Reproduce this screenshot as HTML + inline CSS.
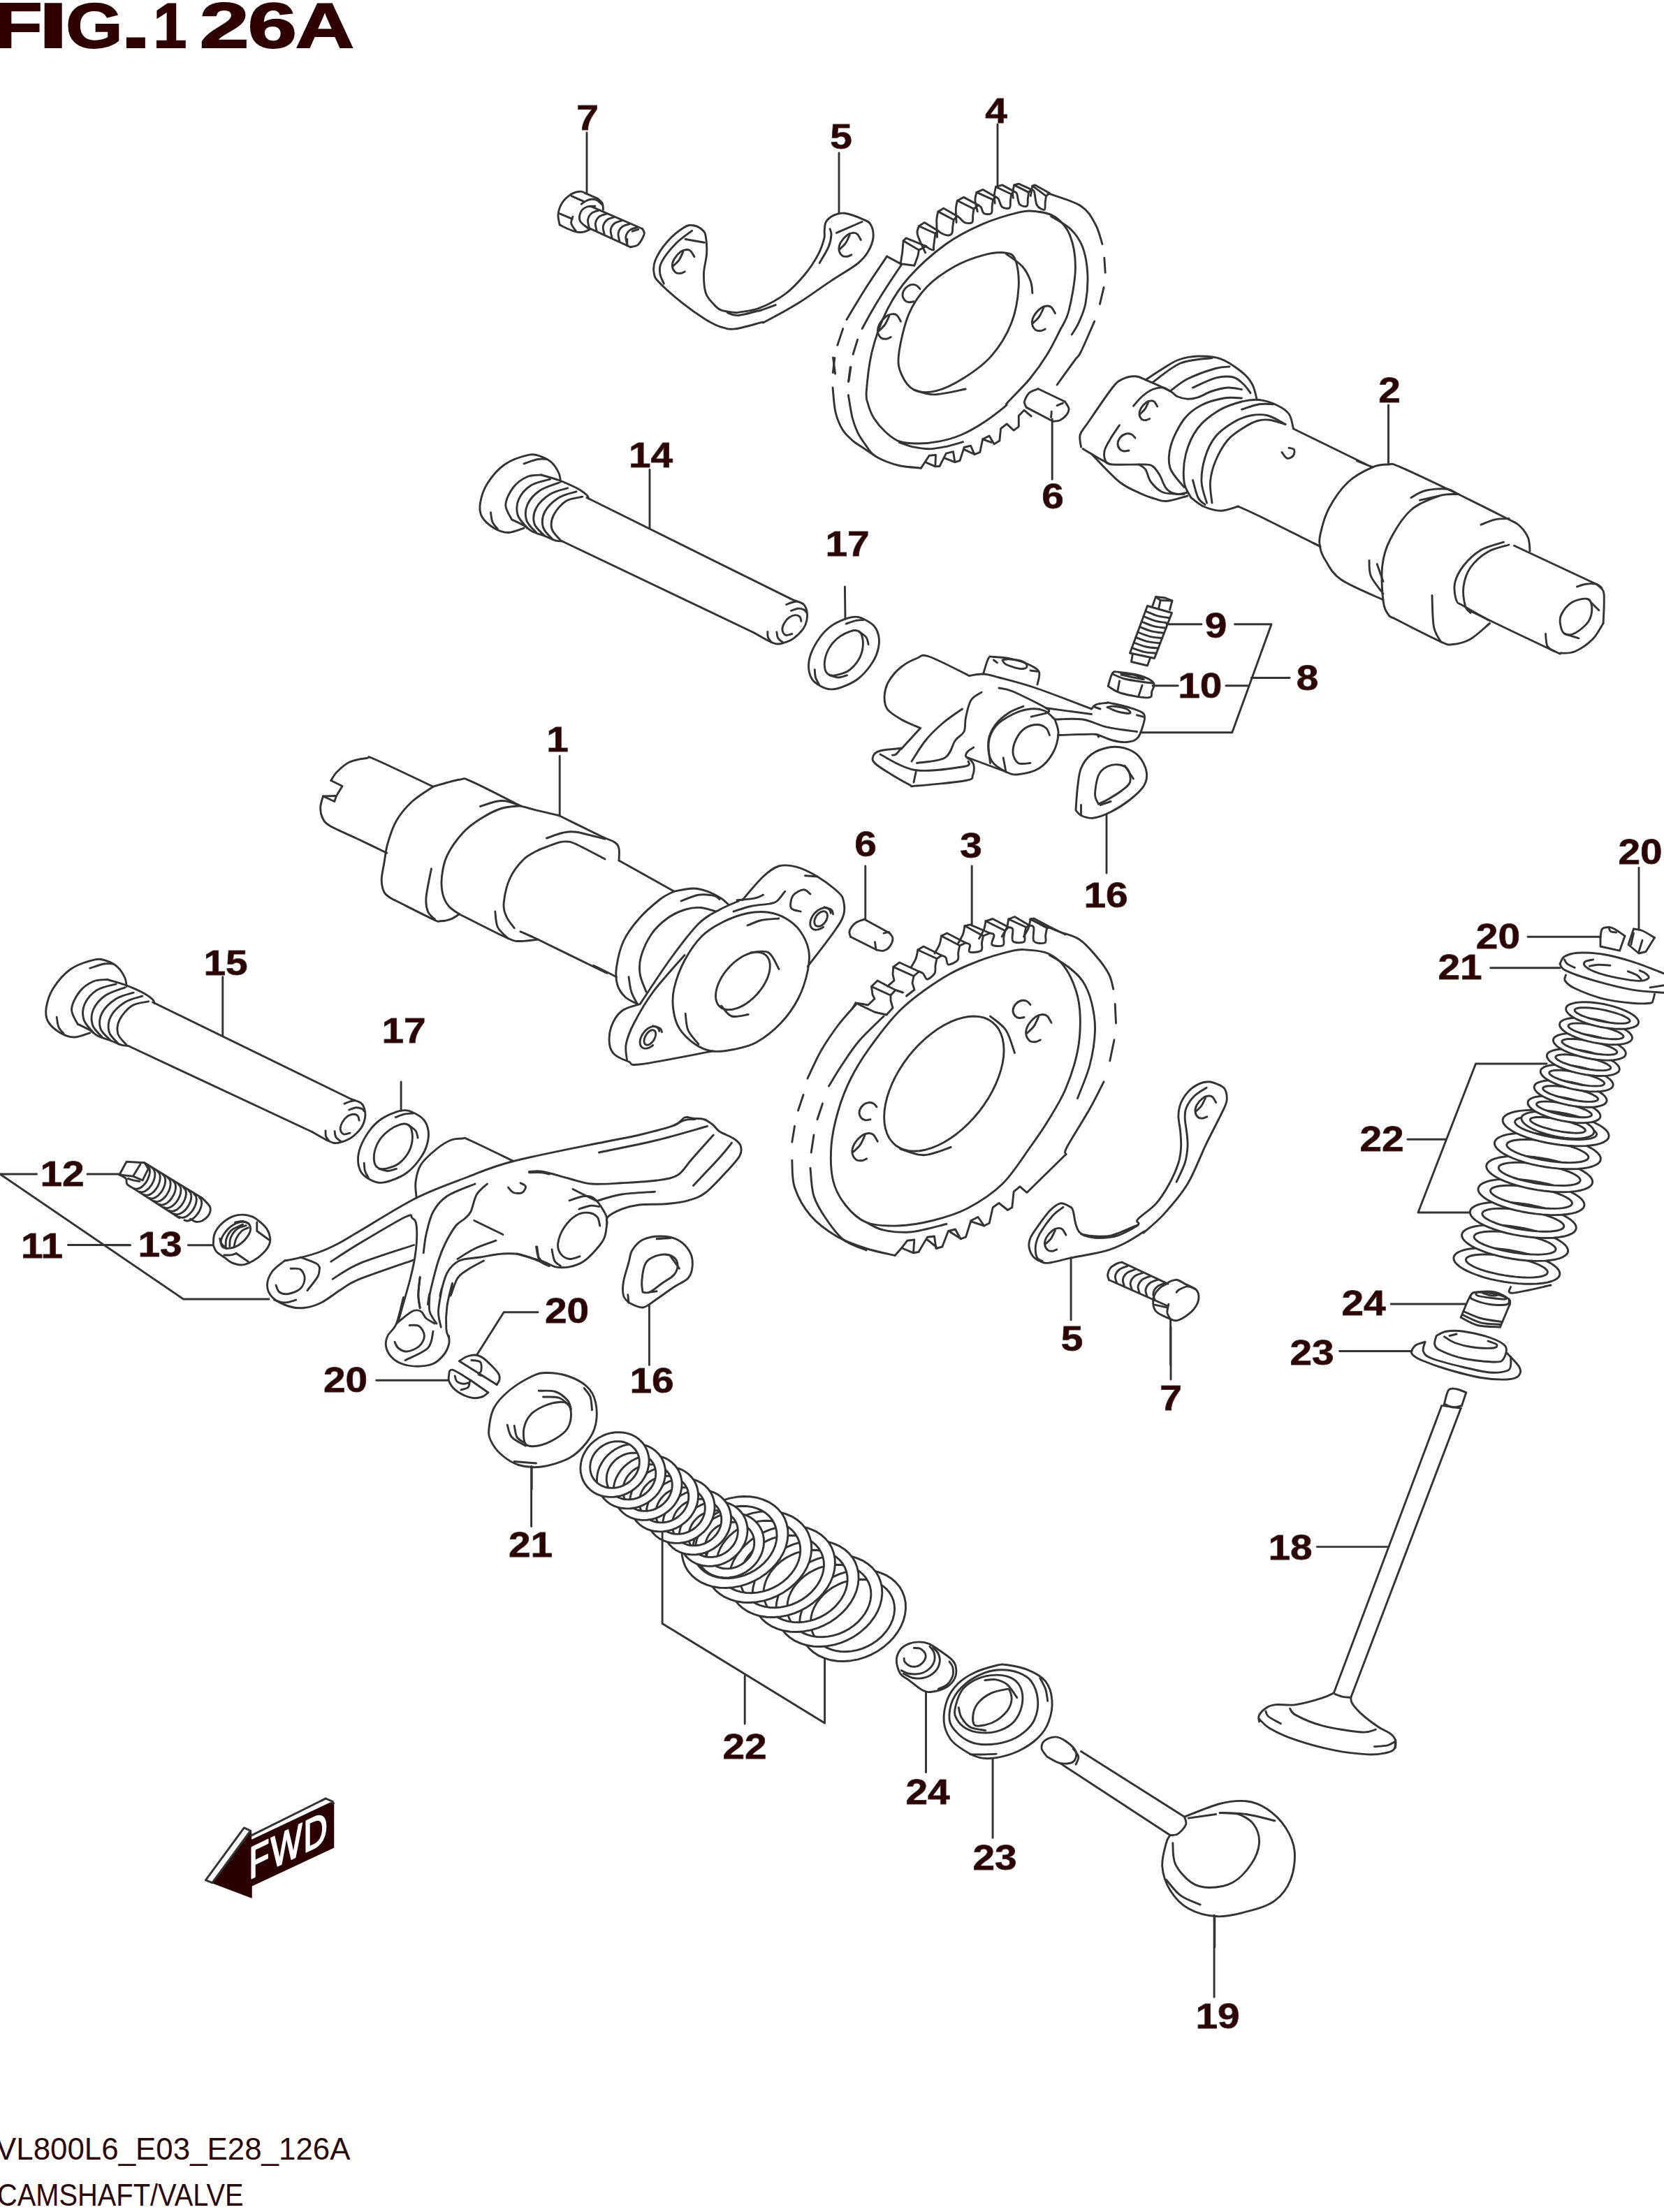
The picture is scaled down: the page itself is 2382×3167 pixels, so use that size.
<!DOCTYPE html>
<html><head><meta charset="utf-8"><style>
html,body{margin:0;padding:0;background:#fff;}
body{width:2382px;height:3167px;overflow:hidden;position:relative;}
.t{position:absolute;font-family:"Liberation Sans",sans-serif;color:#2a0808;white-space:nowrap;}
svg{position:absolute;left:0;top:0;}
</style></head><body>
<div class="t" id="f1" style="left:-6px;top:3051px;font-size:45px;transform-origin:0 0;transform:scaleX(0.975);">VL800L6_E03_E28_126A</div>
<div class="t" id="f2" style="left:-4px;top:3118px;font-size:44px;transform-origin:0 0;transform:scaleX(0.905);">CAMSHAFT/VALVE</div>
<svg width="2382" height="3167" viewBox="0 0 2382 3167">
<g fill="none" stroke="#333" stroke-width="2.9" stroke-linecap="round" stroke-linejoin="round">
<!-- a01_bolt7.py -->
<path d="M801.2 321.9 C800.9 319.4 798.4 312.2 799 306.9 C799.6 301.6 801.8 294.8 805 290 C808.2 285.2 813.8 280.5 818.1 277.8 C822.5 275.2 827.8 274.2 831.2 274.1 C834.8 274 837.8 276.7 839.1 277.2"/>
<path d="M839.1 277.2 L855.6 284.4"/>
<path d="M855.6 284.4 C856.7 285.5 860.9 288.3 862.2 290.9 C863.5 293.6 863.3 298.8 863.5 300.3"/>
<path d="M801.2 321.9 C803.1 322.8 808.4 325.8 812.5 327.5 C816.6 329.2 821.9 331.4 825.6 332.2 C829.4 333 831.9 332.8 835 332.2 C838.1 331.6 842.8 329.1 844.4 328.4"/>
<path d="M832.2 292.2 C833.3 291.5 836.4 288.9 838.8 287.8 C841.1 286.6 843.6 285.5 846.2 285.3 C848.9 285.1 852 285.3 854.7 286.6 C857.3 288 860.9 292.2 862.2 293.4"/>
<path d="M820 310.2 C819.6 311.9 817 316.5 817.8 320 C818.5 323.5 823.5 329.4 824.7 331.2"/>
<path d="M818.1 280.6 L835 288.1"/>
<path d="M801.2 305.9 L819.1 313.4"/>
<path d="M846.2 295.6 L919.4 327.5"/>
<path d="M844.4 327.1 L902.5 353.8"/>
<path d="M902.5 353.8 C904.4 353.1 910.5 353.1 913.8 350 C917 346.9 921.2 338.8 922.2 335 C923.1 331.2 919.8 328.8 919.4 327.5"/>
<path d="M841.6 326.6 C839.7 324.8 832 320.2 830.3 316.2 C828.7 312.3 829.9 306.5 831.6 303.1 C833.3 299.8 837.2 297.3 840.6 296 C844 294.7 850 295.4 851.9 295.2"/>
<path d="M843.4 326 C843.1 324.1 840.9 317.9 841.6 314.4 C842.2 310.9 844.5 307.2 847.2 305 C849.8 302.8 855.8 301.9 857.5 301.2"/>
<path d="M854.3 330.9 C854 329 851.8 322.8 852.4 319.3 C853.1 315.8 855.4 312.1 858.1 309.9 C860.7 307.7 866.7 306.8 868.4 306.1"/>
<path d="M865.2 335.8 C864.9 333.9 862.7 327.7 863.3 324.2 C863.9 320.7 866.3 317 868.9 314.8 C871.6 312.6 877.5 311.7 879.2 311"/>
<path d="M876.1 340.7 C875.8 338.7 873.6 332.6 874.2 329.1 C874.8 325.6 877.2 321.9 879.8 319.7 C882.5 317.5 888.4 316.6 890.1 315.9"/>
<path d="M886.9 345.6 C886.6 343.6 884.4 337.4 885.1 333.9 C885.7 330.4 888 326.8 890.7 324.6 C893.3 322.4 899.3 321.4 901 320.8"/>
<path d="M897.8 350.5 C897.5 348.5 895.3 342.3 895.9 338.8 C896.6 335.3 898.9 331.7 901.6 329.5 C904.2 327.3 910.2 326.3 911.9 325.7"/>
<path d="M905.3 331.2 L913.8 328.4"/>
<path d="M897.8 342.5 L897.8 351.9"/>
<!-- a02_bracket5.py -->
<path d="M1010.3 338.8 C1009.3 333.1 1008.6 332 1005.6 329.4 C1002.7 326.7 996.9 323.4 992.5 322.8 C988.1 322.2 985.6 321.7 979.4 325.6 C973.1 329.5 961.9 338.4 955 346.2 C948.1 354.1 941.2 365 938.1 372.5 C935 380 935.3 385.9 936.2 391.2 C937.2 396.6 936.9 397.2 943.8 404.4 C950.6 411.6 966.6 425.6 977.5 434.4 C988.4 443.1 1000.3 451.2 1009.4 456.9 C1018.4 462.5 1024.7 465.8 1031.9 468.1 C1039.1 470.5 1042.8 472 1052.5 470.9 C1062.2 469.8 1082.7 463.4 1090 461.6 C1097.3 459.7 1087.4 464.6 1096.2 460 C1105.1 455.4 1127.5 443.4 1143.1 433.8 C1158.8 424.1 1175.9 411.2 1190 401.9 C1204.1 392.5 1218.8 384.4 1227.5 377.5 C1236.2 370.6 1238.8 366.9 1242.5 360.6 C1246.2 354.4 1249.4 346.6 1250 340 C1250.6 333.4 1248.8 325.6 1246.2 321.2 C1243.8 316.9 1241.2 316.4 1235 313.8 C1228.8 311.1 1215.6 306.2 1208.8 305.3 C1201.9 304.4 1198.1 306.1 1193.8 308.1 C1189.4 310.2 1184.8 313.8 1182.5 317.5 C1180.2 321.2 1180.7 326.6 1180.2 330.6 C1179.8 334.7 1181.2 336.2 1179.7 341.9 C1178.2 347.5 1175.8 355.9 1171.2 364.4 C1166.7 372.8 1160.3 383.1 1152.5 392.5 C1144.7 401.9 1135.3 412.5 1124.4 420.6 C1113.4 428.8 1097.8 436.9 1086.9 441.2 C1075.9 445.6 1064.5 445.8 1058.8 446.9 C1053 447.9 1057 448 1052.5 447.5 C1048 447 1037.2 445.9 1031.9 443.8 C1026.6 441.6 1024.2 438.4 1020.6 434.4 C1017 430.3 1012.5 426.6 1010.3 419.4 C1008.1 412.2 1007.3 400.6 1007.5 391.2 C1007.7 381.9 1011.2 371.9 1011.6 363.1 C1012.1 354.4 1011.3 344.4 1010.3 338.8 Z"/>
<path d="M990.6 330.3 C986.9 333.3 975.3 340.8 968.1 348.1 C960.9 355.5 951.4 367.2 947.5 374.4 C943.6 381.6 944.2 385.9 944.7 391.2 C945.2 396.6 949.4 403.8 950.3 406.2"/>
<path d="M1041.2 447.5 C1043.8 448.2 1048.1 452.2 1056.2 451.6 C1064.4 451 1084.9 444.9 1090 443.8 C1095.1 442.6 1083.5 446.2 1086.9 445 C1090.3 443.8 1106.4 438 1110.3 436.6"/>
<path d="M981.2 342.5 L1008.4 347.2"/>
<path d="M993.9 367.6 C993 366.2 990.5 361 988.6 359.3 C986.8 357.6 985.1 357.3 982.7 357.5 C980.3 357.7 977.3 358.2 974.4 360.4 C971.4 362.7 966.9 367.6 964.9 371.2 C962.9 374.7 962.1 378.7 962.5 381.8 C962.9 385 965.3 388.6 967.2 390.2 C969.2 391.8 972.2 391.5 974.4 391.3 C976.6 391.1 979.3 389.3 980.3 388.9"/>
<path d="M977.9 360.4 C976.9 362.4 974.4 368.9 972 372.3 C969.6 375.7 965.1 379.3 963.7 380.7"/>
<path d="M1173.1 376.6 C1175.3 372.7 1183.4 359.8 1186.2 353.1 C1189.1 346.4 1189.7 340.5 1190 336.2 C1190.3 332 1188.4 329.2 1188.1 327.8"/>
<path d="M1197.5 333.4 L1234.1 317.5"/>
<path d="M1232.3 343.5 C1231.5 342.1 1229 336.9 1227.1 335.2 C1225.3 333.5 1223.6 333.2 1221.2 333.4 C1218.8 333.6 1215.8 334.1 1212.9 336.3 C1209.9 338.6 1205.4 343.5 1203.4 347.1 C1201.4 350.6 1200.6 354.6 1201 357.7 C1201.4 360.9 1203.8 364.5 1205.8 366.1 C1207.7 367.7 1210.7 367.4 1212.9 367.2 C1215.1 367 1217.8 365.2 1218.8 364.8"/>
<path d="M1216.4 336.3 C1215.4 338.3 1212.9 344.8 1210.5 348.2 C1208.1 351.6 1203.6 355.2 1202.2 356.6"/>
<path d="M1201 219 L1201 306"/>
<!-- a04_gear4.py -->
<path d="M1301 397.2 C1315 381.5 1335.9 362.7 1353.4 350 C1370.9 337.4 1388.3 328.9 1405.8 321.2 C1423.3 313.6 1445.1 307.3 1458.2 304.2 C1471.3 301.1 1475.7 301.8 1484.4 302.9 C1493.2 304 1502.8 305.1 1510.6 310.7 C1518.5 316.4 1526.8 324.7 1531.6 336.9 C1536.4 349.2 1539.7 366.1 1539.4 384.1 C1539.2 402.1 1533.7 430.3 1530 445 C1526.3 459.7 1522.7 462.1 1517.5 472.5 C1512.3 482.9 1506.2 495.8 1499 507.5 C1491.8 519.2 1483.4 531.1 1474 542.5 C1464.6 553.9 1448.4 569.4 1442.5 576 C1436.6 582.6 1444.6 577 1438.8 581.9 C1432.9 586.8 1417.9 598.5 1407.5 605.3 C1397.1 612.1 1386.7 618.1 1376.2 622.5 C1365.8 626.9 1355.4 629.8 1345 631.9 C1334.6 634 1323.4 635 1313.8 635 C1304.1 635 1295 634.7 1287.2 631.9 C1279.4 629 1272.9 623.3 1266.9 617.8 C1260.9 612.3 1255.3 605.6 1251.2 599.1 C1247.2 592.6 1244.5 585.3 1242.7 578.8 C1240.8 572.2 1239.3 572.8 1240.3 560 C1241.3 547.2 1243.7 521.3 1248.6 502 C1253.5 482.7 1260.8 461.8 1269.6 444.4 C1278.3 426.9 1287 412.9 1301 397.2 Z"/>
<path d="M1504.6 309.9 C1509.3 312.9 1525.3 320.9 1532.8 328.2 C1540.3 335.5 1545.7 343 1549.7 353.6 C1553.7 364.2 1556.1 378.3 1556.8 391.7 C1557.5 405.1 1556.1 422.2 1554 434 C1551.9 445.7 1547.4 454.6 1544.1 462.2 C1540.8 469.7 1535.9 476.3 1534.2 479.1"/>
<path d="M1500.1 276.7 C1508 279.7 1536 287.6 1547.3 295 C1558.6 302.4 1563 312.1 1568.1 321.2 C1573.2 330.2 1576.3 344.7 1577.9 349.4"/>
<path d="M1580.8 369.1 L1582.2 390.3"/>
<path d="M1580.1 411.4 L1574.4 435.4"/>
<path d="M1566.7 460.1 C1563.4 467.5 1551.6 495.2 1546.9 504.5 C1542.2 513.8 1544.1 508 1538.5 515.8 C1532.8 523.5 1517.3 545.1 1513.1 551"/>
<path d="M1290.5 378.9 C1287 384.1 1276.6 399.4 1269.6 410.3 C1262.6 421.2 1254.5 434.3 1248.6 444.4 C1242.7 454.4 1236.6 466.2 1234.2 470.6"/>
<path d="M1227.6 486.3 L1221.1 507.3"/>
<path d="M1217.2 525.6 L1214.5 546.6"/>
<path d="M1218 525.6 L1215 545.6"/>
<path d="M1214.4 565.6 C1215.3 570.9 1217.8 588.5 1220 597.5 C1222.2 606.5 1224.7 612.9 1227.8 619.4 C1230.9 625.9 1235.1 631.4 1238.8 636.6 C1242.4 641.8 1245 646.7 1249.7 650.6 C1254.4 654.5 1260.4 657.3 1266.9 660 C1273.4 662.7 1280.2 665.3 1288.8 667 C1297.3 668.7 1313.5 669.6 1318.4 670.2"/>
<path d="M1269.6 367.1 C1264.8 374.3 1250.4 395.2 1240.7 410.3 C1231.1 425.4 1216.7 449.6 1211.9 457.5"/>
<path d="M1206.7 470.6 L1198.8 494.2"/>
<path d="M1194.9 512.5 L1192.3 533.5"/>
<path d="M1192.5 512 L1195.6 535"/>
<path d="M1192 555 C1192.7 560.8 1193.7 580 1196 590 C1198.3 600 1202 608.3 1206 615 C1210 621.7 1215.1 625.9 1220 630.3 C1224.9 634.7 1230.7 637.9 1235.6 641.2 C1240.6 644.6 1247.3 649.1 1249.7 650.6"/>
<path d="M1286.6 507.3 C1288.3 492.8 1294.2 465.8 1301 449.6 C1307.8 433.5 1316.3 421.7 1327.2 410.3 C1338.1 399 1353.4 388.9 1366.5 381.5 C1379.6 374.1 1394 369 1405.8 365.8 C1417.6 362.5 1429.4 361 1437.3 361.8 C1445.1 362.7 1449.5 362.9 1453 371 C1456.5 379.1 1459.1 395 1458.2 410.3 C1457.3 425.6 1454.3 446.1 1447.7 462.7 C1441.2 479.3 1430.3 496.8 1418.9 509.9 C1407.6 523 1392.7 533 1379.6 541.3 C1366.5 549.6 1352.1 556.8 1340.3 559.7 C1328.5 562.5 1317.2 562.3 1308.9 558.4 C1300.6 554.4 1294.2 544.6 1290.5 536.1 C1286.8 527.6 1284.9 521.7 1286.6 507.3 Z"/>
<path d="M1439.9 363.1 C1443.8 366.2 1457.6 374.9 1463.5 381.5 C1469.4 388 1472.9 396.1 1475.3 402.5 C1477.7 408.8 1477.4 416.6 1477.9 419.5"/>
<path d="M1308.9 558.4 C1313.7 559.4 1325.5 565.1 1337.7 564.9 C1349.9 564.7 1374.8 558.4 1382.2 557"/>
<path d="M1287.2 633.4 C1290.3 634.5 1298.9 638.1 1305.9 639.7 C1313 641.2 1321.6 642.8 1329.4 642.8 C1337.2 642.8 1344.6 641.4 1352.8 639.7 C1361 638 1374.3 633.8 1378.6 632.7"/>
<path d="M1317 413.7 C1316.2 412.9 1314.2 409.7 1312 408.7 C1309.8 407.7 1306.7 407 1304 407.7 C1301.3 408.4 1298 410.4 1296 412.7 C1294 415 1292.2 418.9 1292 421.7 C1291.8 424.5 1293.5 427.9 1295 429.7 C1296.5 431.5 1298.8 432.4 1301 432.7 C1303.2 433 1306.8 431.9 1308 431.7"/>
<path d="M1289.5 460.2 C1288.6 458.8 1286 453.3 1284 451.5 C1282 449.7 1280.2 449.4 1277.8 449.6 C1275.2 449.8 1272.1 450.3 1269 452.7 C1265.9 455.1 1261.1 460.2 1259 464 C1256.9 467.8 1256.1 471.9 1256.5 475.2 C1256.9 478.5 1259.4 482.3 1261.5 484 C1263.6 485.7 1266.7 485.4 1269 485.2 C1271.3 485 1274.2 483.1 1275.2 482.7"/>
<path d="M1272.8 452.7 C1271.7 454.8 1269 461.7 1266.5 465.2 C1264 468.8 1259.2 472.5 1257.8 474"/>
<path d="M1510.5 448.6 C1509.6 447.2 1507 441.7 1505 439.9 C1503 438.1 1501.2 437.8 1498.8 438 C1496.2 438.2 1493.1 438.7 1490 441.1 C1486.9 443.5 1482.1 448.6 1480 452.4 C1477.9 456.1 1477.1 460.3 1477.5 463.6 C1477.9 466.9 1480.4 470.7 1482.5 472.4 C1484.6 474.1 1487.7 473.8 1490 473.6 C1492.3 473.4 1495.2 471.5 1496.2 471.1"/>
<path d="M1493.8 441.1 C1492.7 443.2 1490 450.1 1487.5 453.6 C1485 457.2 1480.2 460.9 1478.8 462.4"/>
<path d="M1318.4 670.2 L1330.2 652.2 L1339.5 651.4 L1338.8 667.8 L1345 667.5 L1354.4 649.1 L1364.5 646.7 L1366.9 661.6 L1373.9 659.7 L1380.2 640.5 L1389.5 638.1 L1395 650.6 L1402.8 647.5 L1406.7 628.8 L1416.1 624.1 L1423.1 635.8 L1430.9 631.1 L1432.5 613.9 L1441.1 606.9 L1451.2 616.2 L1458.3 610.8 L1458.3 595.2 L1466.1 587.3 L1476.2 595.9"/>
<path d="M1326.2 662.3 L1338.8 667.8"/>
<path d="M1352.8 656.1 L1366.9 661.6"/>
<path d="M1380.2 643.6 L1393.4 649.8"/>
<path d="M1406.7 628.8 L1419.2 633.4"/>
<path d="M1269.6 367.1 L1289.2 377.6 L1308.9 380.2 L1314.1 365.8 L1315.4 357.9"/>
<path d="M1289.2 377.6 L1291.8 360.5 L1293.1 344.8"/>
<path d="M1293.1 344.8 L1297.1 340.9 L1325.9 352.7 L1315.4 357.9 L1293.1 344.8"/>
<path d="M1315.4 323.8 L1323.3 318.6 L1342.9 330.4 L1339 334.3 L1315.4 323.8"/>
<path d="M1342.9 302.9 L1350.8 298.2 L1370.4 309.4 L1365.2 314.7 L1342.9 302.9"/>
<path d="M1370.4 287.2 L1379.6 282.4 L1400.6 293.7 L1394 299 L1370.4 287.2"/>
<path d="M1398 275.4 L1407.1 271.4 L1425.5 281.9 L1421.5 285.9 L1398 275.4"/>
<path d="M1425.5 267.5 L1434.6 264.9 L1451.7 274.1 L1447.7 278 L1425.5 267.5"/>
<path d="M1451.7 264.9 L1458.2 263.1 L1476.6 271.4 L1472.6 275.4 L1451.7 264.9"/>
<path d="M1477.9 266.2 L1481.8 264.9 L1502.8 276.7 L1497.5 280.6 L1477.9 266.2"/>
<path d="M1324.6 361.8 C1322.7 357.5 1314.9 342 1313.3 335.6 C1311.8 329.3 1315.1 325.8 1315.4 323.8"/>
<path d="M1325.9 352.7 C1326.6 353.2 1328.1 354.9 1329.8 355.8 C1331.6 356.7 1335.3 358.2 1336.4 357.9 C1337.5 357.6 1336.2 356.4 1336.4 354 C1336.6 351.6 1337.3 346.8 1337.7 343.5 C1338.1 340.2 1338.8 335.9 1339 334.3"/>
<path d="M1341.6 339.6 C1341.5 335.4 1340.6 320.8 1340.8 314.7 C1341.1 308.6 1342.6 304.8 1342.9 302.9"/>
<path d="M1342.9 330.4 C1343.6 330.9 1344.7 332.4 1346.9 333.5 C1349 334.6 1353.4 336.8 1356 336.9 C1358.7 337.1 1361.3 336.5 1362.6 334.3 C1363.9 332.1 1363.5 327.1 1363.9 323.8 C1364.3 320.6 1365 316.2 1365.2 314.7"/>
<path d="M1369.1 318.6 C1369 315.3 1368.1 304.2 1368.3 299 C1368.6 293.7 1370.1 289.1 1370.4 287.2"/>
<path d="M1370.4 309.4 C1371.1 310 1372.6 311.1 1374.4 312.6 C1376.1 314.1 1378.1 317.6 1380.9 318.6 C1383.8 319.6 1389.4 320.4 1391.4 318.6 C1393.4 316.9 1392.3 311.4 1392.7 308.1 C1393.2 304.8 1393.8 300.5 1394 299"/>
<path d="M1399.3 302.9 C1398.7 300.3 1396.1 291.7 1395.9 287.2 C1395.6 282.6 1397.6 277.3 1398 275.4"/>
<path d="M1400.6 293.7 C1401.2 294.2 1403.2 294.9 1404.5 296.9 C1405.8 298.8 1406 304.1 1408.4 305.5 C1410.8 306.9 1417 307.3 1418.9 305.5 C1420.9 303.8 1419.8 298.3 1420.2 295 C1420.7 291.7 1421.3 287.4 1421.5 285.9"/>
<path d="M1424.2 291.1 C1424 289.1 1423.2 283.2 1423.4 279.3 C1423.6 275.4 1425.1 269.5 1425.5 267.5"/>
<path d="M1425.5 281.9 C1426.1 282.4 1427.9 282.7 1429.4 285.1 C1430.9 287.5 1432 294.2 1434.6 296.3 C1437.3 298.4 1443.2 299.2 1445.1 297.6 C1447.1 296.1 1446 290.4 1446.4 287.2 C1446.9 283.9 1447.5 279.5 1447.7 278"/>
<path d="M1450.4 283.2 C1450.2 282.1 1449.4 279.7 1449.6 276.7 C1449.8 273.6 1451.3 266.9 1451.7 264.9"/>
<path d="M1451.7 274.1 C1452.3 274.6 1454.3 274.1 1455.6 277.2 C1456.9 280.3 1457.1 289.4 1459.5 292.4 C1461.9 295.4 1468 296.3 1470 295 C1472 293.7 1470.9 287.8 1471.3 284.5 C1471.8 281.3 1472.4 276.9 1472.6 275.4"/>
<path d="M1475.3 280.6 C1475.3 280.2 1475.3 280.4 1475.8 278 C1476.2 275.6 1477.5 268.2 1477.9 266.2"/>
<path d="M1476.6 271.4 C1477.2 272 1479.2 270.9 1480.5 274.6 C1481.8 278.3 1482 289.4 1484.4 293.7 C1486.8 298 1492.9 300.9 1494.9 300.3 C1496.9 299.6 1495.8 293.1 1496.2 289.8 C1496.7 286.5 1497.3 282.1 1497.5 280.6"/>
<path d="M1486.3 556.7 C1484.2 557.6 1476.9 559.2 1473.6 562.3 C1470.3 565.3 1467.2 571.5 1466.5 575 C1465.8 578.5 1468.9 582 1469.4 583.4"/>
<path d="M1486.3 556.7 L1524.4 575"/>
<path d="M1524.4 575 C1525.3 576.6 1529.5 581.8 1530 584.9 C1530.5 587.9 1529.3 590.5 1527.2 593.3 C1525.1 596.1 1520.6 600.1 1517.3 601.8 C1514 603.4 1509.1 603 1507.4 603.2"/>
<path d="M1469.4 583.4 L1507.4 603.2"/>
<path d="M1513.1 580.6 L1521.5 577.1"/>
<path d="M1505.3 589.1 L1504.6 597.5"/>
<path d="M1506.2 600 L1506.2 686.2"/>
<path d="M1428 178 L1428 266"/>
<!-- a05_cam2.py -->
<path d="M1547.5 640 C1547.3 637.1 1544.6 628.3 1546.2 622.5 C1547.9 616.7 1549.8 616.2 1557.5 605 C1565.2 593.8 1584.2 565.4 1592.5 555 C1600.8 544.6 1602.1 545.2 1607.5 542.5 C1612.9 539.8 1619.6 538.5 1625 538.8 C1630.4 539 1631.7 540.2 1640 543.8 C1648.3 547.3 1667.5 556 1675 560 C1682.5 564 1680.8 565.6 1685 567.5 C1689.2 569.4 1695 571 1700 571.2 C1705 571.5 1709.2 570.6 1715 568.8 C1720.8 566.9 1727.9 562.3 1735 560 C1742.1 557.7 1750.4 555.4 1757.5 555 C1764.6 554.6 1774.2 557.1 1777.5 557.5"/>
<path d="M1622.5 581.2 C1624.6 579 1630.4 571.5 1635 567.5 C1639.6 563.5 1645 559.6 1650 557.5 C1655 555.4 1660.8 554.6 1665 555 C1669.2 555.4 1673.3 559.2 1675 560"/>
<path d="M1550 642.5 C1555 645.4 1572.9 656.2 1580 660 C1587.1 663.8 1582.9 664.2 1592.5 665 C1602.1 665.8 1627.9 664.6 1637.5 665 C1647.1 665.4 1646.2 665 1650 667.5 C1653.8 670 1656.7 674.6 1660 680 C1663.3 685.4 1665.8 695.4 1670 700 C1674.2 704.6 1680 706.7 1685 707.5 C1690 708.3 1697.5 705.4 1700 705"/>
<path d="M1562.5 650 C1569.2 656.7 1590.4 680.4 1602.5 690 C1614.6 699.6 1626.7 703.5 1635 707.5 C1643.3 711.5 1646.7 712.1 1652.5 713.8 C1658.3 715.4 1662.1 718.1 1670 717.5 C1677.9 716.9 1695 711.2 1700 710"/>
<path d="M1630 665 C1631.7 666.2 1637.1 668.3 1640 672.5 C1642.9 676.7 1643.3 684.6 1647.5 690 C1651.7 695.4 1657.1 702.1 1665 705 C1672.9 707.9 1690 707.1 1695 707.5"/>
<path d="M1602.5 608.8 C1600.4 611.9 1593.5 621.5 1590 627.5 C1586.5 633.5 1582.5 639.6 1581.2 645 C1580 650.4 1581 656.7 1582.5 660 C1584 663.3 1588.8 664.2 1590 665"/>
<path d="M1656.7 582 C1656 580.9 1654 576.6 1652.5 575.2 C1650.9 573.9 1649.5 573.6 1647.6 573.8 C1645.6 573.9 1643.2 574.3 1640.8 576.2 C1638.3 578 1634.6 582.1 1633 585 C1631.3 587.9 1630.7 591.1 1631 593.7 C1631.3 596.3 1633.3 599.3 1634.9 600.6 C1636.5 601.9 1639 601.7 1640.8 601.5 C1642.5 601.3 1644.8 599.9 1645.6 599.6"/>
<path d="M1643.7 576.2 C1642.9 577.8 1640.8 583.1 1638.8 585.9 C1636.8 588.7 1633.1 591.6 1632 592.8"/>
<path d="M1625 627 C1624.2 626.2 1622.2 623 1620 622 C1617.8 621 1614.7 620.3 1612 621 C1609.3 621.7 1606 623.7 1604 626 C1602 628.3 1600.2 632.2 1600 635 C1599.8 637.8 1601.5 641.2 1603 643 C1604.5 644.8 1606.8 645.7 1609 646 C1611.2 646.3 1614.8 645.2 1616 645"/>
<path d="M1640 543.8 C1644.2 541 1657.1 532.3 1665 527.5 C1672.9 522.7 1679.2 517.9 1687.5 515 C1695.8 512.1 1705 510.2 1715 510 C1725 509.8 1737.1 510 1747.5 513.8 C1757.9 517.5 1770 526.5 1777.5 532.5 C1785 538.5 1789 543.8 1792.5 550 C1796 556.2 1797.7 566.7 1798.8 570"/>
<path d="M1650 547.5 C1656.7 542.9 1675.8 525.8 1690 520 C1704.2 514.2 1727.5 513.8 1735 512.5"/>
<path d="M1675 560 C1679.2 557.1 1689.2 547.9 1700 542.5 C1710.8 537.1 1730 530.4 1740 527.5 C1750 524.6 1756.7 525.4 1760 525"/>
<path d="M1707.5 555 C1712.9 552.7 1730.4 543.8 1740 541.2 C1749.6 538.8 1758.3 538.5 1765 540 C1771.7 541.5 1775.8 546.2 1780 550 C1784.2 553.8 1788.3 560.4 1790 562.5"/>
<path d="M1695 697.5 C1691.7 692.9 1678.1 680 1675 670 C1671.9 660 1672.9 649.2 1676.2 637.5 C1679.6 625.8 1687.7 609.6 1695 600 C1702.3 590.4 1710.4 585 1720 580 C1729.6 575 1742.9 571.7 1752.5 570 C1762.1 568.3 1773.3 570 1777.5 570"/>
<path d="M1705 712.5 C1703.3 708.8 1696.2 700.4 1695 690 C1693.8 679.6 1694.2 662.9 1697.5 650 C1700.8 637.1 1707.1 622.9 1715 612.5 C1722.9 602.1 1734.6 593.8 1745 587.5 C1755.4 581.2 1767.9 577.5 1777.5 575 C1787.1 572.5 1794.2 571.7 1802.5 572.5 C1810.8 573.3 1820.4 576.7 1827.5 580 C1834.6 583.3 1841 587.1 1845 592.5 C1849 597.9 1850.2 609.2 1851.2 612.5"/>
<path d="M1727.5 720 C1726.2 715 1720.4 700.8 1720 690 C1719.6 679.2 1721.7 665.8 1725 655 C1728.3 644.2 1733.3 633.3 1740 625 C1746.7 616.7 1756.7 610 1765 605 C1773.3 600 1781.7 596.7 1790 595 C1798.3 593.3 1806.7 592.9 1815 595 C1823.3 597.1 1835.8 605.4 1840 607.5"/>
<path d="M1777.5 586.2 C1781.7 585 1795 580 1802.5 578.8 C1810 577.5 1819.2 578.8 1822.5 578.8"/>
<path d="M1705 712.5 C1707.9 714.6 1715.4 721.9 1722.5 725 C1729.6 728.1 1739.2 731.2 1747.5 731.2 C1755.8 731.2 1768.3 726 1772.5 725"/>
<path d="M1707.5 687.5 C1708.8 691.7 1712.1 706.7 1715 712.5 C1717.9 718.3 1723.3 720.8 1725 722.5"/>
<path d="M1735 720 C1734.6 715 1731.7 700 1732.5 690 C1733.3 680 1735.8 670 1740 660 C1744.2 650 1750.8 637.9 1757.5 630 C1764.2 622.1 1772.9 617.1 1780 612.5 C1787.1 607.9 1793.8 604.4 1800 602.5 C1806.2 600.6 1810.8 600.4 1817.5 601.2 C1824.2 602.1 1836.2 606.5 1840 607.5"/>
<path d="M1835 647.5 C1836.2 649 1839.8 655.4 1842.5 656.2 C1845.2 657.1 1849.6 654.6 1851.2 652.5 C1852.9 650.4 1853.5 645.6 1852.5 643.8 C1851.5 641.9 1846.2 641.7 1845 641.2"/>
<path d="M1851.2 613.8 L1956 665"/>
<path d="M1772.5 725 C1777.9 727.5 1785.4 730.4 1805 740 C1824.6 749.6 1875.8 775.4 1890 782.5"/>
<path d="M2087.5 707.5 C2073.8 701 2021.7 675.8 2005 668.8 C1988.3 661.7 1994.2 665 1987.5 665 C1980.8 665 1974.6 664.6 1965 668.8 C1955.4 672.9 1940.4 680.2 1930 690 C1919.6 699.8 1909.2 715 1902.5 727.5 C1895.8 740 1892.1 755.4 1890 765 C1887.9 774.6 1888.8 778.8 1890 785 C1891.2 791.2 1892.5 795 1897.5 802.5 C1902.5 810 1906.2 820.6 1920 830 C1933.8 839.4 1970 854 1980 858.8"/>
<path d="M1942.5 660 L1965 668.8"/>
<path d="M1880 777.5 L1890 782.5"/>
<path d="M2087.5 707.5 C2099.2 713.3 2142.9 735 2157.5 742.5 C2172.1 750 2170 747.9 2175 752.5 C2180 757.1 2185 764 2187.5 770 C2190 776 2189.6 785.6 2190 788.8"/>
<path d="M2087.5 707.5 C2082.9 707.9 2071.2 706.2 2060 710 C2048.8 713.8 2031.7 719.6 2020 730 C2008.3 740.4 1996.9 759.2 1990 772.5 C1983.1 785.8 1980.4 795.4 1978.8 810 C1977.1 824.6 1978.5 848.3 1980 860 C1981.5 871.7 1984.2 875.4 1987.5 880 C1990.8 884.6 1987.5 881 2000 887.5 C2012.5 894 2049.2 912.9 2062.5 918.8 C2075.8 924.6 2072.9 923.1 2080 922.5 C2087.1 921.9 2096.2 920 2105 915 C2113.8 910 2127.9 896.2 2132.5 892.5"/>
<path d="M2020 712.5 C2023.3 710.8 2031.7 704.6 2040 702.5 C2048.3 700.4 2062.1 699.2 2070 700 C2077.9 700.8 2084.6 706.2 2087.5 707.5"/>
<path d="M2032.5 716.2 L2060 710"/>
<path d="M2120 751.2 C2123.3 750 2133.3 745.2 2140 743.8 C2146.7 742.3 2156.7 742.7 2160 742.5"/>
<path d="M1960 802.5 C1960.4 806.2 1959.2 817.1 1962.5 825 C1965.8 832.9 1977.1 845.8 1980 850"/>
<path d="M1971.2 807.5 L1980 832.5"/>
<path d="M2050 852.5 C2050.4 860 2050.4 886.5 2052.5 897.5 C2054.6 908.5 2060.8 915.2 2062.5 918.8"/>
<path d="M2152.5 776.2 C2147.1 778.1 2129.6 781.9 2120 787.5 C2110.4 793.1 2101.2 802.1 2095 810 C2088.8 817.9 2084.2 826.7 2082.5 835 C2080.8 843.3 2082.9 854.6 2085 860 C2087.1 865.4 2087.1 862.7 2095 867.5 C2102.9 872.3 2126.2 885.2 2132.5 888.8"/>
<path d="M2160 780 C2155 781.7 2139.2 784.6 2130 790 C2120.8 795.4 2110.8 804.2 2105 812.5 C2099.2 820.8 2096.2 830.8 2095 840 C2093.8 849.2 2095.8 861.2 2097.5 867.5 C2099.2 873.8 2103.8 875.8 2105 877.5"/>
<path d="M2167.5 781.2 L2285 836.2"/>
<path d="M2105 875 C2124.2 884.2 2198.3 920 2220 930 C2241.7 940 2229.2 934.6 2235 935 C2240.8 935.4 2247.5 935.8 2255 932.5 C2262.5 929.2 2273.3 921.7 2280 915 C2286.7 908.3 2292.5 896.2 2295 892.5"/>
<path d="M2285 836.2 C2286.2 837.3 2290.7 840.2 2292.5 842.5 C2294.3 844.8 2295.4 845 2296 850 C2296.6 855 2296.2 865.4 2296 872.5 C2295.8 879.6 2295.2 889.2 2295 892.5"/>
<path d="M2235 880 C2237.7 874.6 2243.8 866.2 2250 862.5 C2256.2 858.8 2267.7 856.2 2272.5 857.5 C2277.3 858.8 2278.5 864.6 2278.8 870 C2279 875.4 2277.7 884 2273.8 890 C2269.8 896 2260.6 903.3 2255 906.2 C2249.4 909.2 2243.5 909.4 2240 907.5 C2236.5 905.6 2234.6 899.6 2233.8 895 C2232.9 890.4 2232.3 885.4 2235 880 Z"/>
<path d="M2240 907.5 L2260 913.8"/>
<path d="M2277.5 862.5 L2288.8 873.8"/>
<path d="M2257.5 840 C2259.6 839.4 2265.4 836.9 2270 836.2 C2274.6 835.6 2281.2 835.4 2285 836.2 C2288.8 837.1 2291.2 840.4 2292.5 841.2"/>
<path d="M2212.5 907.5 C2212.9 910.4 2212.9 920.8 2215 925 C2217.1 929.2 2223.3 931.2 2225 932.5"/>
<!-- a06_shaft14.py -->
<path d="M750 756.2 C746.2 757.3 734.6 762.5 727.5 762.5 C720.4 762.5 713.8 760 707.5 756.2 C701.2 752.5 693.3 746 690 740 C686.7 734 686.2 727.9 687.5 720 C688.8 712.1 691.7 701.7 697.5 692.5 C703.3 683.3 712.5 671.9 722.5 665 C732.5 658.1 748.8 653.1 757.5 651.2 C766.2 649.4 769.6 651.9 775 653.8 C780.4 655.6 785.8 658.5 790 662.5 C794.2 666.5 797.9 672.9 800 677.5 C802.1 682.1 802.1 687.9 802.5 690"/>
<path d="M750 663.8 C753.3 662.7 764.6 658.5 770 657.5 C775.4 656.5 780.4 657.5 782.5 657.5"/>
<path d="M702.5 733.8 C702.9 736 703.3 743.5 705 747.5 C706.7 751.5 711.2 755.8 712.5 757.5"/>
<path d="M732.5 743.8 C731 740.2 723.3 730.2 723.8 722.5 C724.2 714.8 729.8 704.2 735 697.5 C740.2 690.8 748.3 685.4 755 682.5 C761.7 679.6 771.7 680.4 775 680"/>
<path d="M755 756.2 C752.7 753.1 743.3 744.4 741.2 737.5 C739.2 730.6 739.4 722.1 742.5 715 C745.6 707.9 752.5 699.8 760 695 C767.5 690.2 782.9 687.7 787.5 686.2"/>
<path d="M767.5 762.5 C765.2 759.6 755.8 751.7 753.8 745 C751.7 738.3 751.9 729.6 755 722.5 C758.1 715.4 765 707.7 772.5 702.5 C780 697.3 795.4 693.1 800 691.2"/>
<path d="M780 767.5 C777.5 764.6 767.1 756.7 765 750 C762.9 743.3 763.8 734.6 767.5 727.5 C771.2 720.4 780 712.3 787.5 707.5 C795 702.7 808.3 700.2 812.5 698.8"/>
<path d="M791.2 772.5 C789 769.6 779.4 761.7 777.5 755 C775.6 748.3 776.2 739.6 780 732.5 C783.8 725.4 792.5 717.3 800 712.5 C807.5 707.7 820.8 705.2 825 703.8"/>
<path d="M802.5 773.8 C800.4 771 791.7 763.5 790 757.5 C788.3 751.5 789.2 744.2 792.5 737.5 C795.8 730.8 803.1 721.9 810 717.5 C816.9 713.1 829.8 712.3 833.8 711.2"/>
<path d="M775 680 C779.2 681.2 793.3 685.2 800 687.5 C806.7 689.8 810 691.5 815 693.8 C820 696 825.8 698.8 830 701.2 C834.2 703.8 837.9 706.7 840 708.8 C842.1 710.8 842.1 712.9 842.5 713.8"/>
<path d="M732.5 743.8 C735.4 745.2 745 749.6 750 752.5 C755 755.4 757.5 758.8 762.5 761.2 C767.5 763.8 774.6 765.4 780 767.5 C785.4 769.6 790.8 772.5 795 773.8 C799.2 775 803.3 774.8 805 775"/>
<path d="M840 712.5 L1136.2 859.4"/>
<path d="M805 775 L1080 906.2"/>
<path d="M1080 906.2 C1083.3 908.1 1094.8 914.9 1100 917.5 C1105.2 920.1 1107.7 921.4 1111.2 921.9 C1114.8 922.4 1117.1 922 1121.2 920.6 C1125.4 919.3 1131.5 917.2 1136.2 913.8 C1141 910.3 1146.9 904.4 1150 900 C1153.1 895.6 1154.2 891.7 1155 887.5 C1155.8 883.3 1155.8 878.8 1155 875 C1154.2 871.2 1152.5 867.4 1150 865 C1147.5 862.6 1142.3 861.6 1140 860.6 C1137.7 859.7 1136.9 859.6 1136.2 859.4"/>
<path d="M1125.6 865.6 C1127 865.1 1131.4 863.2 1133.8 862.5 C1136.1 861.8 1139 861.5 1140 861.2"/>
<path d="M1132.5 874.4 C1134.2 873.9 1139.4 871.5 1142.5 871.2 C1145.6 871 1149.4 872.3 1151.2 873.1 C1153.1 874 1153.3 875.7 1153.8 876.2"/>
<path d="M1133.8 907.5 C1132.3 907.8 1127.3 910.2 1125 909.4 C1122.7 908.5 1120.4 905.3 1120 902.5 C1119.6 899.7 1120.8 895.6 1122.5 892.5 C1124.2 889.4 1127.3 885.7 1130 883.8 C1132.7 881.8 1136.2 880.7 1138.8 880.6 C1141.2 880.5 1143.6 881.7 1145 883.1 C1146.4 884.6 1146.6 888.3 1146.9 889.4"/>
<path d="M1098.8 904.4 C1098.9 905.7 1098.5 910.1 1099.4 912.5 C1100.2 914.9 1103 917.7 1103.8 918.8"/>
<path d="M1111.9 905 C1112.2 906.5 1112.2 911.2 1113.8 913.8 C1115.3 916.2 1120 919 1121.2 920"/>
<path d="M930 672.5 L930 756.2"/>
<path d="M1225 883.1 C1229.4 883.1 1231.9 884.1 1236.2 886.2 C1240.6 888.4 1247.6 891.9 1251.2 896.2 C1254.9 900.6 1257.3 906.5 1258.1 912.5 C1259 918.5 1258.2 925.8 1256.2 932.5 C1254.3 939.2 1251 945.8 1246.2 952.5 C1241.5 959.2 1234.4 967.3 1227.5 972.5 C1220.6 977.7 1211.5 981.4 1205 983.8 C1198.5 986.1 1193.8 987.1 1188.8 986.9 C1183.8 986.7 1179.4 984.9 1175 982.5 C1170.6 980.1 1165.4 977.1 1162.5 972.5 C1159.6 967.9 1157.7 961.2 1157.5 955 C1157.3 948.8 1158.5 942.1 1161.2 935 C1164 927.9 1169 919 1173.8 912.5 C1178.5 906 1184 900.6 1190 896.2 C1196 891.9 1204.2 888.4 1210 886.2 C1215.8 884.1 1220.6 883.1 1225 883.1 Z"/>
<path d="M1227.5 903.1 C1230.2 904.2 1232.5 905.9 1233.8 910 C1235 914.1 1235.8 921.7 1235 927.5 C1234.2 933.3 1232.1 939.6 1228.8 945 C1225.4 950.4 1220 956.5 1215 960 C1210 963.5 1203.3 965.2 1198.8 966.2 C1194.2 967.3 1190.4 967.5 1187.5 966.2 C1184.6 965 1182.3 962.7 1181.2 958.8 C1180.2 954.8 1180 948.1 1181.2 942.5 C1182.5 936.9 1185.2 930.2 1188.8 925 C1192.3 919.8 1197.7 914.8 1202.5 911.2 C1207.3 907.7 1213.3 905.1 1217.5 903.8 C1221.7 902.4 1224.8 902.1 1227.5 903.1 Z"/>
<path d="M1230 904.4 C1231.7 905.7 1237.8 909.5 1240 912.5 C1242.2 915.5 1242.6 920.8 1243.1 922.5"/>
<path d="M1187.5 966.9 C1189.6 967.4 1195.8 970 1200 970 C1204.2 970 1210.4 967.4 1212.5 966.9"/>
<path d="M1211.2 893.1 C1213.3 892.4 1219.6 889.7 1223.8 888.8 C1227.9 887.8 1234.2 887.7 1236.2 887.5"/>
<path d="M1166.2 958.8 C1166.5 960.6 1166.5 966.5 1167.5 970 C1168.5 973.5 1171.7 978.3 1172.5 980"/>
<path d="M1209.4 840 L1210 886.2"/>
<path d="M128.8 1478.8 C125 1479.8 113.3 1485 106.2 1485 C99.2 1485 92.5 1482.5 86.2 1478.8 C80 1475 72.1 1468.5 68.8 1462.5 C65.4 1456.5 65 1450.4 66.2 1442.5 C67.5 1434.6 70.4 1424.2 76.2 1415 C82.1 1405.8 91.2 1394.4 101.2 1387.5 C111.2 1380.6 127.5 1375.6 136.2 1373.8 C145 1371.9 148.3 1374.4 153.8 1376.2 C159.2 1378.1 164.6 1381 168.8 1385 C172.9 1389 176.7 1395.4 178.8 1400 C180.8 1404.6 180.8 1410.4 181.2 1412.5"/>
<path d="M128.8 1386.2 C132.1 1385.2 143.3 1381 148.8 1380 C154.2 1379 159.2 1380 161.2 1380"/>
<path d="M81.2 1456.2 C81.7 1458.5 82.1 1466 83.8 1470 C85.4 1474 90 1478.3 91.2 1480"/>
<path d="M111.2 1466.2 C109.8 1462.7 102.1 1452.7 102.5 1445 C102.9 1437.3 108.5 1426.7 113.8 1420 C119 1413.3 127.1 1407.9 133.8 1405 C140.4 1402.1 150.4 1402.9 153.8 1402.5"/>
<path d="M133.8 1478.8 C131.5 1475.6 122.1 1466.9 120 1460 C117.9 1453.1 118.1 1444.6 121.2 1437.5 C124.4 1430.4 131.2 1422.3 138.8 1417.5 C146.2 1412.7 161.7 1410.2 166.2 1408.8"/>
<path d="M146.2 1485 C144 1482.1 134.6 1474.2 132.5 1467.5 C130.4 1460.8 130.6 1452.1 133.8 1445 C136.9 1437.9 143.8 1430.2 151.2 1425 C158.8 1419.8 174.2 1415.6 178.8 1413.8"/>
<path d="M158.8 1490 C156.2 1487.1 145.8 1479.2 143.8 1472.5 C141.7 1465.8 142.5 1457.1 146.2 1450 C150 1442.9 158.8 1434.8 166.2 1430 C173.8 1425.2 187.1 1422.7 191.2 1421.2"/>
<path d="M170 1495 C167.7 1492.1 158.1 1484.2 156.2 1477.5 C154.4 1470.8 155 1462.1 158.8 1455 C162.5 1447.9 171.2 1439.8 178.8 1435 C186.2 1430.2 199.6 1427.7 203.8 1426.2"/>
<path d="M181.2 1496.2 C179.2 1493.5 170.4 1486 168.8 1480 C167.1 1474 167.9 1466.7 171.2 1460 C174.6 1453.3 181.9 1444.4 188.8 1440 C195.6 1435.6 208.5 1434.8 212.5 1433.8"/>
<path d="M153.8 1402.5 C157.9 1403.8 172.1 1407.7 178.8 1410 C185.4 1412.3 188.8 1414 193.8 1416.2 C198.8 1418.5 204.6 1421.2 208.8 1423.8 C212.9 1426.2 216.7 1429.2 218.8 1431.2 C220.8 1433.3 220.8 1435.4 221.2 1436.2"/>
<path d="M111.2 1466.2 C114.2 1467.7 123.8 1472.1 128.8 1475 C133.8 1477.9 136.2 1481.2 141.2 1483.8 C146.2 1486.2 153.3 1487.9 158.8 1490 C164.2 1492.1 169.6 1495 173.8 1496.2 C177.9 1497.5 182.1 1497.3 183.8 1497.5"/>
<path d="M218.8 1435 L503.5 1574"/>
<path d="M183.8 1497.5 L447.2 1620.8"/>
<path d="M447.2 1620.8 C450.6 1622.7 462 1629.5 467.2 1632.1 C472.5 1634.7 475 1636 478.5 1636.5 C482 1637 484.3 1636.6 488.5 1635.2 C492.7 1633.9 498.7 1631.8 503.5 1628.3 C508.3 1624.9 514.1 1619 517.2 1614.6 C520.4 1610.2 521.4 1606.3 522.2 1602.1 C523.1 1597.9 523.1 1593.3 522.2 1589.6 C521.4 1585.8 519.8 1582 517.2 1579.6 C514.8 1577.2 509.5 1576.2 507.2 1575.2 C505 1574.3 504.1 1574.2 503.5 1574"/>
<path d="M492.9 1580.2 C494.2 1579.7 498.6 1577.8 501 1577.1 C503.4 1576.4 506.2 1576.1 507.2 1575.8"/>
<path d="M499.8 1589 C501.4 1588.5 506.6 1586.1 509.8 1585.8 C512.9 1585.6 516.6 1586.9 518.5 1587.7 C520.4 1588.6 520.6 1590.3 521 1590.8"/>
<path d="M501 1622.1 C499.5 1622.4 494.5 1624.8 492.2 1624 C490 1623.1 487.7 1619.9 487.2 1617.1 C486.8 1614.3 488.1 1610.2 489.8 1607.1 C491.4 1604 494.5 1600.3 497.2 1598.3 C500 1596.4 503.5 1595.3 506 1595.2 C508.5 1595.1 510.9 1596.3 512.2 1597.7 C513.6 1599.2 513.8 1602.9 514.1 1604"/>
<path d="M466 1619 C466.1 1620.3 465.8 1624.7 466.6 1627.1 C467.5 1629.5 470.3 1632.3 471 1633.3"/>
<path d="M479.1 1619.6 C479.4 1621.1 479.4 1625.8 481 1628.3 C482.6 1630.8 487.2 1633.6 488.5 1634.6"/>
<path d="M580 1589.6 C584.4 1589.6 586.9 1590.6 591.2 1592.8 C595.6 1594.9 602.6 1598.4 606.2 1602.8 C609.9 1607.1 612.3 1613 613.1 1619 C614 1625 613.2 1632.3 611.2 1639 C609.3 1645.7 606 1652.3 601.2 1659 C596.5 1665.7 589.4 1673.8 582.5 1679 C575.6 1684.2 566.5 1687.9 560 1690.2 C553.5 1692.6 548.8 1693.6 543.8 1693.4 C538.8 1693.2 534.4 1691.4 530 1689 C525.6 1686.6 520.4 1683.6 517.5 1679 C514.6 1674.4 512.7 1667.8 512.5 1661.5 C512.3 1655.2 513.5 1648.6 516.2 1641.5 C519 1634.4 524 1625.5 528.8 1619 C533.5 1612.5 539 1607.1 545 1602.8 C551 1598.4 559.2 1594.9 565 1592.8 C570.8 1590.6 575.6 1589.6 580 1589.6 Z"/>
<path d="M582.5 1609.6 C585.2 1610.7 587.5 1612.4 588.8 1616.5 C590 1620.6 590.8 1628.2 590 1634 C589.2 1639.8 587.1 1646.1 583.8 1651.5 C580.4 1656.9 575 1663 570 1666.5 C565 1670 558.3 1671.7 553.8 1672.8 C549.2 1673.8 545.4 1674 542.5 1672.8 C539.6 1671.5 537.3 1669.2 536.2 1665.2 C535.2 1661.3 535 1654.6 536.2 1649 C537.5 1643.4 540.2 1636.7 543.8 1631.5 C547.3 1626.3 552.7 1621.3 557.5 1617.8 C562.3 1614.2 568.3 1611.6 572.5 1610.2 C576.7 1608.9 579.8 1608.6 582.5 1609.6 Z"/>
<path d="M585 1610.9 C586.7 1612.2 592.8 1616 595 1619 C597.2 1622 597.6 1627.3 598.1 1629"/>
<path d="M542.5 1673.4 C544.6 1673.9 550.8 1676.5 555 1676.5 C559.2 1676.5 565.4 1673.9 567.5 1673.4"/>
<path d="M566.2 1599.6 C568.3 1598.9 574.6 1596.2 578.8 1595.2 C582.9 1594.3 589.2 1594.2 591.2 1594"/>
<path d="M521.2 1665.2 C521.5 1667.1 521.5 1673 522.5 1676.5 C523.5 1680 526.7 1684.8 527.5 1686.5"/>
<path d="M318.8 1398.8 L318.8 1483.8"/>
<path d="M574.1 1549 L574.1 1590.2"/>
<!-- a08_rocker8.py -->
<path d="M1387.5 967.5 C1377.9 962.9 1342.5 944.2 1330 940 C1317.5 935.8 1319.2 940 1312.5 942.5 C1305.8 945 1296.7 949.6 1290 955 C1283.3 960.4 1276.5 968.3 1272.5 975 C1268.5 981.7 1266.7 988.3 1266.2 995 C1265.8 1001.7 1266 1009.2 1270 1015 C1274 1020.8 1282.1 1025.4 1290 1030 C1297.9 1034.6 1312.9 1040.4 1317.5 1042.5"/>
<path d="M1407.5 965 C1408.8 961.2 1412.5 946.6 1415 942.5 C1417.5 938.4 1416.7 940.3 1422.5 940.5 C1428.3 940.7 1441.2 941.8 1450 943.8 C1458.8 945.8 1468.8 949.4 1475 952.5 C1481.2 955.6 1485.8 957.9 1487.5 962.5 C1489.2 967.1 1485.4 977.1 1485 980"/>
<path d="M1435 945 C1435.8 946 1435.8 949.2 1440 951.2 C1444.2 953.3 1455 956.9 1460 957.5 C1465 958.1 1469.2 956.7 1470 955 C1470.8 953.3 1469.2 949.4 1465 947.5 C1460.8 945.6 1450 944.2 1445 943.8 C1440 943.3 1436.7 944.8 1435 945"/>
<path d="M1422.5 945 L1427.5 948.8"/>
<path d="M1475 960 L1485 961.2"/>
<path d="M1387.5 967.5 C1390.8 967.1 1400.4 964.6 1407.5 965 C1414.6 965.4 1417.5 966.7 1430 970 C1442.5 973.3 1460.4 977.5 1482.5 985 C1504.6 992.5 1549.2 1010 1562.5 1015"/>
<path d="M1562.5 1015 C1563.5 1014 1565 1010.2 1568.8 1008.8 C1572.5 1007.3 1581.9 1006.7 1585 1006.2 C1588.1 1005.8 1582.5 1005.2 1587.5 1006.2 C1592.5 1007.3 1606.7 1009.8 1615 1012.5 C1623.3 1015.2 1634.2 1017.5 1637.5 1022.5 C1640.8 1027.5 1636.7 1036.7 1635 1042.5 C1633.3 1048.3 1631.2 1054.2 1627.5 1057.5 C1623.8 1060.8 1618.3 1062.1 1612.5 1062.5 C1606.7 1062.9 1599.2 1061.7 1592.5 1060 C1585.8 1058.3 1575.8 1053.3 1572.5 1052.5 C1569.2 1051.7 1573.3 1055.2 1572.5 1055 C1571.7 1054.8 1577.1 1051.7 1567.5 1051.2 C1557.9 1050.8 1523.8 1052.3 1515 1052.5"/>
<path d="M1585 1012.5 C1587.5 1013.5 1594.6 1017.3 1600 1018.8 C1605.4 1020.2 1615.4 1021.9 1617.5 1021.2 C1619.6 1020.6 1616.2 1016.7 1612.5 1015 C1608.8 1013.3 1599.6 1011.7 1595 1011.2 C1590.4 1010.8 1586.7 1012.3 1585 1012.5"/>
<path d="M1627.5 1023.8 L1636.2 1026.2"/>
<path d="M1567.5 1012.5 L1575 1015"/>
<path d="M1497.5 1013.8 L1562.5 1022.5"/>
<path d="M1510 1030 C1516.7 1030 1537.5 1028.1 1550 1030 C1562.5 1031.9 1572.1 1038.3 1585 1041.2 C1597.9 1044.2 1620.4 1046.5 1627.5 1047.5"/>
<path d="M1430 985 C1433.3 985.8 1438.8 985.2 1450 990 C1461.2 994.8 1489.2 1008.8 1497.5 1013.8 C1505.8 1018.8 1499.6 1019 1500 1020"/>
<path d="M1405 991.2 C1402.5 993.1 1393.8 996.5 1390 1002.5 C1386.2 1008.5 1384.2 1020 1382.5 1027.5 C1380.8 1035 1382.5 1042.1 1380 1047.5 C1377.5 1052.9 1372.1 1053.8 1367.5 1060 C1362.9 1066.2 1361.7 1079.6 1352.5 1085 C1343.3 1090.4 1319.2 1091.2 1312.5 1092.5"/>
<path d="M1377.5 1015 C1372.9 1018.3 1358.8 1027.5 1350 1035 C1341.2 1042.5 1332.5 1050.8 1325 1060 C1317.5 1069.2 1308.3 1085 1305 1090"/>
<path d="M1510 1030 C1510.8 1033.3 1515.4 1042.1 1515 1050 C1514.6 1057.9 1512.1 1069.2 1507.5 1077.5 C1502.9 1085.8 1495.8 1094.8 1487.5 1100 C1479.2 1105.2 1465.4 1107.9 1457.5 1108.8 C1449.6 1109.6 1446.2 1108.1 1440 1105 C1433.8 1101.9 1424.2 1096.7 1420 1090 C1415.8 1083.3 1414.2 1073.3 1415 1065 C1415.8 1056.7 1419.2 1047.1 1425 1040 C1430.8 1032.9 1441.7 1026.7 1450 1022.5 C1458.3 1018.3 1467.5 1015.8 1475 1015 C1482.5 1014.2 1489.2 1015 1495 1017.5 C1500.8 1020 1507.5 1027.9 1510 1030"/>
<path d="M1502.5 1052.5 C1501.7 1050.8 1500.4 1045 1497.5 1042.5 C1494.6 1040 1490 1037.5 1485 1037.5 C1480 1037.5 1472.5 1039.2 1467.5 1042.5 C1462.5 1045.8 1457.9 1051.7 1455 1057.5 C1452.1 1063.3 1449.6 1071.7 1450 1077.5 C1450.4 1083.3 1453.3 1090 1457.5 1092.5 C1461.7 1095 1472.1 1092.5 1475 1092.5"/>
<path d="M1465 1011.2 C1461.7 1012.7 1451.7 1015.6 1445 1020 C1438.3 1024.4 1430 1030.8 1425 1037.5 C1420 1044.2 1416.2 1050.8 1415 1060 C1413.8 1069.2 1417.1 1087.1 1417.5 1092.5"/>
<path d="M1476.2 1026.2 L1497.5 1021.2"/>
<path d="M1436.2 1085 L1440 1105"/>
<path d="M1290 1071.2 C1285 1071.9 1266.7 1073.1 1260 1075 C1253.3 1076.9 1250.8 1079.2 1250 1082.5 C1249.2 1085.8 1246.7 1088.3 1255 1095 C1263.3 1101.7 1290.4 1117.5 1300 1122.5 C1309.6 1127.5 1298.8 1125.8 1312.5 1125 C1326.2 1124.2 1369.2 1120 1382.5 1117.5 C1395.8 1115 1390.6 1113.8 1392.5 1110 C1394.4 1106.2 1394.8 1099.2 1393.8 1095 C1392.7 1090.8 1387.5 1086.7 1386.2 1085"/>
<path d="M1386.2 1085 L1440 1105"/>
<path d="M1260 1080 C1268.3 1083.8 1290 1099.6 1310 1102.5 C1330 1105.4 1367.3 1099.6 1380 1097.5 C1392.7 1095.4 1385.2 1091.2 1386.2 1090"/>
<path d="M1311.2 1105 L1308 1120"/>
<path d="M1290 1071.2 C1288.8 1072.7 1284.6 1078.3 1282.5 1080 C1280.4 1081.7 1278.3 1081 1277.5 1081.2"/>
<path d="M1317.5 1042.5 L1290 1072.5"/>
<path d="M1393.8 1070 C1392.3 1071 1386.9 1074.2 1385 1076.2 C1383.1 1078.3 1382.3 1080.8 1382.5 1082.5 C1382.7 1084.2 1385.6 1085.6 1386.2 1086.2"/>
<!-- a09_screw9_nut10.py -->
<path d="M1650 867 L1654.5 854.5 L1668 856 L1678 860 L1674.5 873"/>
<path d="M1654.5 854.5 L1661.2 859.5 L1678 860"/>
<path d="M1661.2 859.5 L1658.8 870.5"/>
<path d="M1642.5 867.5 L1677.5 877.5 L1652.5 942.5 L1617.5 935 L1642.5 867.5 Z"/>
<path d="M1639.7 875 C1642.6 876.1 1651.4 880.2 1657.2 881.9 C1663.1 883.5 1671.8 884.2 1674.7 884.7"/>
<path d="M1636.9 882.5 C1639.9 883.6 1648.6 887.6 1654.4 889.2 C1660.3 890.8 1669 891.5 1671.9 891.9"/>
<path d="M1634.2 890 C1637.1 891.1 1645.8 895.1 1651.7 896.6 C1657.5 898.1 1666.2 898.7 1669.2 899.2"/>
<path d="M1631.4 897.5 C1634.3 898.6 1643.1 902.5 1648.9 903.9 C1654.7 905.4 1663.5 906 1666.4 906.4"/>
<path d="M1628.6 905 C1631.5 906.1 1640.3 909.9 1646.1 911.3 C1651.9 912.7 1660.7 913.2 1663.6 913.6"/>
<path d="M1625.8 912.5 C1628.8 913.5 1637.5 917.3 1643.3 918.7 C1649.2 920.1 1657.9 920.5 1660.8 920.8"/>
<path d="M1623.1 920 C1626 921 1634.7 924.7 1640.6 926 C1646.4 927.4 1655.1 927.7 1658.1 928.1"/>
<path d="M1620.3 927.5 C1623.2 928.5 1631.9 932.1 1637.8 933.4 C1643.6 934.7 1652.4 935 1655.3 935.3"/>
<path d="M1621.2 937.5 L1619.5 947.5 L1642.5 953 L1646.2 943"/>
<path d="M1586.2 982.5 C1587.3 979.4 1589.8 967.1 1592.5 963.8 C1595.2 960.4 1595.8 961.9 1602.5 962.5 C1609.2 963.1 1624.4 965 1632.5 967.5 C1640.6 970 1648.5 973.8 1651.2 977.5 C1654 981.2 1650 986.5 1648.8 990 C1647.5 993.5 1651 998.3 1643.8 998.8 C1636.5 999.2 1614.6 995.2 1605 992.5 C1595.4 989.8 1589.4 984.2 1586.2 982.5"/>
<path d="M1605 966.2 C1607.9 966.9 1617.1 969 1622.5 970 C1627.9 971 1637.5 973.1 1637.5 972.5 C1637.5 971.9 1627.9 967.5 1622.5 966.2 C1617.1 965 1607.9 965.2 1605 965"/>
<path d="M1592.5 965 C1595.4 966.2 1602.9 970.1 1610 972 C1617.1 973.9 1628.2 975.2 1635 976.2 C1641.8 977.2 1647.9 977.7 1650.5 978"/>
<path d="M1602.5 975 L1600 988.8"/>
<path d="M1635 981.2 L1630 996.2"/>
<path d="M1670 893.8 L1720 893.8"/>
<path d="M1767.5 893.8 L1820 893.8 L1763.8 1048.8 L1632.5 1048.8"/>
<path d="M1650 981.8 L1686.2 981.8"/>
<path d="M1755 981.8 L1786.2 981.8"/>
<path d="M1791.2 970.5 L1846.2 970.5"/>
<!-- a10_washer16u.py -->
<path d="M1540 1160 C1540.4 1154.6 1541.2 1137.5 1542.5 1127.5 C1543.8 1117.5 1544.2 1107.9 1547.5 1100 C1550.8 1092.1 1555.8 1085 1562.5 1080 C1569.2 1075 1579.6 1071.5 1587.5 1070 C1595.4 1068.5 1602.9 1069.2 1610 1071.2 C1617.1 1073.3 1624.8 1076.9 1630 1082.5 C1635.2 1088.1 1640 1097.9 1641.2 1105 C1642.5 1112.1 1641.5 1118.3 1637.5 1125 C1633.5 1131.7 1625.4 1138.8 1617.5 1145 C1609.6 1151.2 1598.8 1158.1 1590 1162.5 C1581.2 1166.9 1572.1 1170.4 1565 1171.2 C1557.9 1172.1 1551.7 1169.4 1547.5 1167.5 C1543.3 1165.6 1541.2 1161.2 1540 1160"/>
<path d="M1572.5 1151.2 C1571.7 1149 1567.5 1144.4 1567.5 1137.5 C1567.5 1130.6 1569.6 1116.7 1572.5 1110 C1575.4 1103.3 1580 1100 1585 1097.5 C1590 1095 1597.5 1094.2 1602.5 1095 C1607.5 1095.8 1612.5 1098.3 1615 1102.5 C1617.5 1106.7 1619.2 1115 1617.5 1120 C1615.8 1125 1610.4 1128.3 1605 1132.5 C1599.6 1136.7 1590.4 1141.9 1585 1145 C1579.6 1148.1 1574.6 1150.2 1572.5 1151.2"/>
<path d="M1610 1096.2 L1622.5 1115"/>
<path d="M1575 1152.5 L1590 1147.5"/>
<path d="M1547.5 1152.5 L1547.5 1167.5"/>
<path d="M1584 1166 L1584 1250"/>
<!-- b01_gear3.py -->
<path d="M1290 1445 C1307.5 1428.3 1331.7 1411.5 1350 1400 C1368.3 1388.5 1383.3 1382.7 1400 1376.2 C1416.7 1369.8 1438.3 1364 1450 1361.2 C1461.7 1358.5 1461.7 1359.4 1470 1360 C1478.3 1360.6 1491.2 1361.2 1500 1365 C1508.8 1368.8 1515.8 1373.8 1522.5 1382.5 C1529.2 1391.2 1536 1405.4 1540 1417.5 C1544 1429.6 1545.8 1440.4 1546.2 1455 C1546.7 1469.6 1546 1487.5 1542.5 1505 C1539 1522.5 1532.1 1543.3 1525 1560 C1517.9 1576.7 1508.3 1591.3 1500 1605 C1491.7 1618.7 1485.8 1627 1475 1642 C1464.2 1657 1450 1680.3 1435 1695 C1420 1709.7 1401.7 1721.2 1385 1730 C1368.3 1738.8 1351.7 1743.3 1335 1747.5 C1318.3 1751.7 1300.8 1754.6 1285 1755 C1269.2 1755.4 1252.5 1755 1240 1750 C1227.5 1745 1217.9 1735 1210 1725 C1202.1 1715 1195.8 1704.2 1192.5 1690 C1189.2 1675.8 1188.8 1656.7 1190 1640 C1191.2 1623.3 1195.4 1605.8 1200 1590 C1204.6 1574.2 1210 1560 1217.5 1545 C1225 1530 1232.9 1516.7 1245 1500 C1257.1 1483.3 1272.5 1461.7 1290 1445 Z"/>
<path d="M1502.5 1367.5 C1507.1 1370.4 1522.1 1378.8 1530 1385 C1537.9 1391.2 1544.6 1396.7 1550 1405 C1555.4 1413.3 1559.6 1423.3 1562.5 1435 C1565.4 1446.7 1567.9 1460 1567.5 1475 C1567.1 1490 1564.2 1508.8 1560 1525 C1555.8 1541.2 1545.4 1564.6 1542.5 1572.5"/>
<path d="M1475 1316.2 C1481.2 1319 1500.8 1327.7 1512.5 1332.5 C1524.2 1337.3 1535.4 1338.8 1545 1345 C1554.6 1351.2 1562.9 1361.7 1570 1370 C1577.1 1378.3 1583.5 1387.3 1587.5 1395 C1591.5 1402.7 1592.7 1412.7 1593.8 1416.2"/>
<path d="M1596.2 1437.5 L1597.5 1465"/>
<path d="M1595 1488.8 L1588.8 1518.8"/>
<path d="M1580 1548.8 C1576.7 1555.2 1568.8 1572 1560 1587.5 C1551.2 1603 1533.2 1631.2 1527.5 1642 C1521.8 1652.8 1526.2 1650.8 1526 1652.5"/>
<path d="M1265 1455 C1259.2 1460.8 1240 1478.3 1230 1490 C1220 1501.7 1212.2 1514.2 1205 1525 C1197.8 1535.8 1189.6 1550 1186.5 1555"/>
<path d="M1177.5 1580 L1170 1602.5"/>
<path d="M1165 1625 L1161.2 1650"/>
<path d="M1160 1672.5 C1160.8 1679.2 1161.2 1700.4 1165 1712.5 C1168.8 1724.6 1175.4 1734.6 1182.5 1745 C1189.6 1755.4 1197.9 1767.5 1207.5 1775 C1217.1 1782.5 1234.6 1787.5 1240 1790"/>
<path d="M1225 1438.5 C1220.8 1443.3 1208.3 1456.4 1200 1467.5 C1191.7 1478.6 1182.3 1492.2 1175 1505 C1167.7 1517.8 1159.2 1537.5 1156 1544"/>
<path d="M1150 1567.5 L1142.5 1590"/>
<path d="M1137.5 1612.5 L1133.8 1635"/>
<path d="M1133.8 1661.2 C1134.4 1667.7 1133.1 1686.9 1137.5 1700 C1141.9 1713.1 1150 1728.3 1160 1740 C1170 1751.7 1184.2 1762.1 1197.5 1770 C1210.8 1777.9 1226 1782.9 1240 1787.5 C1254 1792.1 1274.4 1795.8 1281.2 1797.5"/>
<path d="M1401.7 1591.3 L1394.1 1600.3 L1386.1 1608.7 L1377.8 1616.5 L1369.1 1623.7 L1360.2 1630 L1351.3 1635.5 L1342.3 1640 L1333.4 1643.6 L1324.8 1646.2 L1316.4 1647.7 L1308.4 1648.2 L1300.9 1647.6 L1293.9 1646 L1287.6 1643.3 L1281.9 1639.7 L1277.1 1635 L1273 1629.5 L1269.8 1623.1 L1267.5 1615.9 L1266.1 1608 L1265.6 1599.5 L1266.1 1590.5 L1267.5 1581.1 L1269.8 1571.3 L1273.1 1561.3 L1277.1 1551.2 L1282 1541.1 L1287.7 1531.1 L1294 1521.4 L1301 1511.9 L1308.5 1503 L1316.5 1494.5 L1324.9 1486.7 L1333.6 1479.6 L1342.4 1473.2 L1351.4 1467.8 L1360.4 1463.2 L1369.2 1459.6 L1377.9 1457.1 L1386.3 1455.5 L1394.3 1455 L1401.8 1455.6 L1408.8 1457.2 L1415.1 1459.9 L1420.7 1463.6 L1425.6 1468.2 L1429.7 1473.7 L1432.9 1480.1 L1435.2 1487.3 L1436.6 1495.2 L1437.1 1503.7 L1436.6 1512.7 L1435.2 1522.2 L1432.8 1531.9 L1429.6 1541.9 L1425.5 1552 L1420.6 1562.1 L1415 1572.1 L1408.6 1581.8 L1401.7 1591.3 Z"/>
<path d="M1417.5 1455 C1421.2 1458.3 1434.2 1466.2 1440 1475 C1445.8 1483.8 1450.4 1502.1 1452.5 1507.5"/>
<path d="M1288.8 1645 C1294.4 1646.5 1310.4 1654.2 1322.5 1653.8 C1334.6 1653.3 1354.8 1644.4 1361.2 1642.5"/>
<path d="M1240 1750 C1244.2 1751.9 1254.2 1759 1265 1761.2 C1275.8 1763.5 1290 1765.2 1305 1763.8 C1320 1762.3 1346.7 1754.4 1355 1752.5"/>
<path d="M1475 1438.5 C1474.2 1437.7 1472.2 1434.5 1470 1433.5 C1467.8 1432.5 1464.7 1431.8 1462 1432.5 C1459.3 1433.2 1456 1435.2 1454 1437.5 C1452 1439.8 1450.2 1443.7 1450 1446.5 C1449.8 1449.3 1451.5 1452.7 1453 1454.5 C1454.5 1456.3 1456.8 1457.2 1459 1457.5 C1461.2 1457.8 1464.8 1456.7 1466 1456.5"/>
<path d="M1505 1464.2 C1504 1462.6 1501.2 1456.5 1499 1454.6 C1496.8 1452.6 1494.9 1452.3 1492.1 1452.5 C1489.4 1452.7 1485.9 1453.3 1482.5 1455.9 C1479.1 1458.6 1473.8 1464.2 1471.5 1468.3 C1469.2 1472.5 1468.3 1477 1468.8 1480.7 C1469.2 1484.3 1472 1488.5 1474.2 1490.3 C1476.5 1492.2 1480 1491.9 1482.5 1491.7 C1485 1491.4 1488.2 1489.4 1489.4 1488.9"/>
<path d="M1486.6 1455.9 C1485.5 1458.2 1482.5 1465.8 1479.8 1469.7 C1477 1473.6 1471.7 1477.7 1470.1 1479.3"/>
<path d="M1255 1584.8 C1254.2 1583.9 1252.2 1580.8 1250 1579.8 C1247.8 1578.8 1244.7 1578.1 1242 1578.8 C1239.3 1579.4 1236 1581.4 1234 1583.8 C1232 1586.1 1230.2 1589.9 1230 1592.8 C1229.8 1595.6 1231.5 1598.9 1233 1600.8 C1234.5 1602.6 1236.8 1603.4 1239 1603.8 C1241.2 1604.1 1244.8 1602.9 1246 1602.8"/>
<path d="M1256.3 1634.2 C1255.3 1632.6 1252.4 1626.5 1250.2 1624.6 C1248.1 1622.6 1246.1 1622.3 1243.4 1622.5 C1240.6 1622.7 1237.2 1623.3 1233.8 1625.9 C1230.3 1628.6 1225 1634.2 1222.8 1638.3 C1220.5 1642.5 1219.5 1647 1220 1650.7 C1220.5 1654.3 1223.2 1658.5 1225.5 1660.3 C1227.8 1662.2 1231.2 1661.9 1233.8 1661.7 C1236.3 1661.4 1239.5 1659.4 1240.6 1658.9"/>
<path d="M1237.9 1625.9 C1236.7 1628.2 1233.8 1635.8 1231 1639.7 C1228.2 1643.6 1223 1647.7 1221.4 1649.3"/>
<path d="M1281.2 1797.5 L1290 1787.5 L1298.8 1776.2 L1308.8 1775 L1307.5 1793.8 L1315 1792.5 L1327.5 1771.2 L1337.5 1770 L1340 1787.5 L1348.8 1785 L1357.5 1762.5 L1367.5 1760 L1375 1773.8 L1382.5 1771.2 L1390 1747.5 L1400 1742.5 L1408.8 1755 L1416.2 1751.2 L1421.2 1728.8 L1430 1722.5 L1442.5 1732.5 L1448.8 1728.8 L1451.2 1706.2 L1460 1698.8 L1470 1707.5 L1526 1652.5"/>
<path d="M1292.5 1787.5 L1307.5 1793.8"/>
<path d="M1327.5 1775 L1340 1785"/>
<path d="M1360 1763.8 L1373.8 1772.5"/>
<path d="M1390 1748.8 L1408.8 1755"/>
<path d="M1247.5 1412.5 L1256 1404 L1282 1417.5 L1275 1425 L1247.5 1412.5"/>
<path d="M1278.8 1384.4 L1287.5 1378 L1315.6 1391 L1308 1397.5 L1278.8 1384.4"/>
<path d="M1313.8 1360 L1322 1355 L1348 1368 L1341 1372.5 L1313.8 1360"/>
<path d="M1347.5 1340 L1355.6 1336 L1382.5 1350 L1373.8 1353.8 L1347.5 1340"/>
<path d="M1381 1325.6 L1388.8 1323.8 L1417 1336 L1407.5 1340 L1381 1325.6"/>
<path d="M1411 1318.8 L1421 1315.5 L1443.8 1327.5 L1438.8 1332.5 L1411 1318.8"/>
<path d="M1443.8 1316 L1452.5 1312.5 L1473.8 1325 L1468.8 1327.5 L1443.8 1316"/>
<path d="M1475 1316 L1480 1315 L1503.8 1327.5 L1498.8 1328.8 L1475 1316"/>
<path d="M1220 1444 L1225 1436 L1252 1449 L1269 1453 L1278 1443 L1275 1432.5 L1275 1425"/>
<path d="M1225 1436 L1235 1437.5 L1242.5 1439 L1252 1430 L1249 1424 L1247.5 1412.5"/>
<path d="M1282 1417.5 L1292.5 1421"/>
<path d="M1270.6 1412 L1280 1403.8 L1278 1395 L1278.8 1384.4"/>
<path d="M1308 1397.5 L1306 1407.5 L1309 1417 L1297.5 1426"/>
<path d="M1304.2 1385 C1305.4 1382.8 1309.7 1376.2 1311.2 1372 C1312.8 1367.8 1313.3 1362 1313.8 1360"/>
<path d="M1315.6 1391 C1316.6 1391.5 1319.6 1392.2 1321.6 1394 C1323.6 1395.8 1324.8 1402.1 1327.5 1402 C1330.2 1401.9 1336.1 1396.8 1338 1393.5 C1339.9 1390.2 1338.5 1386 1339 1382.5 C1339.5 1379 1340.7 1374.2 1341 1372.5"/>
<path d="M1338 1365 C1339.2 1362.8 1343.4 1356.2 1345 1352 C1346.6 1347.8 1347.1 1342 1347.5 1340"/>
<path d="M1348 1368 C1349 1368.5 1352.4 1368.8 1354 1371 C1355.6 1373.2 1354.7 1380.4 1357.5 1381 C1360.3 1381.6 1368.4 1377.6 1370.8 1374.8 C1373.1 1371.9 1371.2 1367.2 1371.8 1363.8 C1372.2 1360.2 1373.4 1355.4 1373.8 1353.8"/>
<path d="M1371.5 1350.6 C1372.7 1348.4 1376.9 1341.8 1378.5 1337.6 C1380.1 1333.4 1380.6 1327.6 1381 1325.6"/>
<path d="M1382.5 1350 C1383.5 1350.5 1387.6 1350.8 1388.5 1353 C1389.4 1355.2 1385.3 1361.7 1388 1363 C1390.7 1364.3 1401.6 1363.2 1404.5 1361 C1407.4 1358.8 1405 1353.5 1405.5 1350 C1406 1346.5 1407.2 1341.7 1407.5 1340"/>
<path d="M1401.5 1343.8 C1402.7 1341.6 1406.9 1334.9 1408.5 1330.8 C1410.1 1326.6 1410.6 1320.8 1411 1318.8"/>
<path d="M1417 1336 C1418 1336.5 1422.5 1336.2 1423 1339 C1423.5 1341.8 1417.9 1350.1 1420 1352.5 C1422.1 1354.9 1433 1355.2 1435.8 1353.5 C1438.5 1351.8 1436.2 1346 1436.8 1342.5 C1437.2 1339 1438.4 1334.2 1438.8 1332.5"/>
<path d="M1434.2 1341 C1435.4 1338.8 1439.7 1332.2 1441.2 1328 C1442.8 1323.8 1443.3 1318 1443.8 1316"/>
<path d="M1443.8 1327.5 C1444.8 1328 1448.7 1327.2 1449.8 1330.5 C1450.8 1333.8 1447.3 1344.5 1450 1347.5 C1452.7 1350.5 1463 1350.2 1465.8 1348.5 C1468.5 1346.8 1466.2 1341 1466.8 1337.5 C1467.2 1334 1468.4 1329.2 1468.8 1327.5"/>
<path d="M1465.5 1341 C1466.7 1338.8 1470.9 1332.2 1472.5 1328 C1474.1 1323.8 1474.6 1318 1475 1316"/>
<path d="M1473.8 1325 C1474.8 1325.5 1478.7 1324.2 1479.8 1328 C1480.8 1331.8 1477.3 1343.9 1480 1347.5 C1482.7 1351.1 1493 1351.2 1495.8 1349.8 C1498.5 1348.3 1496.2 1342.2 1496.8 1338.8 C1497.2 1335.2 1498.4 1330.4 1498.8 1328.8"/>
<path d="M1503.8 1327.5 L1525 1338"/>
<path d="M1237.5 1316.2 C1235.4 1317.1 1228.5 1318.5 1225 1321.2 C1221.5 1324 1217.5 1329.2 1216.2 1332.5 C1215 1335.8 1217.3 1339.8 1217.5 1341.2"/>
<path d="M1217.5 1341.2 L1255 1360"/>
<path d="M1255 1360 C1256.7 1360.2 1261.9 1362.1 1265 1361.2 C1268.1 1360.4 1271.6 1357.9 1273.8 1355 C1275.9 1352.1 1278 1346.9 1278 1343.8 C1278 1340.6 1274.5 1337.5 1273.8 1336.2"/>
<path d="M1237.5 1316.2 L1273.8 1336.2"/>
<path d="M1265 1336.2 L1272.5 1334.5"/>
<path d="M1252.5 1348.8 L1253.8 1358.8"/>
<path d="M1238.8 1240 L1238.8 1316.2"/>
<path d="M1391.2 1240 L1391.2 1325"/>
<!-- b02_cam1.py -->
<path d="M620 1126.2 C606.2 1119.8 553.3 1094.3 537.5 1087.5 C521.7 1080.7 531.2 1084.9 525 1085.5 C518.8 1086.1 507.1 1088 500 1091.2 C492.9 1094.5 486.9 1100.6 482.5 1105 C478.1 1109.4 475.2 1115.4 473.8 1117.5"/>
<path d="M473.8 1117.5 L490 1125.5 L481.2 1140 L478.8 1147.5 L462.5 1140"/>
<path d="M462.5 1140 L481.2 1139.5"/>
<path d="M462.5 1140 C461.9 1142.5 459 1150 458.8 1155 C458.5 1160 459 1165.4 461.2 1170 C463.5 1174.6 463.5 1177.1 472.5 1182.5 C481.5 1187.9 501.5 1196 515 1202.5 C528.5 1209 547.3 1218.1 553.8 1221.2"/>
<path d="M620 1126.2 C615 1129.8 598.8 1139.4 590 1147.5 C581.2 1155.6 573.3 1165 567.5 1175 C561.7 1185 557.9 1197.5 555 1207.5 C552.1 1217.5 551.5 1226.2 550 1235 C548.5 1243.8 546.2 1252.9 546.2 1260 C546.2 1267.1 547.7 1273.1 550 1277.5 C552.3 1281.9 557.5 1284.4 560 1286.2 C562.5 1288.1 564.2 1288.3 565 1288.8"/>
<path d="M620 1126.2 C626.2 1124.6 648.3 1117.5 657.5 1116.2 C666.7 1115 660.4 1112.5 675 1118.8 C689.6 1125 733.3 1147.9 745 1153.8"/>
<path d="M565 1288.8 C574.2 1293.3 609.2 1311.2 620 1316.2 C630.8 1321.2 625.8 1318.8 630 1318.8 C634.2 1318.8 640.4 1317.9 645 1316.2 C649.6 1314.6 655.4 1310 657.5 1308.8"/>
<path d="M617.5 1243.8 C616.2 1250.6 610.8 1274.8 610 1285 C609.2 1295.2 610.4 1299.8 612.5 1305 C614.6 1310.2 620.8 1314.4 622.5 1316.2"/>
<path d="M687.5 1154.5 C691.2 1153.3 703.8 1148.8 710 1147.5 C716.2 1146.2 719.2 1146 725 1147 C730.8 1148 741.7 1152.6 745 1153.8"/>
<path d="M745 1153.8 C740.4 1154.4 727.1 1154.4 717.5 1157.5 C707.9 1160.6 696.7 1166.7 687.5 1172.5 C678.3 1178.3 670.4 1183.8 662.5 1192.5 C654.6 1201.2 645 1214.6 640 1225 C635 1235.4 633.5 1245.8 632.5 1255 C631.5 1264.2 632.1 1272.9 633.8 1280 C635.4 1287.1 638.5 1292.7 642.5 1297.5 C646.5 1302.3 655 1306.9 657.5 1308.8"/>
<path d="M745 1153.8 C749.6 1155 763.3 1159 772.5 1161.2 C781.7 1163.5 795.4 1166.5 800 1167.5"/>
<path d="M800 1167.5 C810 1172.4 846.7 1190.6 860 1197 C873.3 1203.4 875.7 1203 880 1206 C884.3 1209 885 1210.7 886 1215 C887 1219.3 886 1229.2 886 1232"/>
<path d="M886 1232 L965 1276.2"/>
<path d="M782.5 1200 C786.2 1198.8 797.9 1194 805 1192.5 C812.1 1191 814.8 1189.8 825 1191.2 C835.2 1192.7 859.2 1199.6 866 1201.2"/>
<path d="M772.5 1216.2 C768.8 1218.5 757.1 1223.1 750 1230 C742.9 1236.9 734.8 1247.1 730 1257.5 C725.2 1267.9 722.1 1283.3 721.2 1292.5 C720.4 1301.7 722.5 1306.5 725 1312.5 C727.5 1318.5 734.4 1326 736.2 1328.8"/>
<path d="M772.5 1216.2 C777.1 1214.6 793.3 1208.1 800 1206.2 C806.7 1204.4 808.3 1204.6 812.5 1205 C816.7 1205.4 816.1 1204.6 825 1208.8 C833.9 1212.9 859.2 1226.5 866 1230"/>
<path d="M657.5 1308.8 C668.8 1314.4 710.4 1336 725 1342.5 C739.6 1349 737.5 1347.1 745 1347.5 C752.5 1347.9 765.8 1345.4 770 1345"/>
<path d="M745 1333.8 C749.6 1335.8 752.3 1336.5 772.5 1346.2 C792.7 1356 853.1 1386 866 1392 C878.9 1398 847.2 1381.4 850 1382.5 C852.8 1383.6 877.1 1396 882.5 1398.8"/>
<path d="M708.8 1305 C709.4 1308.8 709.4 1321 712.5 1327.5 C715.6 1334 725 1341 727.5 1343.8"/>
<path d="M801.2 1082.5 L801.2 1167.5"/>
<path d="M965 1276.2 C969.6 1275.5 984.6 1272 992.5 1272 C1000.4 1272 1005.8 1273.9 1012.5 1276.2 C1019.2 1278.6 1027.5 1283.1 1032.5 1286.2 C1037.5 1289.4 1040.8 1293.5 1042.5 1295"/>
<path d="M965 1276.2 C961.7 1278.1 953.3 1281 945 1287.5 C936.7 1294 923.8 1305 915 1315 C906.2 1325 897.9 1335.8 892.5 1347.5 C887.1 1359.2 884 1374.6 882.5 1385 C881 1395.4 881.7 1402.9 883.8 1410 C885.8 1417.1 890.2 1422.9 895 1427.5 C899.8 1432.1 909.6 1435.8 912.5 1437.5"/>
<path d="M1025 1305 C1021.2 1304.1 1010 1299.9 1002.5 1299.5 C995 1299.1 987.9 1299.9 980 1302.5 C972.1 1305.1 962.9 1309.2 955 1315 C947.1 1320.8 938.8 1328.3 932.5 1337.5 C926.2 1346.7 920.2 1360.4 917.5 1370 C914.8 1379.6 915 1386.7 916.2 1395 C917.5 1403.3 923.5 1415.8 925 1420"/>
<path d="M975 1290 C979.2 1288.5 992.1 1282.5 1000 1281.2 C1007.9 1280 1017.5 1281.5 1022.5 1282.5 C1027.5 1283.5 1028.8 1286.7 1030 1287.5"/>
<path d="M900 1398.8 C900.6 1402.3 901.7 1413.5 903.8 1420 C905.8 1426.5 911 1434.6 912.5 1437.5"/>
<path d="M916.2 1437.5 C911.9 1439.2 896.9 1442.1 890 1447.5 C883.1 1452.9 877.9 1462.1 875 1470 C872.1 1477.9 871.7 1488.3 872.5 1495 C873.3 1501.7 875.4 1505.8 880 1510 C884.6 1514.2 893.8 1517.7 900 1520 C906.2 1522.3 897.5 1526.2 917.5 1523.8 C937.5 1521.2 1002.9 1508.1 1020 1505"/>
<path d="M916.2 1437.5 C923.5 1426.7 946 1391.7 960 1372.5 C974 1353.3 988.3 1334.2 1000 1322.5 C1011.7 1310.8 1020.4 1307.9 1030 1302.5 C1039.6 1297.1 1052.9 1292.1 1057.5 1290"/>
<path d="M1062.5 1288.8 C1067.5 1283.1 1083.8 1263.1 1092.5 1255 C1101.2 1246.9 1107.1 1242.3 1115 1240 C1122.9 1237.7 1130.8 1238.8 1140 1241.2 C1149.2 1243.8 1160 1249 1170 1255 C1180 1261 1193.8 1271.7 1200 1277.5 C1206.2 1283.3 1206.2 1284.6 1207.5 1290 C1208.8 1295.4 1209.6 1302.9 1207.5 1310 C1205.4 1317.1 1203.5 1320.2 1195 1332.5 C1186.5 1344.8 1162.7 1375.2 1156.2 1383.8"/>
<path d="M897.5 1517.5 C897.3 1513.8 894.6 1503.8 896.2 1495 C897.9 1486.2 901 1477.5 907.5 1465 C914 1452.5 922.9 1436.2 935 1420 C947.1 1403.8 972.5 1376.2 980 1367.5"/>
<path d="M1055 1288.8 C1059.2 1288.3 1073.8 1287.5 1080 1286.2 C1086.2 1285 1090.4 1282.1 1092.5 1281.2"/>
<path d="M1050 1305 C1054.2 1303.8 1066.2 1299.4 1075 1297.5 C1083.8 1295.6 1096.2 1295 1102.5 1293.8 C1108.8 1292.5 1109 1292.9 1112.5 1290 C1116 1287.1 1121.9 1278.5 1123.8 1276.2"/>
<path d="M1152.5 1253.8 L1170 1255"/>
<path d="M1020 1505 C1010.8 1503.8 1002.9 1500.4 995 1495 C987.1 1489.6 977.7 1480.8 972.5 1472.5 C967.3 1464.2 965 1454.6 963.8 1445 C962.5 1435.4 962.3 1426.7 965 1415 C967.7 1403.3 973.3 1387.5 980 1375 C986.7 1362.5 995.8 1349.2 1005 1340 C1014.2 1330.8 1024.2 1325.4 1035 1320 C1045.8 1314.6 1059.2 1309.8 1070 1307.5 C1080.8 1305.2 1090.8 1305 1100 1306.2 C1109.2 1307.5 1117.5 1310.6 1125 1315 C1132.5 1319.4 1139.6 1325 1145 1332.5 C1150.4 1340 1155.6 1350.4 1157.5 1360 C1159.4 1369.6 1158.8 1378.3 1156.2 1390 C1153.8 1401.7 1149 1417.5 1142.5 1430 C1136 1442.5 1127.5 1454.6 1117.5 1465 C1107.5 1475.4 1093.8 1486.2 1082.5 1492.5 C1071.2 1498.8 1060.4 1500.4 1050 1502.5 C1039.6 1504.6 1029.2 1506.2 1020 1505 Z"/>
<path d="M1096.3 1367.6 L1098.3 1369.7 L1099.9 1372.3 L1101.1 1375.1 L1101.9 1378.3 L1102.3 1381.8 L1102.2 1385.5 L1101.7 1389.5 L1100.8 1393.6 L1099.5 1397.8 L1097.8 1402.1 L1095.7 1406.4 L1093.3 1410.7 L1090.5 1414.9 L1087.4 1419 L1084.1 1423 L1080.5 1426.7 L1076.8 1430.2 L1072.9 1433.5 L1068.9 1436.4 L1064.9 1438.9 L1060.8 1441.1 L1056.8 1442.9 L1052.8 1444.2 L1048.9 1445.2 L1045.2 1445.6 L1041.7 1445.7 L1038.5 1445.2 L1035.5 1444.4 L1032.8 1443.1 L1030.5 1441.3 L1028.5 1439.2 L1026.9 1436.7 L1025.7 1433.8 L1024.9 1430.6 L1024.5 1427.1 L1024.6 1423.4 L1025.1 1419.5 L1026 1415.4 L1027.3 1411.2 L1029 1406.9 L1031.1 1402.6 L1033.5 1398.3 L1036.3 1394 L1039.4 1389.9 L1042.7 1386 L1046.2 1382.2 L1050 1378.7 L1053.9 1375.5 L1057.9 1372.6 L1061.9 1370 L1066 1367.8 L1070 1366.1 L1074 1364.7 L1077.9 1363.8 L1081.5 1363.3 L1085 1363.3 L1088.3 1363.7 L1091.3 1364.6 L1094 1365.9 L1096.3 1367.6 Z"/>
<path d="M1075 1363.8 C1079.2 1363.8 1093.3 1359.8 1100 1363.8 C1106.7 1367.7 1112.5 1383.5 1115 1387.5"/>
<path d="M1032.5 1440 C1035 1442.5 1041 1452.9 1047.5 1455 C1054 1457.1 1067.3 1452.9 1071.2 1452.5"/>
<path d="M1070 1325 C1073.3 1323.8 1082.5 1319.2 1090 1317.5 C1097.5 1315.8 1110.8 1315.4 1115 1315"/>
<path d="M981.2 1451.2 C981.9 1455.2 981.9 1467.7 985 1475 C988.1 1482.3 997.5 1491.7 1000 1495"/>
<path d="M934.7 1496.5 L933.2 1497.6 L931.8 1498.6 L930.3 1499.5 L928.8 1500.1 L927.3 1500.6 L925.9 1501 L924.5 1501.1 L923.2 1501.1 L921.9 1500.9 L920.8 1500.6 L919.7 1500 L918.8 1499.3 L918 1498.4 L917.3 1497.4 L916.8 1496.3 L916.4 1495 L916.2 1493.6 L916.1 1492.2 L916.2 1490.6 L916.4 1489 L916.8 1487.4 L917.4 1485.7 L918.1 1484 L918.9 1482.3 L919.9 1480.7 L920.9 1479.1 L922.1 1477.6 L923.3 1476.2 L924.7 1474.9 L926.1 1473.7 L927.5 1472.6 L929 1471.7 L930.5 1471 L931.9 1470.3 L933.4 1469.9 L934.8 1469.6 L936.2 1469.6 L937.5 1469.7 L938.7 1469.9 L939.8 1470.4 L940.8 1471 L941.7 1471.8 L942.4 1472.7 L943.1 1473.8 L943.5 1475 L943.8 1476.3"/>
<path d="M936.5 1475.3 L937 1475.7 L937.5 1476.2 L937.9 1476.8 L938.2 1477.5 L938.5 1478.3 L938.6 1479.2 L938.7 1480.1 L938.6 1481.1 L938.5 1482.2 L938.3 1483.3 L938 1484.4 L937.6 1485.5 L937.1 1486.6 L936.6 1487.7 L936 1488.8 L935.3 1489.8 L934.6 1490.8 L933.8 1491.8 L933 1492.6 L932.2 1493.4 L931.3 1494.1 L930.4 1494.7 L929.6 1495.2 L928.7 1495.6 L927.9 1495.9 L927.1 1496.1 L926.3 1496.1 L925.5 1496 L924.9 1495.8 L924.2 1495.5 L923.7 1495.1 L923.2 1494.6 L922.8 1494 L922.5 1493.3 L922.2 1492.5 L922.1 1491.6 L922 1490.7 L922.1 1489.7 L922.2 1488.6 L922.4 1487.5 L922.7 1486.4 L923.1 1485.3 L923.6 1484.2 L924.1 1483.1 L924.7 1482 L925.4 1481 L926.1 1480 L926.9 1479 L927.7 1478.2 L928.5 1477.4 L929.4 1476.7 L930.2 1476.1 L931.1 1475.6 L932 1475.2 L932.8 1474.9 L933.6 1474.8 L934.4 1474.7 L935.1 1474.8 L935.8 1475 L936.5 1475.3 Z"/>
<path d="M935 1468.8 C936.7 1469.4 942.9 1471 945 1472.5 C947.1 1474 947.1 1476.7 947.5 1477.5"/>
<path d="M1178.6 1327.3 L1177.1 1328.3 L1175.5 1329.2 L1173.9 1329.9 L1172.4 1330.5 L1170.8 1330.9 L1169.4 1331.1 L1167.9 1331.2 L1166.5 1331.1 L1165.3 1330.8 L1164.1 1330.3 L1163.1 1329.7 L1162.1 1328.9 L1161.3 1327.9 L1160.7 1326.8 L1160.2 1325.6 L1159.9 1324.3 L1159.8 1322.8 L1159.8 1321.3 L1160 1319.7 L1160.3 1318.1 L1160.8 1316.5 L1161.5 1314.8 L1162.3 1313.1 L1163.2 1311.5 L1164.3 1309.9 L1165.5 1308.4 L1166.8 1306.9 L1168.2 1305.6 L1169.6 1304.3 L1171.1 1303.2 L1172.7 1302.3 L1174.2 1301.4 L1175.8 1300.8 L1177.3 1300.3 L1178.9 1299.9 L1180.3 1299.8 L1181.8 1299.8 L1183.1 1300 L1184.3 1300.4 L1185.4 1300.9 L1186.4 1301.6 L1187.3 1302.5 L1188 1303.5 L1188.6 1304.7 L1189 1305.9 L1189.2 1307.3"/>
<path d="M1182.1 1305.7 L1182.7 1306.2 L1183.3 1306.9 L1183.7 1307.6 L1184 1308.4 L1184.3 1309.3 L1184.4 1310.2 L1184.5 1311.2 L1184.4 1312.3 L1184.3 1313.3 L1184 1314.5 L1183.6 1315.6 L1183.2 1316.7 L1182.7 1317.8 L1182 1318.9 L1181.3 1320 L1180.6 1321 L1179.8 1321.9 L1178.9 1322.8 L1178 1323.6 L1177 1324.3 L1176 1324.9 L1175.1 1325.4 L1174.1 1325.8 L1173.1 1326.1 L1172.2 1326.2 L1171.3 1326.3 L1170.4 1326.2 L1169.6 1326 L1168.8 1325.7 L1168.1 1325.3 L1167.5 1324.8 L1167 1324.2 L1166.6 1323.5 L1166.2 1322.7 L1166 1321.8 L1165.8 1320.8 L1165.8 1319.8 L1165.8 1318.8 L1166 1317.7 L1166.3 1316.6 L1166.6 1315.5 L1167.1 1314.3 L1167.6 1313.2 L1168.2 1312.1 L1168.9 1311.1 L1169.7 1310.1 L1170.5 1309.2 L1171.4 1308.3 L1172.3 1307.5 L1173.3 1306.8 L1174.2 1306.2 L1175.2 1305.7 L1176.2 1305.3 L1177.1 1305 L1178.1 1304.8 L1179 1304.8 L1179.9 1304.8 L1180.7 1305 L1181.4 1305.3 L1182.1 1305.7 Z"/>
<path d="M1180 1298.8 C1181.7 1299.4 1187.9 1300.8 1190 1302.5 C1192.1 1304.2 1192.1 1307.7 1192.5 1308.8"/>
<path d="M1160 1280 C1158.3 1279 1154.2 1273.3 1150 1273.8 C1145.8 1274.2 1137.9 1278.1 1135 1282.5 C1132.1 1286.9 1130.6 1296.2 1132.5 1300 C1134.4 1303.8 1144 1304.2 1146.2 1305"/>
<!-- b04_screw12_nut13.py -->
<path d="M170.9 1682 L181.1 1663.3 L206.9 1664.8 L212.3 1673.4 L204.1 1689.8 L190.5 1684.1 L170.9 1682"/>
<path d="M190.5 1684.1 L200.9 1666.9"/>
<path d="M170.9 1682 C172.5 1682.9 178.5 1685.3 180.3 1687.5 C182.1 1689.7 180.1 1693 181.9 1695.3 C183.7 1697.7 189.7 1700.5 191.2 1701.6"/>
<path d="M206.9 1664.8 L289.7 1715.6"/>
<path d="M191.2 1701.6 L256.9 1743.8"/>
<path d="M289.7 1715.6 C291.5 1717.7 299.1 1724.2 300.6 1728.1 C302.2 1732 300.9 1735.8 299.1 1739.1 C297.2 1742.3 292.8 1746 289.7 1747.7 C286.6 1749.3 283.2 1749.6 280.3 1749.2 C277.4 1748.8 273.8 1746 272.5 1745.3"/>
<path d="M210.3 1667.5 C210.8 1668 212.4 1669.1 213.1 1670.3 C213.7 1671.5 214.2 1673.1 214.4 1674.8 C214.5 1676.5 214.4 1678.5 214.1 1680.5 C213.7 1682.5 213.1 1684.7 212.2 1686.7 C211.4 1688.7 210.3 1690.8 209.1 1692.6 C207.9 1694.4 206.4 1696.1 204.9 1697.5 C203.5 1698.9 201.9 1700.1 200.4 1700.9 C198.9 1701.7 197.3 1702.2 195.9 1702.3 C194.5 1702.4 192.7 1701.7 192 1701.6"/>
<path d="M217.8 1672.2 C218.3 1672.7 219.9 1673.8 220.5 1675 C221.2 1676.2 221.6 1677.8 221.8 1679.5 C222 1681.2 221.8 1683.2 221.5 1685.2 C221.1 1687.2 220.4 1689.4 219.6 1691.4 C218.7 1693.4 217.6 1695.5 216.3 1697.3 C215.1 1699.1 213.6 1700.8 212.2 1702.2 C210.7 1703.5 209.1 1704.7 207.6 1705.5 C206 1706.3 204.4 1706.8 203.1 1706.9 C201.7 1707 199.9 1706.2 199.2 1706.1"/>
<path d="M225.3 1676.9 C225.8 1677.3 227.4 1678.5 228 1679.7 C228.7 1681 229.1 1682.6 229.2 1684.3 C229.4 1686 229.2 1688 228.8 1689.9 C228.5 1691.9 227.8 1694.1 226.9 1696.1 C226 1698.1 224.9 1700.2 223.6 1701.9 C222.4 1703.7 220.9 1705.5 219.4 1706.8 C217.9 1708.2 216.3 1709.3 214.8 1710.1 C213.2 1710.9 211.6 1711.4 210.2 1711.4 C208.8 1711.5 207 1710.8 206.4 1710.6"/>
<path d="M232.8 1681.6 C233.3 1682 234.8 1683.2 235.5 1684.4 C236.1 1685.7 236.5 1687.3 236.7 1689 C236.8 1690.7 236.6 1692.7 236.2 1694.7 C235.8 1696.6 235.1 1698.8 234.2 1700.8 C233.3 1702.8 232.2 1704.8 230.9 1706.6 C229.6 1708.4 228.1 1710.1 226.6 1711.5 C225.1 1712.8 223.5 1714 221.9 1714.7 C220.4 1715.5 218.8 1715.9 217.4 1716 C216 1716.1 214.2 1715.3 213.6 1715.2"/>
<path d="M240.3 1686.2 C240.8 1686.7 242.3 1687.9 243 1689.1 C243.6 1690.4 244 1692 244.1 1693.7 C244.2 1695.4 244 1697.4 243.6 1699.4 C243.2 1701.4 242.5 1703.5 241.5 1705.5 C240.6 1707.5 239.4 1709.5 238.2 1711.3 C236.9 1713.1 235.3 1714.8 233.8 1716.1 C232.3 1717.4 230.7 1718.6 229.1 1719.3 C227.6 1720.1 226 1720.5 224.6 1720.6 C223.2 1720.6 221.4 1719.8 220.8 1719.7"/>
<path d="M247.8 1690.9 C248.2 1691.4 249.8 1692.6 250.4 1693.9 C251 1695.1 251.4 1696.7 251.5 1698.4 C251.6 1700.1 251.4 1702.1 251 1704.1 C250.5 1706.1 249.8 1708.2 248.9 1710.2 C247.9 1712.2 246.7 1714.2 245.4 1716 C244.1 1717.7 242.6 1719.4 241.1 1720.7 C239.6 1722.1 237.9 1723.2 236.3 1723.9 C234.8 1724.7 233.2 1725.1 231.8 1725.1 C230.4 1725.2 228.6 1724.4 228 1724.2"/>
<path d="M255.3 1695.6 C255.7 1696.1 257.3 1697.3 257.9 1698.6 C258.5 1699.8 258.9 1701.4 259 1703.2 C259 1704.9 258.8 1706.9 258.4 1708.8 C257.9 1710.8 257.1 1712.9 256.2 1714.9 C255.2 1716.9 254 1718.9 252.7 1720.7 C251.4 1722.4 249.8 1724.1 248.3 1725.4 C246.8 1726.7 245.1 1727.8 243.5 1728.5 C242 1729.2 240.4 1729.7 239 1729.7 C237.6 1729.7 235.8 1728.9 235.2 1728.8"/>
<path d="M262.8 1700.3 C263.2 1700.8 264.8 1702 265.4 1703.3 C266 1704.5 266.3 1706.2 266.4 1707.9 C266.5 1709.6 266.2 1711.6 265.7 1713.6 C265.3 1715.5 264.5 1717.7 263.5 1719.6 C262.5 1721.6 261.3 1723.6 260 1725.3 C258.6 1727.1 257 1728.7 255.5 1730 C254 1731.3 252.3 1732.4 250.7 1733.1 C249.1 1733.8 247.5 1734.2 246.1 1734.3 C244.7 1734.3 243 1733.4 242.3 1733.3"/>
<path d="M270.3 1705 C270.7 1705.5 272.3 1706.7 272.8 1708 C273.4 1709.3 273.8 1710.9 273.8 1712.6 C273.9 1714.3 273.6 1716.3 273.1 1718.3 C272.6 1720.2 271.8 1722.4 270.8 1724.3 C269.8 1726.3 268.6 1728.3 267.2 1730 C265.9 1731.7 264.3 1733.4 262.7 1734.7 C261.2 1736 259.5 1737 257.9 1737.7 C256.3 1738.4 254.7 1738.8 253.3 1738.8 C251.9 1738.8 250.2 1738 249.5 1737.8"/>
<path d="M277.8 1709.7 C278.2 1710.2 279.7 1711.4 280.3 1712.7 C280.9 1714 281.2 1715.6 281.3 1717.3 C281.3 1719 281 1721 280.5 1723 C280 1724.9 279.1 1727.1 278.1 1729 C277.1 1731 275.8 1733 274.5 1734.7 C273.1 1736.4 271.5 1738 269.9 1739.3 C268.4 1740.6 266.7 1741.7 265.1 1742.3 C263.5 1743 261.9 1743.4 260.5 1743.4 C259.1 1743.4 257.3 1742.5 256.7 1742.3"/>
<path d="M285.3 1714.4 C285.7 1714.9 287.2 1716.1 287.8 1717.4 C288.4 1718.7 288.7 1720.3 288.7 1722 C288.7 1723.8 288.4 1725.8 287.9 1727.7 C287.3 1729.7 286.5 1731.8 285.5 1733.7 C284.4 1735.7 283.1 1737.7 281.7 1739.4 C280.4 1741.1 278.7 1742.7 277.2 1744 C275.6 1745.2 273.9 1746.3 272.3 1746.9 C270.7 1747.6 269.1 1748 267.7 1748 C266.3 1747.9 264.5 1747.1 263.9 1746.9"/>
<path d="M183.4 1687.5 C184.7 1687.9 188.5 1689.2 191.2 1689.8 C194 1690.5 198.4 1691.1 199.8 1691.4"/>
<path d="M305.3 1782.8 C305.6 1780.2 305.1 1772.1 306.9 1767.2 C308.7 1762.2 312.1 1757.3 316.2 1753.1 C320.4 1749 326.7 1744.5 331.9 1742.2 C337.1 1739.8 342.6 1739.1 347.5 1739.1 C352.4 1739.1 357.7 1740.6 361.6 1742.2 C365.5 1743.8 367.6 1745.6 370.9 1748.4 C374.3 1751.3 379.3 1755.5 381.9 1759.4 C384.5 1763.3 386 1768 386.6 1771.9 C387.1 1775.8 386.8 1778.9 385 1782.8 C383.2 1786.7 379.3 1791.7 375.6 1795.3 C372 1799 367.8 1802.1 363.1 1804.7 C358.4 1807.3 352.7 1810.4 347.5 1810.9 C342.3 1811.5 336.3 1809.6 331.9 1807.8 C327.4 1806 324.6 1802.6 320.9 1800 C317.3 1797.4 312.6 1795.1 310 1792.2 C307.4 1789.3 306.1 1784.4 305.3 1782.8"/>
<path d="M367.8 1750 L367.8 1762.5 L385 1775"/>
<path d="M338.1 1794.5 L355.3 1806.2"/>
<path d="M320.9 1796.9 C322.5 1796.9 327.4 1797.3 330.3 1796.9 C333.2 1796.5 336.8 1794.9 338.1 1794.5"/>
<path d="M324.1 1787.5 C322.8 1785.9 316.5 1782 316.2 1778.1 C316 1774.2 319.4 1768.2 322.5 1764.1 C325.6 1759.9 330.8 1755.6 335 1753.1 C339.2 1750.7 343.9 1749.2 347.5 1749.2 C351.1 1749.2 355.2 1750.7 356.9 1753.1 C358.6 1755.6 359.2 1759.9 357.7 1764.1 C356.1 1768.2 351.3 1774.5 347.5 1778.1 C343.7 1781.8 338.9 1784.4 335 1785.9 C331.1 1787.5 325.9 1787.2 324.1 1787.5"/>
<path d="M336.6 1750 C338.4 1749.7 344.4 1748.2 347.5 1748.4 C350.6 1748.7 354 1751 355.3 1751.6"/>
<path d="M314.7 1773.4 C315.2 1775.3 316.2 1782 317.8 1784.4 C319.4 1786.7 323 1787 324.1 1787.5"/>
<path d="M328.8 1784.4 C329 1782.3 328.5 1776 330.3 1771.9 C332.1 1767.7 336 1762.2 339.7 1759.4 C343.3 1756.5 350.1 1755.5 352.2 1754.7"/>
<path d="M335 1785.2 C335.5 1783.2 336.3 1777.2 338.1 1773.4 C339.9 1769.7 343.1 1765.1 345.9 1762.5 C348.8 1759.9 353.8 1758.6 355.3 1757.8"/>
<path d="M323.3 1785.9 C323.4 1783.9 322.6 1777.6 324.1 1773.4 C325.5 1769.3 328 1764.3 331.9 1760.9 C335.8 1757.6 344.9 1754.4 347.5 1753.1"/>
<path d="M160 1782.8 L186.6 1782.8"/>
<path d="M269.4 1782.8 L304.5 1782.8"/>
<!-- b05_leaders11.py -->
<path d="M0 1681 L52.5 1681"/>
<path d="M125 1681 L172.5 1681"/>
<path d="M0 1681 L262.5 1860 L385 1860"/>
<path d="M97.5 1782.5 L185 1782.5"/>
<!-- b06_rocker11.py -->
<path d="M596.2 1715 C596 1711.2 594 1700.4 595 1692.5 C596 1684.6 597.5 1675.4 602.5 1667.5 C607.5 1659.6 617.9 1650.8 625 1645 C632.1 1639.2 638.8 1635 645 1632.5 C651.2 1630 657.9 1630 662.5 1630 C667.1 1630 660.4 1627.1 672.5 1632.5 C684.6 1637.9 724.6 1657.5 735 1662.5"/>
<path d="M407.5 1805 C410.8 1804.4 419.2 1803.3 427.5 1801.2 C435.8 1799.2 447.9 1796 457.5 1792.5 C467.1 1789 475.4 1785 485 1780 C494.6 1775 496.5 1773.3 515 1762.5 C533.5 1751.7 570.4 1727.9 596.2 1715 C622.1 1702.1 646.9 1693.8 670 1685 C693.1 1676.2 702.5 1670.8 735 1662.5 C767.5 1654.2 835 1641.2 865 1635 C895 1628.8 898.3 1629 915 1625 C931.7 1621 954.2 1615.4 965 1611.2 C975.8 1607.1 975.4 1601.7 980 1600 C984.6 1598.3 987.9 1600.8 992.5 1601.2 C997.1 1601.7 1002.9 1601 1007.5 1602.5 C1012.1 1604 1016.2 1607.1 1020 1610 C1023.8 1612.9 1025 1616.7 1030 1620 C1035 1623.3 1045 1626.7 1050 1630 C1055 1633.3 1058.5 1635.8 1060 1640 C1061.5 1644.2 1062.1 1648.8 1058.8 1655 C1055.4 1661.2 1048.1 1668.8 1040 1677.5 C1031.9 1686.2 1019.2 1700.6 1010 1707.5 C1000.8 1714.4 994.6 1716 985 1718.8 C975.4 1721.5 964.2 1722.7 952.5 1723.8 C940.8 1724.8 925.4 1723.8 915 1725 C904.6 1726.2 897.5 1728.3 890 1731.2 C882.5 1734.2 873.5 1739 870 1742.5 C866.5 1746 869.6 1747.5 868.8 1752.5 C867.9 1757.5 867.7 1766.2 865 1772.5 C862.3 1778.8 857.5 1784.4 852.5 1790 C847.5 1795.6 841.2 1802.3 835 1806.2 C828.8 1810.2 821.7 1812.5 815 1813.8 C808.3 1815 801.2 1815 795 1813.8 C788.8 1812.5 786.7 1809.4 777.5 1806.2 C768.3 1803.1 746.2 1796.9 740 1795"/>
<path d="M965 1611.2 C967.5 1610 975 1605.2 980 1603.8 C985 1602.3 992.5 1602.7 995 1602.5"/>
<path d="M857.5 1650 C871.2 1647.1 914.2 1638.8 940 1632.5 C965.8 1626.2 1000.4 1615.8 1012.5 1612.5"/>
<path d="M1021.2 1625 C1016 1630.8 998.5 1650.4 990 1660 C981.5 1669.6 978.3 1677.5 970 1682.5 C961.7 1687.5 953.3 1688.1 940 1690 C926.7 1691.9 905.4 1692.9 890 1693.8 C874.6 1694.6 860 1696 847.5 1695 C835 1694 826.7 1690.4 815 1687.5 C803.3 1684.6 787.1 1679.2 777.5 1677.5 C767.9 1675.8 760.8 1677.5 757.5 1677.5"/>
<path d="M992.5 1697.5 C998.8 1690.8 1020.8 1667.7 1030 1657.5 C1039.2 1647.3 1044.6 1639.8 1047.5 1636.2"/>
<path d="M856.2 1718.8 C861.9 1717.3 876.5 1712.1 890 1710 C903.5 1707.9 929.6 1706.9 937.5 1706.2"/>
<path d="M858.8 1755 C858.1 1752.9 857.7 1745.6 855 1742.5 C852.3 1739.4 847.5 1736.7 842.5 1736.2 C837.5 1735.8 830.8 1736.5 825 1740 C819.2 1743.5 811.9 1750.8 807.5 1757.5 C803.1 1764.2 799.6 1773.8 798.8 1780 C797.9 1786.2 799.8 1791.2 802.5 1795 C805.2 1798.8 810.4 1801.9 815 1802.5 C819.6 1803.1 827.5 1799.4 830 1798.8"/>
<path d="M815 1718.8 C818.8 1717.7 831.2 1712.7 837.5 1712.5 C843.8 1712.3 847.5 1712.9 852.5 1717.5 C857.5 1722.1 864.8 1734.2 867.5 1740 C870.2 1745.8 868.5 1750.4 868.8 1752.5"/>
<path d="M828.8 1731.2 C831.5 1730.4 840.2 1726.9 845 1726.2 C849.8 1725.6 855.4 1727.3 857.5 1727.5"/>
<path d="M820 1702.5 C823.3 1704.2 834.2 1709.6 840 1712.5 C845.8 1715.4 852.5 1718.8 855 1720"/>
<path d="M768.8 1785 C769.2 1787.5 769.8 1796.2 771.2 1800 C772.7 1803.8 776.5 1806.2 777.5 1807.5"/>
<path d="M790 1788.8 C790.6 1791.5 791.7 1801 793.8 1805 C795.8 1809 801 1811.2 802.5 1812.5"/>
<path d="M407.5 1805 C404.6 1807.5 394.2 1814.2 390 1820 C385.8 1825.8 382.5 1833.8 382.5 1840 C382.5 1846.2 385 1852.5 390 1857.5 C395 1862.5 405 1867.5 412.5 1870 C420 1872.5 427.1 1873.3 435 1872.5 C442.9 1871.7 450.8 1869.6 460 1865 C469.2 1860.4 480.8 1850.6 490 1845 C499.2 1839.4 497.9 1838.1 515 1831.2 C532.1 1824.4 579.6 1808.3 592.5 1803.8"/>
<path d="M416.2 1816.2 C418.5 1816.5 426.7 1815.2 430 1817.5 C433.3 1819.8 436.2 1825.4 436.2 1830 C436.2 1834.6 434 1841.2 430 1845 C426 1848.8 417.5 1851.7 412.5 1852.5 C407.5 1853.3 402.9 1852.1 400 1850 C397.1 1847.9 395.8 1841.7 395 1840"/>
<path d="M457.5 1815 C457.1 1817.1 457.9 1822.1 455 1827.5 C452.1 1832.9 442.5 1844.2 440 1847.5"/>
<path d="M392.5 1861.2 C395 1861.9 402.3 1865 407.5 1865 C412.7 1865 421 1861.9 423.8 1861.2"/>
<path d="M430 1800 C433.8 1801.5 447.9 1806.2 452.5 1808.8 C457.1 1811.2 456.7 1814 457.5 1815"/>
<path d="M473.8 1806.2 C480.6 1801.9 497.3 1790.6 515 1780 C532.7 1769.4 567.5 1748.5 580 1742.5 C592.5 1736.5 587.3 1741.7 590 1743.8 C592.7 1745.8 595.4 1746.9 596.2 1755 C597.1 1763.1 596.5 1780 595 1792.5 C593.5 1805 591.7 1813.4 587.5 1830 C583.3 1846.6 572.9 1881.7 570 1892"/>
<path d="M476.2 1831.2 C482.7 1827.5 495.6 1816.9 515 1808.8 C534.4 1800.6 579.6 1786.9 592.5 1782.5"/>
<path d="M606.2 1793.8 C606.9 1789.4 607.7 1777.3 610 1767.5 C612.3 1757.7 615 1744.2 620 1735 C625 1725.8 630 1719.2 640 1712.5 C650 1705.8 673.3 1697.9 680 1695"/>
<path d="M697.5 1695 C695 1697.5 686.5 1703.3 682.5 1710 C678.5 1716.7 676.7 1729.2 673.8 1735 C670.8 1740.8 668.5 1741.7 665 1745 C661.5 1748.3 657.1 1749.2 652.5 1755 C647.9 1760.8 641.7 1771.7 637.5 1780 C633.3 1788.3 630.8 1794.6 627.5 1805 C624.2 1815.4 620 1832.1 617.5 1842.5 C615 1852.9 612.9 1865.8 612.5 1867.5 C612.1 1869.2 614.6 1850.8 615 1852.5 C615.4 1854.2 613.3 1870.4 615 1877.5 C616.7 1884.6 623.3 1892.1 625 1895"/>
<path d="M678.8 1747.5 L720 1767.5"/>
<path d="M655 1802.5 C659.2 1800 670.8 1791.9 680 1787.5 C689.2 1783.1 705 1778.1 710 1776.2"/>
<path d="M631.2 1900 C630.6 1896.2 627.3 1886.7 627.5 1877.5 C627.7 1868.3 632.1 1848.8 632.5 1845 C632.9 1841.2 628.8 1858.8 630 1855 C631.2 1851.2 635.4 1830.8 640 1822.5 C644.6 1814.2 649.6 1808.8 657.5 1805 C665.4 1801.2 677.1 1801.7 687.5 1800 C697.9 1798.3 710.4 1795.6 720 1795 C729.6 1794.4 736.7 1794.6 745 1796.2 C753.3 1797.9 763.2 1802.3 770 1805 C776.8 1807.7 783.3 1811.2 786 1812.5"/>
<path d="M642.5 1915 C641.9 1912.9 639.2 1910 638.8 1902.5 C638.3 1895 638.5 1880.8 640 1870 C641.5 1859.2 646.7 1840 647.5 1837.5 C648.3 1835 643.8 1856.2 645 1855 C646.2 1853.8 650.8 1836.2 655 1830 C659.2 1823.8 663.8 1821.7 670 1817.5 C676.2 1813.3 688.8 1807.1 692.5 1805"/>
<path d="M727.5 1700 C728.8 1701.2 731.7 1706.2 735 1707.5 C738.3 1708.8 744.6 1709 747.5 1707.5 C750.4 1706 752.9 1701 752.5 1698.8 C752.1 1696.5 746.2 1694.6 745 1693.8"/>
<path d="M757.5 1678.8 C760.4 1678.8 770.2 1678.3 775 1678.8 C779.8 1679.2 784.2 1680.8 786 1681.2"/>
<path d="M767.5 1785 C768.3 1788.3 769.4 1800.4 772.5 1805 C775.6 1809.6 783.8 1811.2 786 1812.5"/>
<path d="M601.2 1828.8 C600.8 1833.1 598.8 1847.7 598.8 1855 C598.8 1862.3 600.8 1869.6 601.2 1872.5"/>
<path d="M570 1892 C571.2 1886.2 577.9 1857 577.5 1857.5 C577.1 1858 571.2 1885.8 567.5 1895 C563.8 1904.2 557.5 1907.1 555 1912.5 C552.5 1917.9 551.7 1922.5 552.5 1927.5 C553.3 1932.5 556.2 1938.3 560 1942.5 C563.8 1946.7 568.8 1950.2 575 1952.5 C581.2 1954.8 590 1956.2 597.5 1956.2 C605 1956.2 613.8 1955.2 620 1952.5 C626.2 1949.8 631.2 1944.6 635 1940 C638.8 1935.4 641.2 1929.6 642.5 1925 C643.8 1920.4 642.5 1914.6 642.5 1912.5"/>
<path d="M567.5 1895 C571.2 1892.1 584.2 1880.4 590 1877.5 C595.8 1874.6 599.2 1875.8 602.5 1877.5 C605.8 1879.2 606.7 1884.6 610 1887.5 C613.3 1890.4 620.4 1893.8 622.5 1895"/>
<path d="M601.2 1828.8 C600.8 1832.7 598.8 1845.2 598.8 1852.5 C598.8 1859.8 600.8 1869.2 601.2 1872.5"/>
<path d="M586.2 1897.5 C588.5 1897.7 596.5 1896.2 600 1898.8 C603.5 1901.2 607.5 1907.7 607.5 1912.5 C607.5 1917.3 604.2 1923.8 600 1927.5 C595.8 1931.2 587.5 1934.6 582.5 1935 C577.5 1935.4 572.9 1932.3 570 1930 C567.1 1927.7 565.8 1922.7 565 1921.2"/>
<path d="M620 1906.2 C618.8 1910.2 619.2 1923.1 612.5 1930 C605.8 1936.9 585.4 1944.6 580 1947.5"/>
<!-- b07_cotters20_ret21.py -->
<path d="M657.5 1948.8 C659.2 1947.7 663.8 1944 667.5 1942.5 C671.2 1941 675.8 1939.6 680 1940 C684.2 1940.4 687.1 1940.8 692.5 1945 C697.9 1949.2 708.8 1960 712.5 1965 C716.2 1970 715.2 1972.1 715 1975 C714.8 1977.9 711.9 1981.2 711.2 1982.5"/>
<path d="M657.5 1948.8 L711.2 1982.5"/>
<path d="M675 1947.5 C677.1 1947.9 685.2 1947.5 687.5 1950 C689.8 1952.5 689.2 1959.6 688.8 1962.5 C688.3 1965.4 684.6 1966.2 685 1967.5 C685.4 1968.8 690.2 1969.6 691.2 1970"/>
<path d="M673.8 1976.2 C669.4 1973.8 652.7 1962.3 647.5 1961.2 C642.3 1960.2 643.1 1966.9 642.5 1970 C641.9 1973.1 641.7 1976.2 643.8 1980 C645.8 1983.8 649.8 1989 655 1992.5 C660.2 1996 669.2 2000 675 2001.2 C680.8 2002.5 686 2001.2 690 2000 C694 1998.8 697.3 1994.8 698.8 1993.8"/>
<path d="M673.8 1976.2 L698.8 1993.8"/>
<path d="M651.2 1970 C651.7 1971.2 651.9 1975.6 653.8 1977.5 C655.6 1979.4 659.8 1980.8 662.5 1981.2 C665.2 1981.7 668.8 1980.2 670 1980"/>
<path d="M660 1990 C661.7 1989.4 667.9 1988.3 670 1986.2 C672.1 1984.2 672.1 1979 672.5 1977.5"/>
<path d="M682.5 1940 L721.2 1878.8 L770 1878.8"/>
<path d="M538.8 1976.2 L641.2 1976.2"/>
<path d="M700 2045 C700.8 2037.1 702.5 2024.2 707.5 2015 C712.5 2005.8 720.8 1997.5 730 1990 C739.2 1982.5 753.8 1974.1 762.5 1970 C771.2 1965.9 774.2 1965.5 782.5 1965.5 C790.8 1965.5 802.9 1966.8 812.5 1970 C822.1 1973.2 833.3 1978.8 840 1985 C846.7 1991.2 850.4 1998.3 852.5 2007.5 C854.6 2016.7 854.6 2030.4 852.5 2040 C850.4 2049.6 846.2 2057.1 840 2065 C833.8 2072.9 825.8 2081.7 815 2087.5 C804.2 2093.3 787.1 2098.3 775 2100 C762.9 2101.7 752.1 2100.4 742.5 2097.5 C732.9 2094.6 724.2 2088.3 717.5 2082.5 C710.8 2076.7 705.4 2068.8 702.5 2062.5 C699.6 2056.2 699.2 2052.9 700 2045 Z"/>
<path d="M752.5 2067.5 C749.2 2063.3 748.8 2052.1 750 2045 C751.2 2037.9 755 2030.4 760 2025 C765 2019.6 773.3 2015.4 780 2012.5 C786.7 2009.6 794.6 2007.9 800 2007.5 C805.4 2007.1 809.6 2007.1 812.5 2010 C815.4 2012.9 817.5 2019.2 817.5 2025 C817.5 2030.8 816.2 2039.2 812.5 2045 C808.8 2050.8 802.1 2055.8 795 2060 C787.9 2064.2 777.1 2068.8 770 2070 C762.9 2071.2 755.8 2071.7 752.5 2067.5 Z"/>
<path d="M771.2 1991.2 C775.2 1991.5 788.1 1990.2 795 1992.5 C801.9 1994.8 808.8 2000.8 812.5 2005 C816.2 2009.2 816.7 2015.4 817.5 2017.5"/>
<path d="M777.5 2000 C781.2 2000.2 793.8 1999.2 800 2001.2 C806.2 2003.3 812.5 2010.6 815 2012.5"/>
<path d="M726.2 2040 C727.3 2042.9 728.1 2052.5 732.5 2057.5 C736.9 2062.5 749.2 2067.9 752.5 2070"/>
<path d="M736.2 2041.2 C736.9 2044 737.7 2053.5 740 2057.5 C742.3 2061.5 748.3 2063.8 750 2065"/>
<path d="M736.2 2092.5 L767.5 2095"/>
<path d="M836.2 1987.5 C837.7 1989.6 843.1 1994.8 845 2000 C846.9 2005.2 847.1 2015.6 847.5 2018.8"/>
<path d="M761.2 2100 L761.2 2132"/>
<!-- b08_washer16l.py -->
<path d="M900 1865 C898.8 1863.3 893.8 1860 892.5 1855 C891.2 1850 891.2 1842.9 892.5 1835 C893.8 1827.1 897.9 1815 900 1807.5 C902.1 1800 901.7 1795.4 905 1790 C908.3 1784.6 913.3 1778.3 920 1775 C926.7 1771.7 936.7 1770 945 1770 C953.3 1770 962.9 1771.2 970 1775 C977.1 1778.8 984 1786.2 987.5 1792.5 C991 1798.8 991.7 1806.2 991.2 1812.5 C990.8 1818.8 989.4 1825 985 1830 C980.6 1835 972.5 1837.5 965 1842.5 C957.5 1847.5 947.5 1855.1 940 1860 C932.5 1864.9 926.7 1871.2 920 1872 C913.3 1872.8 903.3 1866.2 900 1865"/>
<path d="M920 1850 C919.8 1847.5 918.3 1841.2 918.8 1835 C919.2 1828.8 920.6 1817.9 922.5 1812.5 C924.4 1807.1 925.8 1805.2 930 1802.5 C934.2 1799.8 942.1 1796.9 947.5 1796.2 C952.9 1795.6 958.8 1796.5 962.5 1798.8 C966.2 1801 969.6 1805.6 970 1810 C970.4 1814.4 968.8 1820.4 965 1825 C961.2 1829.6 953.3 1833.3 947.5 1837.5 C941.7 1841.7 934.6 1847.9 930 1850 C925.4 1852.1 921.7 1850 920 1850"/>
<path d="M940 1773.8 L960 1772.5"/>
<path d="M960 1798.8 L972.5 1816.2"/>
<path d="M930 1850 L940 1848.8"/>
<path d="M898.8 1853.8 L900 1865"/>
<!-- c01_spring22l.py -->
<path d="M1291.6 2278.6 L1294.5 2286.2 L1296.2 2294.3 L1296.5 2302.6 L1295.6 2311.2 L1293.4 2319.7 L1289.9 2328.2 L1285.2 2336.4 L1279.4 2344.2 L1272.6 2351.4 L1265 2358 L1256.5 2363.9 L1247.5 2368.8 L1238 2372.8 L1228.1 2375.8 L1218.2 2377.7 L1208.3 2378.5 L1198.6 2378.2 L1189.3 2376.8 L1180.5 2374.2 L1172.4 2370.7 L1165.1 2366.1 L1158.8 2360.6 L1153.5 2354.4 L1149.4 2347.4 L1146.5 2339.8 L1144.8 2331.7 L1144.5 2323.4 L1145.4 2314.8 L1147.6 2306.3 L1151.1 2297.8 L1155.8 2289.6 L1161.6 2281.8 L1168.4 2274.6 L1176 2268 L1184.5 2262.1 L1193.5 2257.2 L1203 2253.2 L1212.9 2250.2 L1222.8 2248.3 L1232.7 2247.5 L1242.4 2247.8 L1251.7 2249.2 L1260.5 2251.8 L1268.6 2255.3 L1275.9 2259.9 L1282.2 2265.4 L1287.5 2271.6 L1291.6 2278.6 Z M1276.7 2285.9 L1273.4 2280.3 L1269.3 2275.4 L1264.3 2271 L1258.5 2267.4 L1252.1 2264.6 L1245.2 2262.6 L1237.8 2261.5 L1230.1 2261.2 L1222.3 2261.9 L1214.5 2263.4 L1206.7 2265.7 L1199.2 2268.9 L1192 2272.8 L1185.4 2277.4 L1179.3 2282.6 L1174 2288.4 L1169.4 2294.5 L1165.7 2301 L1162.9 2307.7 L1161.2 2314.5 L1160.4 2321.2 L1160.7 2327.8 L1162 2334.2 L1164.3 2340.1 L1167.6 2345.7 L1171.7 2350.6 L1176.7 2355 L1182.5 2358.6 L1188.9 2361.4 L1195.8 2363.4 L1203.2 2364.5 L1210.9 2364.8 L1218.7 2364.1 L1226.5 2362.6 L1234.3 2360.3 L1241.8 2357.1 L1249 2353.2 L1255.6 2348.6 L1261.7 2343.4 L1267 2337.6 L1271.6 2331.5 L1275.3 2325 L1278.1 2318.3 L1279.8 2311.5 L1280.6 2304.8 L1280.3 2298.2 L1279 2291.8 L1276.7 2285.9 Z" fill="#fff" fill-rule="evenodd"/>
<path d="M1257.9 2257.6 L1260.8 2265.2 L1262.5 2273.3 L1262.8 2281.6 L1261.9 2290.2 L1259.7 2298.7 L1256.2 2307.2 L1251.5 2315.4 L1245.7 2323.2 L1238.9 2330.4 L1231.3 2337 L1222.8 2342.9 L1213.8 2347.8 L1204.3 2351.8 L1194.4 2354.8 L1184.5 2356.7 L1174.6 2357.5 L1164.9 2357.2 L1155.6 2355.8 L1146.8 2353.2 L1138.7 2349.7 L1131.4 2345.1 L1125.1 2339.6 L1119.8 2333.4 L1115.7 2326.4 L1112.8 2318.8 L1111.1 2310.7 L1110.8 2302.4 L1111.7 2293.8 L1113.9 2285.3 L1117.4 2276.8 L1122.1 2268.6 L1127.9 2260.8 L1134.7 2253.6 L1142.3 2247 L1150.8 2241.1 L1159.8 2236.2 L1169.3 2232.2 L1179.2 2229.2 L1189.1 2227.3 L1199 2226.5 L1208.7 2226.8 L1218 2228.2 L1226.8 2230.8 L1234.9 2234.3 L1242.2 2238.9 L1248.5 2244.4 L1253.8 2250.6 L1257.9 2257.6 Z M1243 2264.9 L1239.7 2259.3 L1235.6 2254.4 L1230.6 2250 L1224.8 2246.4 L1218.4 2243.6 L1211.5 2241.6 L1204.1 2240.5 L1196.4 2240.2 L1188.6 2240.9 L1180.8 2242.4 L1173 2244.7 L1165.5 2247.9 L1158.3 2251.8 L1151.7 2256.4 L1145.6 2261.6 L1140.3 2267.4 L1135.7 2273.5 L1132 2280 L1129.2 2286.7 L1127.5 2293.5 L1126.7 2300.2 L1127 2306.8 L1128.3 2313.2 L1130.6 2319.1 L1133.9 2324.7 L1138 2329.6 L1143 2334 L1148.8 2337.6 L1155.2 2340.4 L1162.1 2342.4 L1169.5 2343.5 L1177.2 2343.8 L1185 2343.1 L1192.8 2341.6 L1200.6 2339.3 L1208.1 2336.1 L1215.3 2332.2 L1221.9 2327.6 L1228 2322.4 L1233.3 2316.6 L1237.9 2310.5 L1241.6 2304 L1244.4 2297.3 L1246.1 2290.5 L1246.9 2283.8 L1246.6 2277.2 L1245.3 2270.8 L1243 2264.9 Z" fill="#fff" fill-rule="evenodd"/>
<path d="M1224.2 2236.6 L1227.1 2244.2 L1228.8 2252.3 L1229.1 2260.6 L1228.2 2269.2 L1226 2277.7 L1222.5 2286.2 L1217.8 2294.4 L1212 2302.2 L1205.2 2309.4 L1197.6 2316 L1189.1 2321.9 L1180.1 2326.8 L1170.6 2330.8 L1160.7 2333.8 L1150.8 2335.7 L1140.9 2336.5 L1131.2 2336.2 L1121.9 2334.8 L1113.1 2332.2 L1105 2328.7 L1097.7 2324.1 L1091.4 2318.6 L1086.1 2312.4 L1082 2305.4 L1079.1 2297.8 L1077.4 2289.7 L1077.1 2281.4 L1078 2272.8 L1080.2 2264.3 L1083.7 2255.8 L1088.4 2247.6 L1094.2 2239.8 L1101 2232.6 L1108.6 2226 L1117.1 2220.1 L1126.1 2215.2 L1135.6 2211.2 L1145.5 2208.2 L1155.4 2206.3 L1165.3 2205.5 L1175 2205.8 L1184.3 2207.2 L1193.1 2209.8 L1201.2 2213.3 L1208.5 2217.9 L1214.8 2223.4 L1220.1 2229.6 L1224.2 2236.6 Z M1209.3 2243.9 L1206 2238.3 L1201.9 2233.4 L1196.9 2229 L1191.1 2225.4 L1184.7 2222.6 L1177.8 2220.6 L1170.4 2219.5 L1162.7 2219.2 L1154.9 2219.9 L1147.1 2221.4 L1139.3 2223.7 L1131.8 2226.9 L1124.6 2230.8 L1118 2235.4 L1111.9 2240.6 L1106.6 2246.4 L1102 2252.5 L1098.3 2259 L1095.5 2265.7 L1093.8 2272.5 L1093 2279.2 L1093.3 2285.8 L1094.6 2292.2 L1096.9 2298.1 L1100.2 2303.7 L1104.3 2308.6 L1109.3 2313 L1115.1 2316.6 L1121.5 2319.4 L1128.4 2321.4 L1135.8 2322.5 L1143.5 2322.8 L1151.3 2322.1 L1159.1 2320.6 L1166.9 2318.3 L1174.4 2315.1 L1181.6 2311.2 L1188.2 2306.6 L1194.3 2301.4 L1199.6 2295.6 L1204.2 2289.5 L1207.9 2283 L1210.7 2276.3 L1212.4 2269.5 L1213.2 2262.8 L1212.9 2256.2 L1211.6 2249.8 L1209.3 2243.9 Z" fill="#fff" fill-rule="evenodd"/>
<path d="M1190.5 2215.6 L1193.4 2223.2 L1195.1 2231.3 L1195.4 2239.6 L1194.5 2248.2 L1192.3 2256.7 L1188.8 2265.2 L1184.1 2273.4 L1178.3 2281.2 L1171.5 2288.4 L1163.9 2295 L1155.4 2300.9 L1146.4 2305.8 L1136.9 2309.8 L1127 2312.8 L1117.1 2314.7 L1107.2 2315.5 L1097.5 2315.2 L1088.2 2313.8 L1079.4 2311.2 L1071.3 2307.7 L1064 2303.1 L1057.7 2297.6 L1052.4 2291.4 L1048.3 2284.4 L1045.4 2276.8 L1043.7 2268.7 L1043.4 2260.4 L1044.3 2251.8 L1046.5 2243.3 L1050 2234.8 L1054.7 2226.6 L1060.5 2218.8 L1067.3 2211.6 L1074.9 2205 L1083.4 2199.1 L1092.4 2194.2 L1101.9 2190.2 L1111.8 2187.2 L1121.7 2185.3 L1131.6 2184.5 L1141.3 2184.8 L1150.6 2186.2 L1159.4 2188.8 L1167.5 2192.3 L1174.8 2196.9 L1181.1 2202.4 L1186.4 2208.6 L1190.5 2215.6 Z M1175.6 2222.9 L1172.3 2217.3 L1168.2 2212.4 L1163.2 2208 L1157.4 2204.4 L1151 2201.6 L1144.1 2199.6 L1136.7 2198.5 L1129 2198.2 L1121.2 2198.9 L1113.4 2200.4 L1105.6 2202.7 L1098.1 2205.9 L1090.9 2209.8 L1084.3 2214.4 L1078.2 2219.6 L1072.9 2225.4 L1068.3 2231.5 L1064.6 2238 L1061.8 2244.7 L1060.1 2251.5 L1059.3 2258.2 L1059.6 2264.8 L1060.9 2271.2 L1063.2 2277.1 L1066.5 2282.7 L1070.6 2287.6 L1075.6 2292 L1081.4 2295.6 L1087.8 2298.4 L1094.7 2300.4 L1102.1 2301.5 L1109.8 2301.8 L1117.6 2301.1 L1125.4 2299.6 L1133.2 2297.3 L1140.7 2294.1 L1147.9 2290.2 L1154.5 2285.6 L1160.6 2280.4 L1165.9 2274.6 L1170.5 2268.5 L1174.2 2262 L1177 2255.3 L1178.7 2248.5 L1179.5 2241.8 L1179.2 2235.2 L1177.9 2228.8 L1175.6 2222.9 Z" fill="#fff" fill-rule="evenodd"/>
<path d="M1156.8 2194.6 L1159.7 2202.2 L1161.4 2210.3 L1161.7 2218.6 L1160.8 2227.2 L1158.6 2235.7 L1155.1 2244.2 L1150.4 2252.4 L1144.6 2260.2 L1137.8 2267.4 L1130.2 2274 L1121.7 2279.9 L1112.7 2284.8 L1103.2 2288.8 L1093.3 2291.8 L1083.4 2293.7 L1073.5 2294.5 L1063.8 2294.2 L1054.5 2292.8 L1045.7 2290.2 L1037.6 2286.7 L1030.3 2282.1 L1024 2276.6 L1018.7 2270.4 L1014.6 2263.4 L1011.7 2255.8 L1010 2247.7 L1009.7 2239.4 L1010.6 2230.8 L1012.8 2222.3 L1016.3 2213.8 L1021 2205.6 L1026.8 2197.8 L1033.6 2190.6 L1041.2 2184 L1049.7 2178.1 L1058.7 2173.2 L1068.2 2169.2 L1078.1 2166.2 L1088 2164.3 L1097.9 2163.5 L1107.6 2163.8 L1116.9 2165.2 L1125.7 2167.8 L1133.8 2171.3 L1141.1 2175.9 L1147.4 2181.4 L1152.7 2187.6 L1156.8 2194.6 Z M1141.9 2201.9 L1138.6 2196.3 L1134.5 2191.4 L1129.5 2187 L1123.7 2183.4 L1117.3 2180.6 L1110.4 2178.6 L1103 2177.5 L1095.3 2177.2 L1087.5 2177.9 L1079.7 2179.4 L1071.9 2181.7 L1064.4 2184.9 L1057.2 2188.8 L1050.6 2193.4 L1044.5 2198.6 L1039.2 2204.4 L1034.6 2210.5 L1030.9 2217 L1028.1 2223.7 L1026.4 2230.5 L1025.6 2237.2 L1025.9 2243.8 L1027.2 2250.2 L1029.5 2256.1 L1032.8 2261.7 L1036.9 2266.6 L1041.9 2271 L1047.7 2274.6 L1054.1 2277.4 L1061 2279.4 L1068.4 2280.5 L1076.1 2280.8 L1083.9 2280.1 L1091.7 2278.6 L1099.5 2276.3 L1107 2273.1 L1114.2 2269.2 L1120.8 2264.6 L1126.9 2259.4 L1132.2 2253.6 L1136.8 2247.5 L1140.5 2241 L1143.3 2234.3 L1145 2227.5 L1145.8 2220.8 L1145.5 2214.2 L1144.2 2207.8 L1141.9 2201.9 Z" fill="#fff" fill-rule="evenodd"/>
<path d="M1123.1 2173.6 L1126 2181.2 L1127.7 2189.3 L1128 2197.6 L1127.1 2206.2 L1124.9 2214.7 L1121.4 2223.2 L1116.7 2231.4 L1110.9 2239.2 L1104.1 2246.4 L1096.5 2253 L1088 2258.9 L1079 2263.8 L1069.5 2267.8 L1059.6 2270.8 L1049.7 2272.7 L1039.8 2273.5 L1030.1 2273.2 L1020.8 2271.8 L1012 2269.2 L1003.9 2265.7 L996.6 2261.1 L990.3 2255.6 L985 2249.4 L980.9 2242.4 L978 2234.8 L976.3 2226.7 L976 2218.4 L976.9 2209.8 L979.1 2201.3 L982.6 2192.8 L987.3 2184.6 L993.1 2176.8 L999.9 2169.6 L1007.5 2163 L1016 2157.1 L1025 2152.2 L1034.5 2148.2 L1044.4 2145.2 L1054.3 2143.3 L1064.2 2142.5 L1073.9 2142.8 L1083.2 2144.2 L1092 2146.8 L1100.1 2150.3 L1107.4 2154.9 L1113.7 2160.4 L1119 2166.6 L1123.1 2173.6 Z M1108.2 2180.9 L1104.9 2175.3 L1100.8 2170.4 L1095.8 2166 L1090 2162.4 L1083.6 2159.6 L1076.7 2157.6 L1069.3 2156.5 L1061.6 2156.2 L1053.8 2156.9 L1046 2158.4 L1038.2 2160.7 L1030.7 2163.9 L1023.5 2167.8 L1016.9 2172.4 L1010.8 2177.6 L1005.5 2183.4 L1000.9 2189.5 L997.2 2196 L994.4 2202.7 L992.7 2209.5 L991.9 2216.2 L992.2 2222.8 L993.5 2229.2 L995.8 2235.1 L999.1 2240.7 L1003.2 2245.6 L1008.2 2250 L1014 2253.6 L1020.4 2256.4 L1027.3 2258.4 L1034.7 2259.5 L1042.4 2259.8 L1050.2 2259.1 L1058 2257.6 L1065.8 2255.3 L1073.3 2252.1 L1080.5 2248.2 L1087.1 2243.6 L1093.2 2238.4 L1098.5 2232.6 L1103.1 2226.5 L1106.8 2220 L1109.6 2213.3 L1111.3 2206.5 L1112.1 2199.8 L1111.8 2193.2 L1110.5 2186.8 L1108.2 2180.9 Z" fill="#fff" fill-rule="evenodd"/>
<path d="M1087.5 2185.6 L1090.2 2190.7 L1092.1 2196.3 L1093.3 2202.1 L1093.6 2208.1 L1093 2214.2 L1091.7 2220.2 L1089.5 2226.2 L1086.5 2231.8 L1082.9 2237.2 L1078.6 2242.1 L1073.6 2246.5 L1068.2 2250.4 L1062.4 2253.6 L1056.3 2256.1 L1050 2257.8 L1043.6 2258.8 L1037.2 2258.9 L1030.9 2258.3 L1024.9 2256.9 L1019.2 2254.8 L1013.9 2251.9 L1009.2 2248.3 L1005 2244.1 L1001.5 2239.4 L998.8 2234.3 L996.9 2228.7 L995.7 2222.9 L995.4 2216.9 L996 2210.8 L997.3 2204.8 L999.5 2198.8 L1002.5 2193.2 L1006.1 2187.8 L1010.4 2182.9 L1015.4 2178.5 L1020.8 2174.6 L1026.6 2171.4 L1032.7 2168.9 L1039 2167.2 L1045.4 2166.2 L1051.8 2166.1 L1058.1 2166.7 L1064.1 2168.1 L1069.8 2170.2 L1075.1 2173.1 L1079.8 2176.7 L1084 2180.9 L1087.5 2185.6 Z M1075.4 2193.1 L1072.9 2189.7 L1069.9 2186.7 L1066.5 2184.2 L1062.7 2182.1 L1058.6 2180.5 L1054.3 2179.5 L1049.8 2179.1 L1045.2 2179.2 L1040.5 2179.9 L1036 2181.1 L1031.6 2182.9 L1027.4 2185.2 L1023.5 2188 L1020 2191.2 L1016.9 2194.7 L1014.2 2198.6 L1012.1 2202.7 L1010.5 2206.9 L1009.6 2211.3 L1009.2 2215.7 L1009.4 2220 L1010.2 2224.2 L1011.6 2228.2 L1013.6 2231.9 L1016.1 2235.3 L1019.1 2238.3 L1022.5 2240.8 L1026.3 2242.9 L1030.4 2244.5 L1034.7 2245.5 L1039.2 2245.9 L1043.8 2245.8 L1048.5 2245.1 L1053 2243.9 L1057.4 2242.1 L1061.6 2239.8 L1065.5 2237 L1069 2233.8 L1072.1 2230.3 L1074.8 2226.4 L1076.9 2222.3 L1078.5 2218.1 L1079.4 2213.7 L1079.8 2209.3 L1079.6 2205 L1078.8 2200.8 L1077.4 2196.8 L1075.4 2193.1 Z" fill="#fff" fill-rule="evenodd"/>
<path d="M1064 2169.1 L1066.7 2174.2 L1068.6 2179.8 L1069.8 2185.6 L1070.1 2191.6 L1069.5 2197.7 L1068.2 2203.7 L1066 2209.7 L1063 2215.3 L1059.4 2220.7 L1055.1 2225.6 L1050.1 2230 L1044.7 2233.9 L1038.9 2237.1 L1032.8 2239.6 L1026.5 2241.3 L1020.1 2242.3 L1013.7 2242.4 L1007.4 2241.8 L1001.4 2240.4 L995.7 2238.3 L990.4 2235.4 L985.7 2231.8 L981.5 2227.6 L978 2222.9 L975.3 2217.8 L973.4 2212.2 L972.2 2206.4 L971.9 2200.4 L972.5 2194.3 L973.8 2188.3 L976 2182.3 L979 2176.7 L982.6 2171.3 L986.9 2166.4 L991.9 2162 L997.3 2158.1 L1003.1 2154.9 L1009.2 2152.4 L1015.5 2150.7 L1021.9 2149.7 L1028.3 2149.6 L1034.6 2150.2 L1040.6 2151.6 L1046.3 2153.7 L1051.6 2156.6 L1056.3 2160.2 L1060.5 2164.4 L1064 2169.1 Z M1051.9 2176.6 L1049.4 2173.2 L1046.4 2170.2 L1043 2167.7 L1039.2 2165.6 L1035.1 2164 L1030.8 2163 L1026.3 2162.6 L1021.7 2162.7 L1017 2163.4 L1012.5 2164.6 L1008.1 2166.4 L1003.9 2168.7 L1000 2171.5 L996.5 2174.7 L993.4 2178.2 L990.7 2182.1 L988.6 2186.2 L987 2190.4 L986.1 2194.8 L985.7 2199.2 L985.9 2203.5 L986.7 2207.7 L988.1 2211.7 L990.1 2215.4 L992.6 2218.8 L995.6 2221.8 L999 2224.3 L1002.8 2226.4 L1006.9 2228 L1011.2 2229 L1015.7 2229.4 L1020.3 2229.3 L1025 2228.6 L1029.5 2227.4 L1033.9 2225.6 L1038.1 2223.3 L1042 2220.5 L1045.5 2217.3 L1048.6 2213.8 L1051.3 2209.9 L1053.4 2205.8 L1055 2201.6 L1055.9 2197.2 L1056.3 2192.8 L1056.1 2188.5 L1055.3 2184.3 L1053.9 2180.3 L1051.9 2176.6 Z" fill="#fff" fill-rule="evenodd"/>
<path d="M1040.5 2152.6 L1043.2 2157.7 L1045.1 2163.3 L1046.3 2169.1 L1046.6 2175.1 L1046 2181.2 L1044.7 2187.2 L1042.5 2193.2 L1039.5 2198.8 L1035.9 2204.2 L1031.6 2209.1 L1026.6 2213.5 L1021.2 2217.4 L1015.4 2220.6 L1009.3 2223.1 L1003 2224.8 L996.6 2225.8 L990.2 2225.9 L983.9 2225.3 L977.9 2223.9 L972.2 2221.8 L966.9 2218.9 L962.2 2215.3 L958 2211.1 L954.5 2206.4 L951.8 2201.3 L949.9 2195.7 L948.7 2189.9 L948.4 2183.9 L949 2177.8 L950.3 2171.8 L952.5 2165.8 L955.5 2160.2 L959.1 2154.8 L963.4 2149.9 L968.4 2145.5 L973.8 2141.6 L979.6 2138.4 L985.7 2135.9 L992 2134.2 L998.4 2133.2 L1004.8 2133.1 L1011.1 2133.7 L1017.1 2135.1 L1022.8 2137.2 L1028.1 2140.1 L1032.8 2143.7 L1037 2147.9 L1040.5 2152.6 Z M1028.4 2160.1 L1025.9 2156.7 L1022.9 2153.7 L1019.5 2151.2 L1015.7 2149.1 L1011.6 2147.5 L1007.3 2146.5 L1002.8 2146.1 L998.2 2146.2 L993.5 2146.9 L989 2148.1 L984.6 2149.9 L980.4 2152.2 L976.5 2155 L973 2158.2 L969.9 2161.7 L967.2 2165.6 L965.1 2169.7 L963.5 2173.9 L962.6 2178.3 L962.2 2182.7 L962.4 2187 L963.2 2191.2 L964.6 2195.2 L966.6 2198.9 L969.1 2202.3 L972.1 2205.3 L975.5 2207.8 L979.3 2209.9 L983.4 2211.5 L987.7 2212.5 L992.2 2212.9 L996.8 2212.8 L1001.5 2212.1 L1006 2210.9 L1010.4 2209.1 L1014.6 2206.8 L1018.5 2204 L1022 2200.8 L1025.1 2197.3 L1027.8 2193.4 L1029.9 2189.3 L1031.5 2185.1 L1032.4 2180.7 L1032.8 2176.3 L1032.6 2172 L1031.8 2167.8 L1030.4 2163.8 L1028.4 2160.1 Z" fill="#fff" fill-rule="evenodd"/>
<path d="M1017 2136.1 L1019.7 2141.2 L1021.6 2146.8 L1022.8 2152.6 L1023.1 2158.6 L1022.5 2164.7 L1021.2 2170.7 L1019 2176.7 L1016 2182.3 L1012.4 2187.7 L1008.1 2192.6 L1003.1 2197 L997.7 2200.9 L991.9 2204.1 L985.8 2206.6 L979.5 2208.3 L973.1 2209.3 L966.7 2209.4 L960.4 2208.8 L954.4 2207.4 L948.7 2205.3 L943.4 2202.4 L938.7 2198.8 L934.5 2194.6 L931 2189.9 L928.3 2184.8 L926.4 2179.2 L925.2 2173.4 L924.9 2167.4 L925.5 2161.3 L926.8 2155.3 L929 2149.3 L932 2143.7 L935.6 2138.3 L939.9 2133.4 L944.9 2129 L950.3 2125.1 L956.1 2121.9 L962.2 2119.4 L968.5 2117.7 L974.9 2116.7 L981.3 2116.6 L987.6 2117.2 L993.6 2118.6 L999.3 2120.7 L1004.6 2123.6 L1009.3 2127.2 L1013.5 2131.4 L1017 2136.1 Z M1004.9 2143.6 L1002.4 2140.2 L999.4 2137.2 L996 2134.7 L992.2 2132.6 L988.1 2131 L983.8 2130 L979.3 2129.6 L974.7 2129.7 L970 2130.4 L965.5 2131.6 L961.1 2133.4 L956.9 2135.7 L953 2138.5 L949.5 2141.7 L946.4 2145.2 L943.7 2149.1 L941.6 2153.2 L940 2157.4 L939.1 2161.8 L938.7 2166.2 L938.9 2170.5 L939.7 2174.7 L941.1 2178.7 L943.1 2182.4 L945.6 2185.8 L948.6 2188.8 L952 2191.3 L955.8 2193.4 L959.9 2195 L964.2 2196 L968.7 2196.4 L973.3 2196.3 L978 2195.6 L982.5 2194.4 L986.9 2192.6 L991.1 2190.3 L995 2187.5 L998.5 2184.3 L1001.6 2180.8 L1004.3 2176.9 L1006.4 2172.8 L1008 2168.6 L1008.9 2164.2 L1009.3 2159.8 L1009.1 2155.5 L1008.3 2151.3 L1006.9 2147.3 L1004.9 2143.6 Z" fill="#fff" fill-rule="evenodd"/>
<path d="M993.5 2119.6 L996.2 2124.7 L998.1 2130.3 L999.3 2136.1 L999.6 2142.1 L999 2148.2 L997.7 2154.2 L995.5 2160.2 L992.5 2165.8 L988.9 2171.2 L984.6 2176.1 L979.6 2180.5 L974.2 2184.4 L968.4 2187.6 L962.3 2190.1 L956 2191.8 L949.6 2192.8 L943.2 2192.9 L936.9 2192.3 L930.9 2190.9 L925.2 2188.8 L919.9 2185.9 L915.2 2182.3 L911 2178.1 L907.5 2173.4 L904.8 2168.3 L902.9 2162.7 L901.7 2156.9 L901.4 2150.9 L902 2144.8 L903.3 2138.8 L905.5 2132.8 L908.5 2127.2 L912.1 2121.8 L916.4 2116.9 L921.4 2112.5 L926.8 2108.6 L932.6 2105.4 L938.7 2102.9 L945 2101.2 L951.4 2100.2 L957.8 2100.1 L964.1 2100.7 L970.1 2102.1 L975.8 2104.2 L981.1 2107.1 L985.8 2110.7 L990 2114.9 L993.5 2119.6 Z M981.4 2127.1 L978.9 2123.7 L975.9 2120.7 L972.5 2118.2 L968.7 2116.1 L964.6 2114.5 L960.3 2113.5 L955.8 2113.1 L951.2 2113.2 L946.5 2113.9 L942 2115.1 L937.6 2116.9 L933.4 2119.2 L929.5 2122 L926 2125.2 L922.9 2128.7 L920.2 2132.6 L918.1 2136.7 L916.5 2140.9 L915.6 2145.3 L915.2 2149.7 L915.4 2154 L916.2 2158.2 L917.6 2162.2 L919.6 2165.9 L922.1 2169.3 L925.1 2172.3 L928.5 2174.8 L932.3 2176.9 L936.4 2178.5 L940.7 2179.5 L945.2 2179.9 L949.8 2179.8 L954.5 2179.1 L959 2177.9 L963.4 2176.1 L967.6 2173.8 L971.5 2171 L975 2167.8 L978.1 2164.3 L980.8 2160.4 L982.9 2156.3 L984.5 2152.1 L985.4 2147.7 L985.8 2143.3 L985.6 2139 L984.8 2134.8 L983.4 2130.8 L981.4 2127.1 Z" fill="#fff" fill-rule="evenodd"/>
<path d="M970 2103.1 L972.7 2108.2 L974.6 2113.8 L975.8 2119.6 L976.1 2125.6 L975.5 2131.7 L974.2 2137.7 L972 2143.7 L969 2149.3 L965.4 2154.7 L961.1 2159.6 L956.1 2164 L950.7 2167.9 L944.9 2171.1 L938.8 2173.6 L932.5 2175.3 L926.1 2176.3 L919.7 2176.4 L913.4 2175.8 L907.4 2174.4 L901.7 2172.3 L896.4 2169.4 L891.7 2165.8 L887.5 2161.6 L884 2156.9 L881.3 2151.8 L879.4 2146.2 L878.2 2140.4 L877.9 2134.4 L878.5 2128.3 L879.8 2122.3 L882 2116.3 L885 2110.7 L888.6 2105.3 L892.9 2100.4 L897.9 2096 L903.3 2092.1 L909.1 2088.9 L915.2 2086.4 L921.5 2084.7 L927.9 2083.7 L934.3 2083.6 L940.6 2084.2 L946.6 2085.6 L952.3 2087.7 L957.6 2090.6 L962.3 2094.2 L966.5 2098.4 L970 2103.1 Z M957.9 2110.6 L955.4 2107.2 L952.4 2104.2 L949 2101.7 L945.2 2099.6 L941.1 2098 L936.8 2097 L932.3 2096.6 L927.7 2096.7 L923 2097.4 L918.5 2098.6 L914.1 2100.4 L909.9 2102.7 L906 2105.5 L902.5 2108.7 L899.4 2112.2 L896.7 2116.1 L894.6 2120.2 L893 2124.4 L892.1 2128.8 L891.7 2133.2 L891.9 2137.5 L892.7 2141.7 L894.1 2145.7 L896.1 2149.4 L898.6 2152.8 L901.6 2155.8 L905 2158.3 L908.8 2160.4 L912.9 2162 L917.2 2163 L921.7 2163.4 L926.3 2163.3 L931 2162.6 L935.5 2161.4 L939.9 2159.6 L944.1 2157.3 L948 2154.5 L951.5 2151.3 L954.6 2147.8 L957.3 2143.9 L959.4 2139.8 L961 2135.6 L961.9 2131.2 L962.3 2126.8 L962.1 2122.5 L961.3 2118.3 L959.9 2114.3 L957.9 2110.6 Z" fill="#fff" fill-rule="evenodd"/>
<path d="M946.5 2086.6 L949.2 2091.7 L951.1 2097.3 L952.3 2103.1 L952.6 2109.1 L952 2115.2 L950.7 2121.2 L948.5 2127.2 L945.5 2132.8 L941.9 2138.2 L937.6 2143.1 L932.6 2147.5 L927.2 2151.4 L921.4 2154.6 L915.3 2157.1 L909 2158.8 L902.6 2159.8 L896.2 2159.9 L889.9 2159.3 L883.9 2157.9 L878.2 2155.8 L872.9 2152.9 L868.2 2149.3 L864 2145.1 L860.5 2140.4 L857.8 2135.3 L855.9 2129.7 L854.7 2123.9 L854.4 2117.9 L855 2111.8 L856.3 2105.8 L858.5 2099.8 L861.5 2094.2 L865.1 2088.8 L869.4 2083.9 L874.4 2079.5 L879.8 2075.6 L885.6 2072.4 L891.7 2069.9 L898 2068.2 L904.4 2067.2 L910.8 2067.1 L917.1 2067.7 L923.1 2069.1 L928.8 2071.2 L934.1 2074.1 L938.8 2077.7 L943 2081.9 L946.5 2086.6 Z M934.4 2094.1 L931.9 2090.7 L928.9 2087.7 L925.5 2085.2 L921.7 2083.1 L917.6 2081.5 L913.3 2080.5 L908.8 2080.1 L904.2 2080.2 L899.5 2080.9 L895 2082.1 L890.6 2083.9 L886.4 2086.2 L882.5 2089 L879 2092.2 L875.9 2095.7 L873.2 2099.6 L871.1 2103.7 L869.5 2107.9 L868.6 2112.3 L868.2 2116.7 L868.4 2121 L869.2 2125.2 L870.6 2129.2 L872.6 2132.9 L875.1 2136.3 L878.1 2139.3 L881.5 2141.8 L885.3 2143.9 L889.4 2145.5 L893.7 2146.5 L898.2 2146.9 L902.8 2146.8 L907.5 2146.1 L912 2144.9 L916.4 2143.1 L920.6 2140.8 L924.5 2138 L928 2134.8 L931.1 2131.3 L933.8 2127.4 L935.9 2123.3 L937.5 2119.1 L938.4 2114.7 L938.8 2110.3 L938.6 2106 L937.8 2101.8 L936.4 2097.8 L934.4 2094.1 Z" fill="#fff" fill-rule="evenodd"/>
<path d="M923 2070.1 L925.7 2075.2 L927.6 2080.8 L928.8 2086.6 L929.1 2092.6 L928.5 2098.7 L927.2 2104.7 L925 2110.7 L922 2116.3 L918.4 2121.7 L914.1 2126.6 L909.1 2131 L903.7 2134.9 L897.9 2138.1 L891.8 2140.6 L885.5 2142.3 L879.1 2143.3 L872.7 2143.4 L866.4 2142.8 L860.4 2141.4 L854.7 2139.3 L849.4 2136.4 L844.7 2132.8 L840.5 2128.6 L837 2123.9 L834.3 2118.8 L832.4 2113.2 L831.2 2107.4 L830.9 2101.4 L831.5 2095.3 L832.8 2089.3 L835 2083.3 L838 2077.7 L841.6 2072.3 L845.9 2067.4 L850.9 2063 L856.3 2059.1 L862.1 2055.9 L868.2 2053.4 L874.5 2051.7 L880.9 2050.7 L887.3 2050.6 L893.6 2051.2 L899.6 2052.6 L905.3 2054.7 L910.6 2057.6 L915.3 2061.2 L919.5 2065.4 L923 2070.1 Z M910.9 2077.6 L908.4 2074.2 L905.4 2071.2 L902 2068.7 L898.2 2066.6 L894.1 2065 L889.8 2064 L885.3 2063.6 L880.7 2063.7 L876 2064.4 L871.5 2065.6 L867.1 2067.4 L862.9 2069.7 L859 2072.5 L855.5 2075.7 L852.4 2079.2 L849.7 2083.1 L847.6 2087.2 L846 2091.4 L845.1 2095.8 L844.7 2100.2 L844.9 2104.5 L845.7 2108.7 L847.1 2112.7 L849.1 2116.4 L851.6 2119.8 L854.6 2122.8 L858 2125.3 L861.8 2127.4 L865.9 2129 L870.2 2130 L874.7 2130.4 L879.3 2130.3 L884 2129.6 L888.5 2128.4 L892.9 2126.6 L897.1 2124.3 L901 2121.5 L904.5 2118.3 L907.6 2114.8 L910.3 2110.9 L912.4 2106.8 L914 2102.6 L914.9 2098.2 L915.3 2093.8 L915.1 2089.5 L914.3 2085.3 L912.9 2081.3 L910.9 2077.6 Z" fill="#fff" fill-rule="evenodd"/>
<path d="M948.1 2195 L948.1 2324.4 L1180.6 2466.9 L1180.6 2375"/>
<path d="M1066.2 2399.4 L1066.2 2468"/>
<path d="M760.6 2099.4 L760.6 2185.6"/>
<!-- c02_seal24_seat23_valve19.py -->
<path d="M1288.8 2396.2 C1285.8 2391.6 1283.3 2383.2 1283.3 2377.5 C1283.3 2371.8 1285.8 2365.9 1288.8 2361.9 C1291.7 2357.8 1296.8 2355.1 1301.2 2353.3 C1305.7 2351.5 1310.6 2350.9 1315.3 2350.9 C1320 2350.9 1324.7 2351.5 1329.4 2353.3 C1334.1 2355.1 1338 2358.1 1343.4 2361.9 C1348.9 2365.7 1358 2371.8 1362.2 2375.9 C1366.4 2380.1 1367.7 2382.4 1368.4 2386.9 C1369.2 2391.3 1369 2397.8 1366.9 2402.5 C1364.8 2407.2 1361.1 2411.7 1355.9 2415 C1350.7 2418.3 1341.4 2421.1 1335.6 2422 C1329.9 2422.9 1327.3 2423.2 1321.6 2420.5 C1315.8 2417.7 1306.7 2409.7 1301.2 2405.6 C1295.8 2401.6 1291.7 2400.9 1288.8 2396.2 Z"/>
<path d="M1290.3 2391.6 C1292.1 2392.3 1296.8 2395.5 1301.2 2396.2 C1305.7 2397 1312.2 2397.3 1316.9 2396.2 C1321.6 2395.2 1326 2392.9 1329.4 2390 C1332.8 2387.1 1335.9 2383 1337.2 2379.1 C1338.5 2375.2 1338.2 2370.2 1337.2 2366.6 C1336.1 2362.9 1332 2358.8 1330.9 2357.2"/>
<path d="M1293.4 2396.2 C1295.8 2397.3 1302.3 2401.6 1307.5 2402.5 C1312.7 2403.4 1319.5 2403.3 1324.7 2401.7 C1329.9 2400.2 1335.4 2396.6 1338.8 2393.1 C1342.1 2389.6 1344.2 2384.8 1345 2380.6 C1345.8 2376.5 1345 2371.8 1343.4 2368.1 C1341.9 2364.5 1336.9 2360.3 1335.6 2358.8"/>
<path d="M1308.3 2359.5 C1309.7 2359.7 1314.1 2358.9 1316.9 2360.3 C1319.6 2361.7 1323.6 2365.3 1324.7 2368.1 C1325.7 2371 1324.9 2374.6 1323.1 2377.5 C1321.3 2380.4 1317.1 2384 1313.8 2385.3 C1310.4 2386.6 1305.9 2386.4 1302.8 2385.3 C1299.7 2384.3 1296.4 2380.9 1295 2379.1 C1293.6 2377.2 1294.3 2375.2 1294.2 2374.4"/>
<path d="M1359.1 2379.1 C1359.8 2380.4 1363 2383.5 1363.8 2386.9 C1364.5 2390.3 1365.1 2395.2 1363.8 2399.4 C1362.4 2403.5 1359.3 2408.8 1355.9 2411.9 C1352.6 2415 1345.5 2417.1 1343.4 2418.1"/>
<path d="M1351.2 2465 C1350.5 2455.6 1352.6 2442.9 1355.9 2433.8 C1359.3 2424.6 1365.1 2416.8 1371.6 2410.3 C1378.1 2403.8 1385.9 2399 1395 2394.7 C1404.1 2390.4 1418.4 2386.4 1426.2 2384.5 C1434.1 2382.7 1434.1 2382.6 1441.9 2383.8 C1449.7 2384.9 1464 2387.7 1473.1 2391.6 C1482.2 2395.5 1491.1 2400.2 1496.6 2407.2 C1502 2414.2 1505.2 2424.1 1505.9 2433.8 C1506.7 2443.4 1504.6 2455.9 1501.2 2465 C1497.9 2474.1 1492.9 2481.4 1485.6 2488.4 C1478.3 2495.5 1467.4 2502.5 1457.5 2507.2 C1447.6 2511.9 1435.4 2515 1426.2 2516.6 C1417.1 2518.1 1410.6 2518.4 1402.8 2516.6 C1395 2514.7 1386.4 2510.1 1379.4 2505.6 C1372.3 2501.2 1365.3 2496.8 1360.6 2490 C1355.9 2483.2 1352 2474.4 1351.2 2465 Z"/>
<path d="M1359.1 2461.9 C1358.3 2454.3 1359.8 2442.3 1363.8 2433.8 C1367.7 2425.2 1374.7 2416.8 1382.5 2410.3 C1390.3 2403.8 1402 2397.9 1410.6 2394.7 C1419.2 2391.4 1426.2 2390.8 1434.1 2390.8 C1441.9 2390.8 1450.5 2392 1457.5 2394.7 C1464.5 2397.4 1471.6 2400.7 1476.2 2407.2 C1480.9 2413.7 1484.8 2424.6 1485.6 2433.8 C1486.4 2442.9 1484.3 2454.1 1480.9 2461.9 C1477.6 2469.7 1471.8 2475.4 1465.3 2480.6 C1458.8 2485.8 1451 2490.3 1441.9 2493.1 C1432.8 2496 1419.7 2497.8 1410.6 2497.8 C1401.5 2497.8 1394.2 2496.2 1387.2 2493.1 C1380.2 2490 1373.1 2484.3 1368.4 2479.1 C1363.8 2473.9 1359.8 2469.4 1359.1 2461.9 Z"/>
<path d="M1366.9 2447.8 C1367.9 2441 1371.6 2428.3 1376.2 2421.2 C1380.9 2414.2 1388 2409.4 1395 2405.6 C1402 2401.8 1410.6 2399.5 1418.4 2398.6 C1426.2 2397.7 1435.4 2398.2 1441.9 2400.2 C1448.4 2402.1 1453.9 2405.8 1457.5 2410.3 C1461.1 2414.9 1463.2 2421 1463.8 2427.5 C1464.3 2434 1463.2 2442.6 1460.6 2449.4 C1458 2456.1 1453.9 2463.2 1448.1 2468.1 C1442.4 2473.1 1433.8 2477 1426.2 2479.1 C1418.7 2481.1 1410.1 2481.4 1402.8 2480.6 C1395.5 2479.8 1388 2477.5 1382.5 2474.4 C1377 2471.2 1372.6 2466.3 1370 2461.9 C1367.4 2457.4 1365.8 2454.6 1366.9 2447.8 Z"/>
<path d="M1395 2469.7 C1392.1 2466.8 1392.4 2458 1393.4 2452.5 C1394.5 2447 1397.1 2441.6 1401.2 2436.9 C1405.4 2432.2 1412.2 2427.4 1418.4 2424.4 C1424.7 2421.4 1434.3 2419.7 1438.8 2418.9 C1443.2 2418.1 1443.4 2417.2 1445 2419.7 C1446.6 2422.2 1448.6 2428.8 1448.1 2433.8 C1447.6 2438.7 1445.5 2444.4 1441.9 2449.4 C1438.2 2454.3 1431.5 2460.1 1426.2 2463.4 C1421 2466.8 1415.8 2468.6 1410.6 2469.7 C1405.4 2470.7 1397.9 2472.6 1395 2469.7 Z"/>
<path d="M1409.8 2405.6 C1412.6 2405.5 1420.9 2403.8 1426.2 2404.8 C1431.6 2405.9 1436.9 2407.6 1441.9 2411.9 C1446.8 2416.2 1453.6 2427.5 1455.9 2430.6"/>
<path d="M1372.3 2444.7 C1373 2447 1373.5 2454.1 1376.2 2458.8 C1379 2463.4 1383 2469.7 1388.8 2472.8 C1394.5 2475.9 1407 2476.7 1410.6 2477.5"/>
<path d="M1488.8 2402.5 C1490.1 2405.1 1494.7 2412.7 1496.6 2418.1 C1498.4 2423.6 1499.2 2432.4 1499.7 2435.3"/>
<path d="M1388.8 2511.9 C1392.4 2511.9 1404.4 2512 1410.6 2511.9 C1416.9 2511.7 1423.6 2511.2 1426.2 2511.1"/>
<path d="M1325.5 2423.1 L1325.5 2537.5"/>
<path d="M1421.1 2518.8 L1421.1 2631.2"/>
<path d="M1498.8 2515 C1497.5 2513.1 1491.9 2507.5 1491.2 2503.8 C1490.6 2500 1491.9 2495.3 1495 2492.5 C1498.1 2489.7 1505 2486.9 1510 2486.9 C1515 2486.9 1520 2489.1 1525 2492.5 C1530 2495.9 1538.1 2502.5 1540 2507.5 C1541.9 2512.5 1540 2519.7 1536.2 2522.5 C1532.5 2525.3 1523.8 2525.6 1517.5 2524.4 C1511.2 2523.1 1501.9 2516.6 1498.8 2515"/>
<path d="M1536.2 2503.8 C1537.5 2505.6 1543.1 2511.2 1543.8 2515 C1544.4 2518.8 1540.6 2524.4 1540 2526.2"/>
<path d="M1547.5 2507.5 L1695.6 2601.2"/>
<path d="M1517.5 2524.4 L1675 2627.5"/>
<path d="M1695.6 2601.2 C1704.1 2598.1 1731.6 2586.2 1746.2 2582.5 C1760.9 2578.8 1772.5 2577.5 1783.8 2578.8 C1795 2580 1804.4 2583.8 1813.8 2590 C1823.1 2596.2 1833.4 2606.2 1840 2616.2 C1846.6 2626.2 1851.9 2637.5 1853.1 2650 C1854.4 2662.5 1852.2 2679.4 1847.5 2691.2 C1842.8 2703.1 1835 2713.8 1825 2721.2 C1815 2728.8 1801.2 2732.5 1787.5 2736.2 C1773.8 2740 1756.9 2744.4 1742.5 2743.8 C1728.1 2743.1 1712.5 2738.8 1701.2 2732.5 C1690 2726.2 1681.2 2716.2 1675 2706.2 C1668.8 2696.2 1664.7 2683.8 1663.8 2672.5 C1662.8 2661.2 1667.5 2646.2 1669.4 2638.8 C1671.2 2631.2 1674.1 2629.4 1675 2627.5"/>
<path d="M1675 2627.5 C1676.9 2627.2 1682.5 2628.1 1686.2 2625.6 C1690 2623.1 1695.9 2616.6 1697.5 2612.5 C1699.1 2608.4 1695.9 2603.1 1695.6 2601.2"/>
<path d="M1678.8 2638.8 C1679.4 2643.8 1678.1 2659.4 1682.5 2668.8 C1686.9 2678.1 1696.9 2689.4 1705 2695 C1713.1 2700.6 1721.2 2702.5 1731.2 2702.5 C1741.2 2702.5 1755 2700.6 1765 2695 C1775 2689.4 1785 2678.1 1791.2 2668.8 C1797.5 2659.4 1801.9 2648.1 1802.5 2638.8 C1803.1 2629.4 1800 2619.4 1795 2612.5 C1790 2605.6 1780.6 2600.3 1772.5 2597.5 C1764.4 2594.7 1750.6 2595.9 1746.2 2595.6"/>
<path d="M1701.2 2603.1 L1740.6 2597.5"/>
<path d="M1746.2 2595.6 C1752.5 2595.9 1770.6 2595.6 1783.8 2597.5 C1796.9 2599.4 1818.1 2605.3 1825 2606.9"/>
<path d="M1669.4 2691.2 C1672.8 2695 1681.9 2707.8 1690 2713.8 C1698.1 2719.7 1713.4 2724.7 1718.1 2726.9"/>
<path d="M1738.8 2743.8 L1738.8 2788"/>
<!-- c03_fwd.py -->
<path d="M303.8 2695.6 L356.9 2622.5 L359.4 2621.2 L359.4 2635 L473.1 2581.2 L477.5 2581.2 L477.5 2645 L360 2700 L360 2716.9 Z" fill="#2b0000" stroke="#2b0000" stroke-width="1.5"/>
<path d="M294.4 2691.9 L349.4 2616.9 L358.8 2621.2 L303.8 2695.6 L294.4 2691.9"/>
<path d="M359.4 2628.1 L466.2 2575 L476.2 2579.4 L477.5 2581.9"/>
<path d="M466.2 2575 L460 2578.1"/>
<text transform="translate(356.5,2691.0) skewY(-25.8) scale(0.74,1)" font-family="Liberation Sans, sans-serif" font-size="64" letter-spacing="3" fill="#fff" stroke="#fff" stroke-width="2.4">FWD</text>
<!-- d01_rightvalve.py -->
<path d="M2232.9 1824.8 L2231.8 1827.6 L2229.4 1830.2 L2225.7 1832.5 L2220.9 1834.5 L2215 1836.1 L2208.1 1837.2 L2200.3 1838 L2191.7 1838.3 L2182.6 1838.2 L2173 1837.6 L2163.2 1836.6 L2153.2 1835.2 L2143.3 1833.4 L2133.7 1831.3 L2124.4 1828.8 L2115.7 1826 L2107.7 1823 L2100.6 1819.9 L2094.4 1816.6 L2089.2 1813.2 L2085.3 1809.9 L2082.5 1806.5 L2081.1 1803.3 L2080.9 1800.2 L2082 1797.4 L2084.4 1794.8 L2088.1 1792.5 L2092.9 1790.5 L2098.8 1788.9 L2105.7 1787.8 L2113.5 1787 L2122.1 1786.7 L2131.2 1786.8 L2140.8 1787.4 L2150.6 1788.4 L2160.6 1789.8 L2170.5 1791.6 L2180.1 1793.7 L2189.4 1796.2 L2198.1 1799 L2206.1 1802 L2213.2 1805.1 L2219.4 1808.4 L2224.6 1811.8 L2228.5 1815.1 L2231.3 1818.5 L2232.7 1821.7 L2232.9 1824.8 Z M2215.4 1821.9 L2215.2 1820.1 L2214 1818.1 L2211.8 1816 L2208.7 1813.9 L2204.7 1811.7 L2199.8 1809.5 L2194.3 1807.4 L2188.1 1805.4 L2181.3 1803.5 L2174.2 1801.8 L2166.7 1800.2 L2159.1 1798.9 L2151.4 1797.8 L2143.9 1796.9 L2136.5 1796.3 L2129.5 1796 L2123 1795.9 L2117.1 1796.2 L2111.8 1796.7 L2107.3 1797.5 L2103.7 1798.6 L2100.9 1799.8 L2099.2 1801.4 L2098.4 1803.1 L2098.6 1804.9 L2099.8 1806.9 L2102 1809 L2105.1 1811.1 L2109.1 1813.3 L2114 1815.5 L2119.5 1817.6 L2125.7 1819.6 L2132.5 1821.5 L2139.6 1823.2 L2147.1 1824.8 L2154.7 1826.1 L2162.4 1827.2 L2169.9 1828.1 L2177.3 1828.7 L2184.3 1829 L2190.8 1829.1 L2196.7 1828.8 L2202 1828.3 L2206.5 1827.5 L2210.1 1826.4 L2212.9 1825.2 L2214.6 1823.6 L2215.4 1821.9 Z" fill="#fff" fill-rule="evenodd"/>
<path d="M2244.6 1791.9 L2243.5 1794.7 L2241.1 1797.3 L2237.4 1799.6 L2232.6 1801.6 L2226.7 1803.2 L2219.8 1804.3 L2212 1805.1 L2203.4 1805.4 L2194.3 1805.3 L2184.7 1804.7 L2174.9 1803.7 L2164.9 1802.3 L2155 1800.5 L2145.4 1798.4 L2136.1 1795.9 L2127.4 1793.1 L2119.4 1790.1 L2112.3 1787 L2106.1 1783.7 L2100.9 1780.3 L2097 1777 L2094.2 1773.6 L2092.8 1770.4 L2092.6 1767.3 L2093.7 1764.5 L2096.1 1761.9 L2099.8 1759.6 L2104.6 1757.6 L2110.5 1756 L2117.4 1754.9 L2125.2 1754.1 L2133.8 1753.8 L2142.9 1753.9 L2152.5 1754.5 L2162.3 1755.5 L2172.3 1756.9 L2182.2 1758.7 L2191.8 1760.8 L2201.1 1763.3 L2209.8 1766.1 L2217.8 1769.1 L2224.9 1772.2 L2231.1 1775.5 L2236.3 1778.9 L2240.2 1782.2 L2243 1785.6 L2244.4 1788.8 L2244.6 1791.9 Z M2227.1 1789 L2226.9 1787.2 L2225.7 1785.2 L2223.5 1783.1 L2220.4 1781 L2216.4 1778.8 L2211.5 1776.6 L2206 1774.5 L2199.8 1772.5 L2193 1770.6 L2185.9 1768.9 L2178.4 1767.3 L2170.8 1766 L2163.1 1764.9 L2155.6 1764 L2148.2 1763.4 L2141.2 1763.1 L2134.7 1763 L2128.8 1763.3 L2123.5 1763.8 L2119 1764.6 L2115.4 1765.7 L2112.6 1766.9 L2110.9 1768.5 L2110.1 1770.2 L2110.3 1772 L2111.5 1774 L2113.7 1776.1 L2116.8 1778.2 L2120.8 1780.4 L2125.7 1782.6 L2131.2 1784.7 L2137.4 1786.7 L2144.2 1788.6 L2151.3 1790.3 L2158.8 1791.9 L2166.4 1793.2 L2174.1 1794.3 L2181.6 1795.2 L2189 1795.8 L2196 1796.1 L2202.5 1796.2 L2208.4 1795.9 L2213.7 1795.4 L2218.2 1794.6 L2221.8 1793.5 L2224.6 1792.3 L2226.3 1790.7 L2227.1 1789 Z" fill="#fff" fill-rule="evenodd"/>
<path d="M2256.3 1759 L2255.2 1761.8 L2252.8 1764.4 L2249.1 1766.7 L2244.3 1768.7 L2238.4 1770.3 L2231.5 1771.4 L2223.7 1772.2 L2215.1 1772.5 L2206 1772.4 L2196.4 1771.8 L2186.6 1770.8 L2176.6 1769.4 L2166.7 1767.6 L2157.1 1765.5 L2147.8 1763 L2139.1 1760.2 L2131.1 1757.2 L2124 1754.1 L2117.8 1750.8 L2112.6 1747.4 L2108.7 1744.1 L2105.9 1740.7 L2104.5 1737.5 L2104.3 1734.4 L2105.4 1731.6 L2107.8 1729 L2111.5 1726.7 L2116.3 1724.7 L2122.2 1723.1 L2129.1 1722 L2136.9 1721.2 L2145.5 1720.9 L2154.6 1721 L2164.2 1721.6 L2174 1722.6 L2184 1724 L2193.9 1725.8 L2203.5 1727.9 L2212.8 1730.4 L2221.5 1733.2 L2229.5 1736.2 L2236.6 1739.3 L2242.8 1742.6 L2248 1746 L2251.9 1749.3 L2254.7 1752.7 L2256.1 1755.9 L2256.3 1759 Z M2238.8 1756.1 L2238.6 1754.3 L2237.4 1752.3 L2235.2 1750.2 L2232.1 1748.1 L2228.1 1745.9 L2223.2 1743.7 L2217.7 1741.6 L2211.5 1739.6 L2204.7 1737.7 L2197.6 1736 L2190.1 1734.4 L2182.5 1733.1 L2174.8 1732 L2167.3 1731.1 L2159.9 1730.5 L2152.9 1730.2 L2146.4 1730.1 L2140.5 1730.4 L2135.2 1730.9 L2130.7 1731.7 L2127.1 1732.8 L2124.3 1734 L2122.6 1735.6 L2121.8 1737.3 L2122 1739.1 L2123.2 1741.1 L2125.4 1743.2 L2128.5 1745.3 L2132.5 1747.5 L2137.4 1749.7 L2142.9 1751.8 L2149.1 1753.8 L2155.9 1755.7 L2163 1757.4 L2170.5 1759 L2178.1 1760.3 L2185.8 1761.4 L2193.3 1762.3 L2200.7 1762.9 L2207.7 1763.2 L2214.2 1763.3 L2220.1 1763 L2225.4 1762.5 L2229.9 1761.7 L2233.5 1760.6 L2236.3 1759.4 L2238 1757.8 L2238.8 1756.1 Z" fill="#fff" fill-rule="evenodd"/>
<path d="M2268 1726.1 L2266.9 1728.9 L2264.5 1731.5 L2260.8 1733.8 L2256 1735.8 L2250.1 1737.4 L2243.2 1738.5 L2235.4 1739.3 L2226.8 1739.6 L2217.7 1739.5 L2208.1 1738.9 L2198.3 1737.9 L2188.3 1736.5 L2178.4 1734.7 L2168.8 1732.6 L2159.5 1730.1 L2150.8 1727.3 L2142.8 1724.3 L2135.7 1721.2 L2129.5 1717.9 L2124.3 1714.5 L2120.4 1711.2 L2117.6 1707.8 L2116.2 1704.6 L2116 1701.5 L2117.1 1698.7 L2119.5 1696.1 L2123.2 1693.8 L2128 1691.8 L2133.9 1690.2 L2140.8 1689.1 L2148.6 1688.3 L2157.2 1688 L2166.3 1688.1 L2175.9 1688.7 L2185.7 1689.7 L2195.7 1691.1 L2205.6 1692.9 L2215.2 1695 L2224.5 1697.5 L2233.2 1700.3 L2241.2 1703.3 L2248.3 1706.4 L2254.5 1709.7 L2259.7 1713.1 L2263.6 1716.4 L2266.4 1719.8 L2267.8 1723 L2268 1726.1 Z M2250.5 1723.2 L2250.3 1721.4 L2249.1 1719.4 L2246.9 1717.3 L2243.8 1715.2 L2239.8 1713 L2234.9 1710.8 L2229.4 1708.7 L2223.2 1706.7 L2216.4 1704.8 L2209.3 1703.1 L2201.8 1701.5 L2194.2 1700.2 L2186.5 1699.1 L2179 1698.2 L2171.6 1697.6 L2164.6 1697.3 L2158.1 1697.2 L2152.2 1697.5 L2146.9 1698 L2142.4 1698.8 L2138.8 1699.9 L2136 1701.1 L2134.3 1702.7 L2133.5 1704.4 L2133.7 1706.2 L2134.9 1708.2 L2137.1 1710.3 L2140.2 1712.4 L2144.2 1714.6 L2149.1 1716.8 L2154.6 1718.9 L2160.8 1720.9 L2167.6 1722.8 L2174.7 1724.5 L2182.2 1726.1 L2189.8 1727.4 L2197.5 1728.5 L2205 1729.4 L2212.4 1730 L2219.4 1730.3 L2225.9 1730.4 L2231.8 1730.1 L2237.1 1729.6 L2241.6 1728.8 L2245.2 1727.7 L2248 1726.5 L2249.7 1724.9 L2250.5 1723.2 Z" fill="#fff" fill-rule="evenodd"/>
<path d="M2279.7 1693.2 L2278.6 1696 L2276.2 1698.6 L2272.5 1700.9 L2267.7 1702.9 L2261.8 1704.5 L2254.9 1705.6 L2247.1 1706.4 L2238.5 1706.7 L2229.4 1706.6 L2219.8 1706 L2210 1705 L2200 1703.6 L2190.1 1701.8 L2180.5 1699.7 L2171.2 1697.2 L2162.5 1694.4 L2154.5 1691.4 L2147.4 1688.3 L2141.2 1685 L2136 1681.6 L2132.1 1678.3 L2129.3 1674.9 L2127.9 1671.7 L2127.7 1668.6 L2128.8 1665.8 L2131.2 1663.2 L2134.9 1660.9 L2139.7 1658.9 L2145.6 1657.3 L2152.5 1656.2 L2160.3 1655.4 L2168.9 1655.1 L2178 1655.2 L2187.6 1655.8 L2197.4 1656.8 L2207.4 1658.2 L2217.3 1660 L2226.9 1662.1 L2236.2 1664.6 L2244.9 1667.4 L2252.9 1670.4 L2260 1673.5 L2266.2 1676.8 L2271.4 1680.2 L2275.3 1683.5 L2278.1 1686.9 L2279.5 1690.1 L2279.7 1693.2 Z M2262.2 1690.3 L2262 1688.5 L2260.8 1686.5 L2258.6 1684.4 L2255.5 1682.3 L2251.5 1680.1 L2246.6 1677.9 L2241.1 1675.8 L2234.9 1673.8 L2228.1 1671.9 L2221 1670.2 L2213.5 1668.6 L2205.9 1667.3 L2198.2 1666.2 L2190.7 1665.3 L2183.3 1664.7 L2176.3 1664.4 L2169.8 1664.3 L2163.9 1664.6 L2158.6 1665.1 L2154.1 1665.9 L2150.5 1667 L2147.7 1668.2 L2146 1669.8 L2145.2 1671.5 L2145.4 1673.3 L2146.6 1675.3 L2148.8 1677.4 L2151.9 1679.5 L2155.9 1681.7 L2160.8 1683.9 L2166.3 1686 L2172.5 1688 L2179.3 1689.9 L2186.4 1691.6 L2193.9 1693.2 L2201.5 1694.5 L2209.2 1695.6 L2216.7 1696.5 L2224.1 1697.1 L2231.1 1697.4 L2237.6 1697.5 L2243.5 1697.2 L2248.8 1696.7 L2253.3 1695.9 L2256.9 1694.8 L2259.7 1693.6 L2261.4 1692 L2262.2 1690.3 Z" fill="#fff" fill-rule="evenodd"/>
<path d="M2291.4 1660.3 L2290.3 1663.1 L2287.9 1665.7 L2284.2 1668 L2279.4 1670 L2273.5 1671.6 L2266.6 1672.7 L2258.8 1673.5 L2250.2 1673.8 L2241.1 1673.7 L2231.5 1673.1 L2221.7 1672.1 L2211.7 1670.7 L2201.8 1668.9 L2192.2 1666.8 L2182.9 1664.3 L2174.2 1661.5 L2166.2 1658.5 L2159.1 1655.4 L2152.9 1652.1 L2147.7 1648.7 L2143.8 1645.4 L2141 1642 L2139.6 1638.8 L2139.4 1635.7 L2140.5 1632.9 L2142.9 1630.3 L2146.6 1628 L2151.4 1626 L2157.3 1624.4 L2164.2 1623.3 L2172 1622.5 L2180.6 1622.2 L2189.7 1622.3 L2199.3 1622.9 L2209.1 1623.9 L2219.1 1625.3 L2229 1627.1 L2238.6 1629.2 L2247.9 1631.7 L2256.6 1634.5 L2264.6 1637.5 L2271.7 1640.6 L2277.9 1643.9 L2283.1 1647.3 L2287 1650.6 L2289.8 1654 L2291.2 1657.2 L2291.4 1660.3 Z M2273.9 1657.4 L2273.7 1655.6 L2272.5 1653.6 L2270.3 1651.5 L2267.2 1649.4 L2263.2 1647.2 L2258.3 1645 L2252.8 1642.9 L2246.6 1640.9 L2239.8 1639 L2232.7 1637.3 L2225.2 1635.7 L2217.6 1634.4 L2209.9 1633.3 L2202.4 1632.4 L2195 1631.8 L2188 1631.5 L2181.5 1631.4 L2175.6 1631.7 L2170.3 1632.2 L2165.8 1633 L2162.2 1634.1 L2159.4 1635.3 L2157.7 1636.9 L2156.9 1638.6 L2157.1 1640.4 L2158.3 1642.4 L2160.5 1644.5 L2163.6 1646.6 L2167.6 1648.8 L2172.5 1651 L2178 1653.1 L2184.2 1655.1 L2191 1657 L2198.1 1658.7 L2205.6 1660.3 L2213.2 1661.6 L2220.9 1662.7 L2228.4 1663.6 L2235.8 1664.2 L2242.8 1664.5 L2249.3 1664.6 L2255.2 1664.3 L2260.5 1663.8 L2265 1663 L2268.6 1661.9 L2271.4 1660.7 L2273.1 1659.1 L2273.9 1657.4 Z" fill="#fff" fill-rule="evenodd"/>
<path d="M2303.1 1627.4 L2302 1630.2 L2299.6 1632.8 L2295.9 1635.1 L2291.1 1637.1 L2285.2 1638.7 L2278.3 1639.8 L2270.5 1640.6 L2261.9 1640.9 L2252.8 1640.8 L2243.2 1640.2 L2233.4 1639.2 L2223.4 1637.8 L2213.5 1636 L2203.9 1633.9 L2194.6 1631.4 L2185.9 1628.6 L2177.9 1625.6 L2170.8 1622.5 L2164.6 1619.2 L2159.4 1615.8 L2155.5 1612.5 L2152.7 1609.1 L2151.3 1605.9 L2151.1 1602.8 L2152.2 1600 L2154.6 1597.4 L2158.3 1595.1 L2163.1 1593.1 L2169 1591.5 L2175.9 1590.4 L2183.7 1589.6 L2192.3 1589.3 L2201.4 1589.4 L2211 1590 L2220.8 1591 L2230.8 1592.4 L2240.7 1594.2 L2250.3 1596.3 L2259.6 1598.8 L2268.3 1601.6 L2276.3 1604.6 L2283.4 1607.7 L2289.6 1611 L2294.8 1614.4 L2298.7 1617.7 L2301.5 1621.1 L2302.9 1624.3 L2303.1 1627.4 Z M2285.6 1624.5 L2285.4 1622.7 L2284.2 1620.7 L2282 1618.6 L2278.9 1616.5 L2274.9 1614.3 L2270 1612.1 L2264.5 1610 L2258.3 1608 L2251.5 1606.1 L2244.4 1604.4 L2236.9 1602.8 L2229.3 1601.5 L2221.6 1600.4 L2214.1 1599.5 L2206.7 1598.9 L2199.7 1598.6 L2193.2 1598.5 L2187.3 1598.8 L2182 1599.3 L2177.5 1600.1 L2173.9 1601.2 L2171.1 1602.4 L2169.4 1604 L2168.6 1605.7 L2168.8 1607.5 L2170 1609.5 L2172.2 1611.6 L2175.3 1613.7 L2179.3 1615.9 L2184.2 1618.1 L2189.7 1620.2 L2195.9 1622.2 L2202.7 1624.1 L2209.8 1625.8 L2217.3 1627.4 L2224.9 1628.7 L2232.6 1629.8 L2240.1 1630.7 L2247.5 1631.3 L2254.5 1631.6 L2261 1631.7 L2266.9 1631.4 L2272.2 1630.9 L2276.7 1630.1 L2280.3 1629 L2283.1 1627.8 L2284.8 1626.2 L2285.6 1624.5 Z" fill="#fff" fill-rule="evenodd"/>
<path d="M2281.8 1621.3 L2281 1623.4 L2279.2 1625.2 L2276.6 1626.7 L2273.2 1628 L2269.1 1629 L2264.3 1629.7 L2258.9 1630 L2253 1630.1 L2246.7 1629.8 L2240.2 1629.1 L2233.4 1628.2 L2226.6 1627 L2219.9 1625.5 L2213.3 1623.7 L2207 1621.7 L2201.1 1619.5 L2195.7 1617.2 L2190.9 1614.8 L2186.7 1612.3 L2183.3 1609.8 L2180.7 1607.3 L2178.9 1604.8 L2178 1602.5 L2178 1600.3 L2178.8 1598.2 L2180.6 1596.4 L2183.2 1594.9 L2186.6 1593.6 L2190.7 1592.6 L2195.5 1591.9 L2200.9 1591.6 L2206.8 1591.5 L2213.1 1591.8 L2219.6 1592.5 L2226.4 1593.4 L2233.2 1594.6 L2239.9 1596.1 L2246.5 1597.9 L2252.8 1599.9 L2258.7 1602.1 L2264.1 1604.4 L2268.9 1606.8 L2273.1 1609.3 L2276.5 1611.8 L2279.1 1614.3 L2280.9 1616.8 L2281.8 1619.1 L2281.8 1621.3 Z M2269.4 1618.8 L2269.3 1617.7 L2268.5 1616.4 L2267 1615.1 L2264.9 1613.7 L2262.2 1612.2 L2259 1610.7 L2255.2 1609.3 L2251.1 1607.8 L2246.5 1606.4 L2241.7 1605.1 L2236.7 1603.8 L2231.5 1602.7 L2226.4 1601.7 L2221.3 1600.9 L2216.3 1600.3 L2211.6 1599.8 L2207.2 1599.5 L2203.1 1599.4 L2199.6 1599.5 L2196.5 1599.8 L2194.1 1600.3 L2192.2 1601 L2191 1601.8 L2190.4 1602.8 L2190.5 1603.9 L2191.3 1605.2 L2192.8 1606.5 L2194.9 1607.9 L2197.6 1609.4 L2200.8 1610.9 L2204.6 1612.3 L2208.7 1613.8 L2213.3 1615.2 L2218.1 1616.5 L2223.1 1617.8 L2228.3 1618.9 L2233.4 1619.9 L2238.5 1620.7 L2243.5 1621.3 L2248.2 1621.8 L2252.6 1622.1 L2256.7 1622.2 L2260.2 1622.1 L2263.3 1621.8 L2265.7 1621.3 L2267.6 1620.6 L2268.8 1619.8 L2269.4 1618.8 Z" fill="#fff" fill-rule="evenodd"/>
<path d="M2290.9 1598.9 L2290.1 1601 L2288.3 1602.8 L2285.7 1604.3 L2282.3 1605.6 L2278.2 1606.6 L2273.4 1607.3 L2268 1607.6 L2262.1 1607.7 L2255.8 1607.4 L2249.3 1606.7 L2242.5 1605.8 L2235.7 1604.6 L2229 1603.1 L2222.4 1601.3 L2216.1 1599.3 L2210.2 1597.1 L2204.8 1594.8 L2200 1592.4 L2195.8 1589.9 L2192.4 1587.4 L2189.8 1584.9 L2188 1582.4 L2187.1 1580.1 L2187.1 1577.9 L2187.9 1575.8 L2189.7 1574 L2192.3 1572.5 L2195.7 1571.2 L2199.8 1570.2 L2204.6 1569.5 L2210 1569.2 L2215.9 1569.1 L2222.2 1569.4 L2228.7 1570.1 L2235.5 1571 L2242.3 1572.2 L2249 1573.7 L2255.6 1575.5 L2261.9 1577.5 L2267.8 1579.7 L2273.2 1582 L2278 1584.4 L2282.2 1586.9 L2285.6 1589.4 L2288.2 1591.9 L2290 1594.4 L2290.9 1596.7 L2290.9 1598.9 Z M2278.5 1596.4 L2278.4 1595.3 L2277.6 1594 L2276.1 1592.7 L2274 1591.3 L2271.3 1589.8 L2268.1 1588.3 L2264.3 1586.9 L2260.2 1585.4 L2255.6 1584 L2250.8 1582.7 L2245.8 1581.4 L2240.6 1580.3 L2235.5 1579.3 L2230.4 1578.5 L2225.4 1577.9 L2220.7 1577.4 L2216.3 1577.1 L2212.2 1577 L2208.7 1577.1 L2205.6 1577.4 L2203.2 1577.9 L2201.3 1578.6 L2200.1 1579.4 L2199.5 1580.4 L2199.6 1581.5 L2200.4 1582.8 L2201.9 1584.1 L2204 1585.5 L2206.7 1587 L2209.9 1588.5 L2213.7 1589.9 L2217.8 1591.4 L2222.4 1592.8 L2227.2 1594.1 L2232.2 1595.4 L2237.4 1596.5 L2242.5 1597.5 L2247.6 1598.3 L2252.6 1598.9 L2257.3 1599.4 L2261.7 1599.7 L2265.8 1599.8 L2269.3 1599.7 L2272.4 1599.4 L2274.8 1598.9 L2276.7 1598.2 L2277.9 1597.4 L2278.5 1596.4 Z" fill="#fff" fill-rule="evenodd"/>
<path d="M2300 1576.5 L2299.2 1578.6 L2297.4 1580.4 L2294.8 1581.9 L2291.4 1583.2 L2287.3 1584.2 L2282.5 1584.9 L2277.1 1585.2 L2271.2 1585.3 L2264.9 1585 L2258.4 1584.3 L2251.6 1583.4 L2244.8 1582.2 L2238.1 1580.7 L2231.5 1578.9 L2225.2 1576.9 L2219.3 1574.7 L2213.9 1572.4 L2209.1 1570 L2204.9 1567.5 L2201.5 1565 L2198.9 1562.5 L2197.1 1560 L2196.2 1557.7 L2196.2 1555.5 L2197 1553.4 L2198.8 1551.6 L2201.4 1550.1 L2204.8 1548.8 L2208.9 1547.8 L2213.7 1547.1 L2219.1 1546.8 L2225 1546.7 L2231.3 1547 L2237.8 1547.7 L2244.6 1548.6 L2251.4 1549.8 L2258.1 1551.3 L2264.7 1553.1 L2271 1555.1 L2276.9 1557.3 L2282.3 1559.6 L2287.1 1562 L2291.3 1564.5 L2294.7 1567 L2297.3 1569.5 L2299.1 1572 L2300 1574.3 L2300 1576.5 Z M2287.6 1574 L2287.5 1572.9 L2286.7 1571.6 L2285.2 1570.3 L2283.1 1568.9 L2280.4 1567.4 L2277.2 1565.9 L2273.4 1564.5 L2269.3 1563 L2264.7 1561.6 L2259.9 1560.3 L2254.9 1559 L2249.7 1557.9 L2244.6 1556.9 L2239.5 1556.1 L2234.5 1555.5 L2229.8 1555 L2225.4 1554.7 L2221.3 1554.6 L2217.8 1554.7 L2214.7 1555 L2212.3 1555.5 L2210.4 1556.2 L2209.2 1557 L2208.6 1558 L2208.7 1559.1 L2209.5 1560.4 L2211 1561.7 L2213.1 1563.1 L2215.8 1564.6 L2219 1566.1 L2222.8 1567.5 L2226.9 1569 L2231.5 1570.4 L2236.3 1571.7 L2241.3 1573 L2246.5 1574.1 L2251.6 1575.1 L2256.7 1575.9 L2261.7 1576.5 L2266.4 1577 L2270.8 1577.3 L2274.9 1577.4 L2278.4 1577.3 L2281.5 1577 L2283.9 1576.5 L2285.8 1575.8 L2287 1575 L2287.6 1574 Z" fill="#fff" fill-rule="evenodd"/>
<path d="M2309.1 1554.1 L2308.3 1556.2 L2306.5 1558 L2303.9 1559.5 L2300.5 1560.8 L2296.4 1561.8 L2291.6 1562.5 L2286.2 1562.8 L2280.3 1562.9 L2274 1562.6 L2267.5 1561.9 L2260.7 1561 L2253.9 1559.8 L2247.2 1558.3 L2240.6 1556.5 L2234.3 1554.5 L2228.4 1552.3 L2223 1550 L2218.2 1547.6 L2214 1545.1 L2210.6 1542.6 L2208 1540.1 L2206.2 1537.6 L2205.3 1535.3 L2205.3 1533.1 L2206.1 1531 L2207.9 1529.2 L2210.5 1527.7 L2213.9 1526.4 L2218 1525.4 L2222.8 1524.7 L2228.2 1524.4 L2234.1 1524.3 L2240.4 1524.6 L2246.9 1525.3 L2253.7 1526.2 L2260.5 1527.4 L2267.2 1528.9 L2273.8 1530.7 L2280.1 1532.7 L2286 1534.9 L2291.4 1537.2 L2296.2 1539.6 L2300.4 1542.1 L2303.8 1544.6 L2306.4 1547.1 L2308.2 1549.6 L2309.1 1551.9 L2309.1 1554.1 Z M2296.7 1551.6 L2296.6 1550.5 L2295.8 1549.2 L2294.3 1547.9 L2292.2 1546.5 L2289.5 1545 L2286.3 1543.5 L2282.5 1542.1 L2278.4 1540.6 L2273.8 1539.2 L2269 1537.9 L2264 1536.6 L2258.8 1535.5 L2253.7 1534.5 L2248.6 1533.7 L2243.6 1533.1 L2238.9 1532.6 L2234.5 1532.3 L2230.4 1532.2 L2226.9 1532.3 L2223.8 1532.6 L2221.4 1533.1 L2219.5 1533.8 L2218.3 1534.6 L2217.7 1535.6 L2217.8 1536.7 L2218.6 1538 L2220.1 1539.3 L2222.2 1540.7 L2224.9 1542.2 L2228.1 1543.7 L2231.9 1545.1 L2236 1546.6 L2240.6 1548 L2245.4 1549.3 L2250.4 1550.6 L2255.6 1551.7 L2260.7 1552.7 L2265.8 1553.5 L2270.8 1554.1 L2275.5 1554.6 L2279.9 1554.9 L2284 1555 L2287.5 1554.9 L2290.6 1554.6 L2293 1554.1 L2294.9 1553.4 L2296.1 1552.6 L2296.7 1551.6 Z" fill="#fff" fill-rule="evenodd"/>
<path d="M2318.2 1531.7 L2317.4 1533.8 L2315.6 1535.6 L2313 1537.1 L2309.6 1538.4 L2305.5 1539.4 L2300.7 1540.1 L2295.3 1540.4 L2289.4 1540.5 L2283.1 1540.2 L2276.6 1539.5 L2269.8 1538.6 L2263 1537.4 L2256.3 1535.9 L2249.7 1534.1 L2243.4 1532.1 L2237.5 1529.9 L2232.1 1527.6 L2227.3 1525.2 L2223.1 1522.7 L2219.7 1520.2 L2217.1 1517.7 L2215.3 1515.2 L2214.4 1512.9 L2214.4 1510.7 L2215.2 1508.6 L2217 1506.8 L2219.6 1505.3 L2223 1504 L2227.1 1503 L2231.9 1502.3 L2237.3 1502 L2243.2 1501.9 L2249.5 1502.2 L2256 1502.9 L2262.8 1503.8 L2269.6 1505 L2276.3 1506.5 L2282.9 1508.3 L2289.2 1510.3 L2295.1 1512.5 L2300.5 1514.8 L2305.3 1517.2 L2309.5 1519.7 L2312.9 1522.2 L2315.5 1524.7 L2317.3 1527.2 L2318.2 1529.5 L2318.2 1531.7 Z M2305.8 1529.2 L2305.7 1528.1 L2304.9 1526.8 L2303.4 1525.5 L2301.3 1524.1 L2298.6 1522.6 L2295.4 1521.1 L2291.6 1519.7 L2287.5 1518.2 L2282.9 1516.8 L2278.1 1515.5 L2273.1 1514.2 L2267.9 1513.1 L2262.8 1512.1 L2257.7 1511.3 L2252.7 1510.7 L2248 1510.2 L2243.6 1509.9 L2239.5 1509.8 L2236 1509.9 L2232.9 1510.2 L2230.5 1510.7 L2228.6 1511.4 L2227.4 1512.2 L2226.8 1513.2 L2226.9 1514.3 L2227.7 1515.6 L2229.2 1516.9 L2231.3 1518.3 L2234 1519.8 L2237.2 1521.3 L2241 1522.7 L2245.1 1524.2 L2249.7 1525.6 L2254.5 1526.9 L2259.5 1528.2 L2264.7 1529.3 L2269.8 1530.3 L2274.9 1531.1 L2279.9 1531.7 L2284.6 1532.2 L2289 1532.5 L2293.1 1532.6 L2296.6 1532.5 L2299.7 1532.2 L2302.1 1531.7 L2304 1531 L2305.2 1530.2 L2305.8 1529.2 Z" fill="#fff" fill-rule="evenodd"/>
<path d="M2327.3 1509.3 L2326.5 1511.4 L2324.7 1513.2 L2322.1 1514.7 L2318.7 1516 L2314.6 1517 L2309.8 1517.7 L2304.4 1518 L2298.5 1518.1 L2292.2 1517.8 L2285.7 1517.1 L2278.9 1516.2 L2272.1 1515 L2265.4 1513.5 L2258.8 1511.7 L2252.5 1509.7 L2246.6 1507.5 L2241.2 1505.2 L2236.4 1502.8 L2232.2 1500.3 L2228.8 1497.8 L2226.2 1495.3 L2224.4 1492.8 L2223.5 1490.5 L2223.5 1488.3 L2224.3 1486.2 L2226.1 1484.4 L2228.7 1482.9 L2232.1 1481.6 L2236.2 1480.6 L2241 1479.9 L2246.4 1479.6 L2252.3 1479.5 L2258.6 1479.8 L2265.1 1480.5 L2271.9 1481.4 L2278.7 1482.6 L2285.4 1484.1 L2292 1485.9 L2298.3 1487.9 L2304.2 1490.1 L2309.6 1492.4 L2314.4 1494.8 L2318.6 1497.3 L2322 1499.8 L2324.6 1502.3 L2326.4 1504.8 L2327.3 1507.1 L2327.3 1509.3 Z M2314.9 1506.8 L2314.8 1505.7 L2314 1504.4 L2312.5 1503.1 L2310.4 1501.7 L2307.7 1500.2 L2304.5 1498.7 L2300.7 1497.3 L2296.6 1495.8 L2292 1494.4 L2287.2 1493.1 L2282.2 1491.8 L2277 1490.7 L2271.9 1489.7 L2266.8 1488.9 L2261.8 1488.3 L2257.1 1487.8 L2252.7 1487.5 L2248.6 1487.4 L2245.1 1487.5 L2242 1487.8 L2239.6 1488.3 L2237.7 1489 L2236.5 1489.8 L2235.9 1490.8 L2236 1491.9 L2236.8 1493.2 L2238.3 1494.5 L2240.4 1495.9 L2243.1 1497.4 L2246.3 1498.9 L2250.1 1500.3 L2254.2 1501.8 L2258.8 1503.2 L2263.6 1504.5 L2268.6 1505.8 L2273.8 1506.9 L2278.9 1507.9 L2284 1508.7 L2289 1509.3 L2293.7 1509.8 L2298.1 1510.1 L2302.2 1510.2 L2305.7 1510.1 L2308.8 1509.8 L2311.2 1509.3 L2313.1 1508.6 L2314.3 1507.8 L2314.9 1506.8 Z" fill="#fff" fill-rule="evenodd"/>
<path d="M2336.4 1486.9 L2335.6 1489 L2333.8 1490.8 L2331.2 1492.3 L2327.8 1493.6 L2323.7 1494.6 L2318.9 1495.3 L2313.5 1495.6 L2307.6 1495.7 L2301.3 1495.4 L2294.8 1494.7 L2288 1493.8 L2281.2 1492.6 L2274.5 1491.1 L2267.9 1489.3 L2261.6 1487.3 L2255.7 1485.1 L2250.3 1482.8 L2245.5 1480.4 L2241.3 1477.9 L2237.9 1475.4 L2235.3 1472.9 L2233.5 1470.4 L2232.6 1468.1 L2232.6 1465.9 L2233.4 1463.8 L2235.2 1462 L2237.8 1460.5 L2241.2 1459.2 L2245.3 1458.2 L2250.1 1457.5 L2255.5 1457.2 L2261.4 1457.1 L2267.7 1457.4 L2274.2 1458.1 L2281 1459 L2287.8 1460.2 L2294.5 1461.7 L2301.1 1463.5 L2307.4 1465.5 L2313.3 1467.7 L2318.7 1470 L2323.5 1472.4 L2327.7 1474.9 L2331.1 1477.4 L2333.7 1479.9 L2335.5 1482.4 L2336.4 1484.7 L2336.4 1486.9 Z M2324 1484.4 L2323.9 1483.3 L2323.1 1482 L2321.6 1480.7 L2319.5 1479.3 L2316.8 1477.8 L2313.6 1476.3 L2309.8 1474.9 L2305.7 1473.4 L2301.1 1472 L2296.3 1470.7 L2291.3 1469.4 L2286.1 1468.3 L2281 1467.3 L2275.9 1466.5 L2270.9 1465.9 L2266.2 1465.4 L2261.8 1465.1 L2257.7 1465 L2254.2 1465.1 L2251.1 1465.4 L2248.7 1465.9 L2246.8 1466.6 L2245.6 1467.4 L2245 1468.4 L2245.1 1469.5 L2245.9 1470.8 L2247.4 1472.1 L2249.5 1473.5 L2252.2 1475 L2255.4 1476.5 L2259.2 1477.9 L2263.3 1479.4 L2267.9 1480.8 L2272.7 1482.1 L2277.7 1483.4 L2282.9 1484.5 L2288 1485.5 L2293.1 1486.3 L2298.1 1486.9 L2302.8 1487.4 L2307.2 1487.7 L2311.3 1487.8 L2314.8 1487.7 L2317.9 1487.4 L2320.3 1486.9 L2322.2 1486.2 L2323.4 1485.4 L2324 1484.4 Z" fill="#fff" fill-rule="evenodd"/>
<path d="M2345.5 1464.5 L2344.7 1466.6 L2342.9 1468.4 L2340.3 1469.9 L2336.9 1471.2 L2332.8 1472.2 L2328 1472.9 L2322.6 1473.2 L2316.7 1473.3 L2310.4 1473 L2303.9 1472.3 L2297.1 1471.4 L2290.3 1470.2 L2283.6 1468.7 L2277 1466.9 L2270.7 1464.9 L2264.8 1462.7 L2259.4 1460.4 L2254.6 1458 L2250.4 1455.5 L2247 1453 L2244.4 1450.5 L2242.6 1448 L2241.7 1445.7 L2241.7 1443.5 L2242.5 1441.4 L2244.3 1439.6 L2246.9 1438.1 L2250.3 1436.8 L2254.4 1435.8 L2259.2 1435.1 L2264.6 1434.8 L2270.5 1434.7 L2276.8 1435 L2283.3 1435.7 L2290.1 1436.6 L2296.9 1437.8 L2303.6 1439.3 L2310.2 1441.1 L2316.5 1443.1 L2322.4 1445.3 L2327.8 1447.6 L2332.6 1450 L2336.8 1452.5 L2340.2 1455 L2342.8 1457.5 L2344.6 1460 L2345.5 1462.3 L2345.5 1464.5 Z M2333.1 1462 L2333 1460.9 L2332.2 1459.6 L2330.7 1458.3 L2328.6 1456.9 L2325.9 1455.4 L2322.7 1453.9 L2318.9 1452.5 L2314.8 1451 L2310.2 1449.6 L2305.4 1448.3 L2300.4 1447 L2295.2 1445.9 L2290.1 1444.9 L2285 1444.1 L2280 1443.5 L2275.3 1443 L2270.9 1442.7 L2266.8 1442.6 L2263.3 1442.7 L2260.2 1443 L2257.8 1443.5 L2255.9 1444.2 L2254.7 1445 L2254.1 1446 L2254.2 1447.1 L2255 1448.4 L2256.5 1449.7 L2258.6 1451.1 L2261.3 1452.6 L2264.5 1454.1 L2268.3 1455.5 L2272.4 1457 L2277 1458.4 L2281.8 1459.7 L2286.8 1461 L2292 1462.1 L2297.1 1463.1 L2302.2 1463.9 L2307.2 1464.5 L2311.9 1465 L2316.3 1465.3 L2320.4 1465.4 L2323.9 1465.3 L2327 1465 L2329.4 1464.5 L2331.3 1463.8 L2332.5 1463 L2333.1 1462 Z" fill="#fff" fill-rule="evenodd"/>
<path d="M2162.5 1842.5 C2162.9 1844 2155.4 1851.7 2165 1851.2 C2174.6 1850.8 2210.8 1841.9 2220 1840"/>
<path d="M2015 1631.2 L2070 1631.2"/>
<path d="M2214 1523 L2112.5 1523 L2030 1736 L2102.5 1736"/>
<g>
<path d="M2233.1 1380.1 C2234.1 1378.3 2235.2 1372.2 2239.4 1369.5 C2243.7 1366.9 2249.3 1364.8 2258.5 1364.2 C2267.6 1363.7 2281.4 1364.2 2294.4 1366.3 C2307.5 1368.5 2322.1 1372.3 2336.7 1376.9 C2351.3 1381.5 2374.5 1391 2382 1393.8"/>
<path d="M2233.1 1380.1 C2234.5 1381.7 2233.1 1385.6 2241.5 1389.6 C2250 1393.7 2268 1399.8 2283.8 1404.4 C2299.7 1409 2320.4 1414.3 2336.7 1417.1 C2353.1 1419.9 2374.5 1420.6 2382 1421.3"/>
<path d="M2241.5 1396 C2241.4 1397.4 2238.4 1401.2 2240.5 1404.4 C2242.6 1407.6 2245.2 1410.8 2254.2 1415 C2263.2 1419.2 2280.7 1426.3 2294.4 1429.8 C2308.2 1433.3 2325.4 1435.1 2336.7 1436.2 C2348 1437.2 2357.2 1436.9 2362.1 1436.2 C2367.1 1435.4 2365.3 1434 2366.3 1431.9 C2367.4 1429.8 2368.1 1424.9 2368.5 1423.5"/>
<path d="M2280.7 1373.8 C2278.7 1374.3 2271 1375.3 2269 1376.9 C2267.1 1378.5 2266.6 1380.8 2269 1383.3 C2271.5 1385.7 2276.1 1388.9 2283.8 1391.7 C2291.6 1394.6 2305 1398.1 2315.6 1400.2 C2326.2 1402.3 2339.9 1404.4 2347.3 1404.4 C2354.7 1404.4 2358.6 1402 2360 1400.2 C2361.4 1398.4 2357.9 1395.6 2355.8 1393.8 C2353.7 1392.1 2348.7 1390.3 2347.3 1389.6"/>
<path d="M2275.4 1383.3 C2277.5 1382.9 2283.1 1381.3 2288.1 1381.2 C2293 1381 2302.2 1382 2305 1382.2"/>
<path d="M2330.4 1390.7 C2332.5 1391.6 2339.9 1394 2343.1 1396 C2346.2 1397.9 2348.4 1401.2 2349.4 1402.3"/>
<path d="M2239.4 1373.8 C2240.1 1374.8 2241.2 1378.2 2243.7 1380.1 C2246.1 1382 2252.5 1384.5 2254.2 1385.4"/>
<path d="M2362.1 1413.9 L2382 1410.8"/>
<path d="M2133.7 1385.8 L2233.1 1385.8"/>
</g>
<path d="M2291 1342.5 C2291.4 1340.4 2291.4 1332.5 2293.5 1330 C2295.6 1327.5 2300.6 1327.5 2303.5 1327.5 C2306.4 1327.5 2307.2 1327.9 2311 1330 C2314.8 1332.1 2323.5 1338.3 2326 1340"/>
<path d="M2326 1340 L2318.5 1361.2 L2291 1355 L2291 1342.5"/>
<path d="M2303.5 1330 C2303.9 1330.6 2304.3 1332.9 2306 1333.8 C2307.7 1334.6 2312.2 1334.8 2313.5 1335"/>
<path d="M2338.5 1330 C2340.6 1330.4 2346 1330.4 2351 1332.5 C2356 1334.6 2365.6 1340.8 2368.5 1342.5"/>
<path d="M2338.5 1330 L2331 1352.5 L2346 1365 L2356 1362.5 L2368.5 1342.5"/>
<path d="M2338.5 1336.2 L2334.8 1352.5"/>
<path d="M2351 1346.2 L2346 1362.5"/>
<path d="M2346 1242.5 L2346 1331.2"/>
<path d="M2187.2 1341.2 L2291 1341.2"/>
<path d="M2091.2 1886.2 C2093.5 1881 2101 1861 2105 1855 C2109 1849 2109.2 1850.8 2115 1850 C2120.8 1849.2 2132.5 1848.3 2140 1850 C2147.5 1851.7 2156.5 1857.1 2160 1860 C2163.5 1862.9 2161 1866.2 2161.2 1867.5"/>
<path d="M2161.2 1867.5 L2147.5 1900"/>
<path d="M2147.5 1900 C2142.1 1899.6 2124.4 1899.8 2115 1897.5 C2105.6 1895.2 2095.2 1888.1 2091.2 1886.2"/>
<path d="M2105 1855 C2105.4 1855.8 2102.9 1857.9 2107.5 1860 C2112.1 1862.1 2124.2 1866.2 2132.5 1867.5 C2140.8 1868.8 2152.9 1868.8 2157.5 1867.5 C2162.1 1866.2 2159.6 1861.2 2160 1860"/>
<path d="M2113.8 1850 C2114 1850.8 2111 1853.5 2115 1855 C2119 1856.5 2130.8 1857.9 2137.5 1858.8 C2144.2 1859.6 2152.5 1860.4 2155 1860 C2157.5 1859.6 2156.2 1857.7 2152.5 1856.2 C2148.8 1854.8 2138.8 1852.3 2132.5 1851.2 C2126.2 1850.2 2117.9 1850.2 2115 1850"/>
<path d="M2122.5 1851.2 C2124.6 1851.9 2131.2 1854.6 2135 1855 C2138.8 1855.4 2145 1854.6 2145 1853.8 C2145 1852.9 2138.8 1850.4 2135 1850 C2131.2 1849.6 2124.6 1851 2122.5 1851.2"/>
<path d="M2095 1877.5 C2099.2 1879.2 2110.8 1885 2120 1887.5 C2129.2 1890 2145 1891.7 2150 1892.5"/>
<path d="M2093.8 1882.5 C2098.1 1884.4 2111 1891.5 2120 1893.8 C2129 1896 2142.9 1895.8 2147.5 1896.2"/>
<path d="M1991.2 1867 L2097.5 1867"/>
<path d="M2020 1935 C2021 1933.5 2022.9 1928.5 2026.2 1926.2 C2029.6 1924 2037.7 1922.1 2040 1921.2"/>
<path d="M2020 1935 C2020.4 1935.8 2020 1937.9 2022.5 1940 C2025 1942.1 2027.1 1944.2 2035 1947.5 C2042.9 1950.8 2055.8 1955.8 2070 1960 C2084.2 1964.2 2105.4 1970 2120 1972.5 C2134.6 1975 2148.5 1975.4 2157.5 1975 C2166.5 1974.6 2170.8 1972.9 2173.8 1970 C2176.7 1967.1 2177.7 1962.9 2175 1957.5 C2172.3 1952.1 2160.4 1940.8 2157.5 1937.5"/>
<path d="M2040 1921.2 C2039.6 1923.5 2035.8 1931 2037.5 1935 C2039.2 1939 2040.4 1941.2 2050 1945 C2059.6 1948.8 2081.2 1954.2 2095 1957.5 C2108.8 1960.8 2122.1 1964.2 2132.5 1965 C2142.9 1965.8 2152.5 1964.2 2157.5 1962.5 C2162.5 1960.8 2161.7 1958.3 2162.5 1955 C2163.3 1951.7 2162.5 1944.6 2162.5 1942.5"/>
<path d="M2056.2 1912.5 C2058.5 1911.5 2063.5 1907.3 2070 1906.2 C2076.5 1905.2 2084.6 1904.8 2095 1906.2 C2105.4 1907.7 2122.5 1911.5 2132.5 1915 C2142.5 1918.5 2151.7 1922.5 2155 1927.5 C2158.3 1932.5 2155 1941.2 2152.5 1945 C2150 1948.8 2149.6 1950 2140 1950 C2130.4 1950 2107.9 1947.7 2095 1945 C2082.1 1942.3 2069.4 1937.1 2062.5 1933.8 C2055.6 1930.4 2054.8 1928.5 2053.8 1925 C2052.7 1921.5 2055.8 1914.6 2056.2 1912.5"/>
<path d="M2067.5 1913.8 C2070 1915.2 2075.8 1920 2082.5 1922.5 C2089.2 1925 2098.3 1927.5 2107.5 1928.8 C2116.7 1930 2131.7 1930.6 2137.5 1930 C2143.3 1929.4 2143.8 1926.7 2142.5 1925 C2141.2 1923.3 2132.1 1920.8 2130 1920"/>
<path d="M2075 1912.5 L2085 1910"/>
<path d="M1917.5 1934.5 L2021.2 1934.5"/>
<path d="M2067.5 2010 C2068.5 2006.7 2070.8 1993.5 2073.8 1990 C2076.7 1986.5 2080.8 1988.1 2085 1988.8 C2089.2 1989.4 2096.5 1992.9 2098.8 1993.8"/>
<path d="M2098.8 1993.8 L2092.5 2012.5"/>
<path d="M2067.5 2010 C2069.6 2010.8 2075.8 2014.6 2080 2015 C2084.2 2015.4 2090.4 2012.9 2092.5 2012.5"/>
<path d="M2066.2 2012.5 L2091.2 2016.2"/>
<path d="M2063.8 2012.5 L1909.4 2423.8"/>
<path d="M2091.2 2016.2 L1933.8 2430.3"/>
<path d="M1909.4 2423.8 C1906.6 2425 1901.6 2428.4 1892.5 2431.2 C1883.4 2434.1 1865.9 2439.1 1855 2440.6 C1844.1 2442.2 1833.8 2440 1826.9 2440.6 C1820 2441.2 1817.8 2441.9 1813.8 2444.4 C1809.7 2446.9 1804.4 2452.2 1802.5 2455.6 C1800.6 2459.1 1802.5 2463.4 1802.5 2465"/>
<path d="M1933.8 2430.3 C1934.1 2431.7 1933.1 2434.8 1935.6 2438.8 C1938.1 2442.7 1942.5 2448.1 1948.8 2453.8 C1955 2459.4 1966.2 2467.8 1973.1 2472.5 C1980 2477.2 1985.9 2478.8 1990 2481.9 C1994.1 2485 1996.2 2487.8 1997.5 2491.2 C1998.8 2494.7 1997.5 2500.6 1997.5 2502.5"/>
<path d="M1911.2 2425.6 C1913.1 2426.2 1918.9 2428.6 1922.5 2429.4 C1926.1 2430.2 1931.1 2430.2 1932.8 2430.3"/>
<path d="M1802.5 2461.2 C1805 2463.4 1808.8 2469.4 1817.5 2474.4 C1826.2 2479.4 1839.4 2485.9 1855 2491.2 C1870.6 2496.6 1894.1 2502.8 1911.2 2506.2 C1928.4 2509.7 1946.2 2511.2 1958.1 2511.9 C1970 2512.5 1976.2 2511.2 1982.5 2510 C1988.8 2508.8 1993.1 2507.5 1995.6 2504.4 C1998.1 2501.2 1997.2 2493.4 1997.5 2491.2"/>
<path d="M1846.6 2446.2 C1848 2447.8 1847.3 2451.6 1855 2455.6 C1862.7 2459.7 1876.9 2466.6 1892.5 2470.6 C1908.1 2474.7 1935.9 2479.1 1948.8 2480 C1961.6 2480.9 1965.9 2476.9 1969.4 2476.2"/>
<path d="M1811.9 2450 C1812.5 2451.2 1812 2454.5 1815.6 2457.5 C1819.2 2460.5 1830.5 2466.1 1833.4 2467.8"/>
<path d="M1967.5 2500.6 C1970.6 2500.3 1981.2 2500 1986.2 2498.8 C1991.2 2497.5 1995.6 2494.1 1997.5 2493.1"/>
<path d="M1885.3 2214.6 L1985.6 2214.6"/>
<!-- d02_bracket5l_bolt7l.py -->
<path d="M1655 1723.1 C1662.5 1714.7 1668.4 1704.7 1673.8 1695 C1679.1 1685.3 1684.1 1673.8 1686.9 1665 C1689.7 1656.2 1690.2 1650 1690.6 1642.5 C1691.1 1635 1690.3 1627.5 1689.7 1620 C1689.1 1612.5 1686.7 1604.4 1686.9 1597.5 C1687 1590.6 1688.1 1584.7 1690.6 1578.8 C1693.1 1572.8 1697.5 1566.4 1701.9 1561.9 C1706.2 1557.3 1712.2 1553.8 1716.9 1551.6 C1721.6 1549.4 1725.9 1548.8 1730 1548.8 C1734.1 1548.8 1737.5 1550 1741.2 1551.6 C1745 1553.1 1750 1554.8 1752.5 1558.1 C1755 1561.4 1756.2 1566.6 1756.2 1571.2 C1756.2 1575.9 1757.5 1575 1752.5 1586.2 C1747.5 1597.5 1735 1620.6 1726.2 1638.8 C1717.5 1656.9 1710 1678.4 1700 1695 C1690 1711.6 1676.6 1726.6 1666.2 1738.1 C1655.9 1749.6 1642.8 1759.8 1638.1 1764 C1633.4 1768.2 1642.8 1760.5 1638.1 1763.1 C1633.4 1765.8 1619.4 1775.3 1610 1780 C1600.6 1784.7 1594.4 1787.8 1581.9 1791.2 C1569.4 1794.7 1548.4 1797.8 1535 1800.6 C1521.6 1803.4 1508.8 1807.2 1501.2 1808.1 C1493.8 1809.1 1493.8 1807.8 1490 1806.2 C1486.2 1804.7 1481.6 1802.2 1478.8 1798.8 C1475.9 1795.3 1473.8 1790 1473.1 1785.6 C1472.5 1781.2 1473.1 1777.2 1475 1772.5 C1476.9 1767.8 1479.7 1764.1 1484.4 1757.5 C1489.1 1750.9 1497.5 1738.9 1503.1 1733.1 C1508.8 1727.3 1513.4 1723.8 1518.1 1722.8 C1522.8 1721.9 1528.3 1725.8 1531.2 1727.5 C1534.2 1729.2 1534.5 1729.1 1535.9 1733.1 C1537.3 1737.2 1538.3 1746.9 1539.7 1751.9 C1541.1 1756.9 1542.3 1760.3 1544.4 1763.1 C1546.4 1765.9 1547.2 1767.2 1551.9 1768.8 C1556.6 1770.3 1564.4 1772.5 1572.5 1772.5 C1580.6 1772.5 1591.2 1771.9 1600.6 1768.8 C1610 1765.6 1624.1 1757.6 1628.8 1753.8 C1633.4 1749.9 1624.4 1750.7 1628.8 1745.6 C1633.1 1740.5 1647.5 1731.6 1655 1723.1 Z"/>
<path d="M1727.2 1557.2 C1724.2 1559.2 1714.2 1564.5 1709.4 1569.4 C1704.5 1574.2 1700.3 1580.9 1698.1 1586.2 C1695.9 1591.6 1696.1 1595 1696.2 1601.2 C1696.4 1607.5 1698.4 1616.9 1699.1 1623.8 C1699.7 1630.6 1700.5 1635.6 1700 1642.5 C1699.5 1649.4 1698.9 1656.7 1696.2 1665 C1693.6 1673.3 1686.1 1687.7 1684.1 1692.2"/>
<path d="M1740.7 1578.5 C1739.9 1577.2 1737.5 1572.3 1735.8 1570.7 C1734 1569.1 1732.4 1568.8 1730.1 1569 C1727.9 1569.2 1725.1 1569.6 1722.2 1571.8 C1719.4 1574 1715.1 1578.6 1713.2 1582 C1711.4 1585.3 1710.6 1589 1711 1592 C1711.4 1595 1713.6 1598.5 1715.5 1600 C1717.4 1601.5 1720.2 1601.2 1722.2 1601 C1724.3 1600.8 1726.9 1599.2 1727.9 1598.8"/>
<path d="M1725.6 1571.8 C1724.7 1573.7 1722.2 1579.8 1720 1583 C1717.8 1586.2 1713.4 1589.6 1712.1 1591"/>
<path d="M1610 1764 C1613.1 1762.3 1631.9 1753 1628.8 1753.8 C1625.6 1754.5 1601.9 1766.1 1591.2 1768.8 C1580.6 1771.4 1572.2 1770 1565 1769.7 C1557.8 1769.4 1550.9 1767.3 1548.1 1766.9"/>
<path d="M1521.9 1728.4 C1519.4 1730.5 1512.5 1734.2 1506.9 1740.6 C1501.2 1747 1492.2 1759.7 1488.1 1766.9 C1484.1 1774.1 1483.1 1778.1 1482.5 1783.8 C1481.9 1789.4 1482.8 1797 1484.4 1800.6 C1485.9 1804.2 1490.6 1804.5 1491.9 1805.3"/>
<path d="M1526 1768.2 C1525.1 1766.8 1522.7 1761.8 1520.9 1760.1 C1519.1 1758.5 1517.4 1758.2 1515.1 1758.4 C1512.8 1758.6 1510 1759 1507.1 1761.3 C1504.2 1763.5 1499.8 1768.2 1497.9 1771.6 C1496 1775.1 1495.2 1778.9 1495.6 1782 C1496 1785 1498.3 1788.5 1500.2 1790 C1502.1 1791.6 1505 1791.4 1507.1 1791.2 C1509.2 1791 1511.9 1789.2 1512.8 1788.9"/>
<path d="M1510.5 1761.3 C1509.6 1763.2 1507.1 1769.5 1504.8 1772.8 C1502.5 1776 1498.1 1779.5 1496.8 1780.8"/>
<path d="M1533.1 1800.6 L1533.1 1889.7"/>
<path d="M1606.2 1807.2 L1671.9 1838.1"/>
<path d="M1587.5 1832.5 L1671.9 1870"/>
<path d="M1587.5 1832.5 C1587.2 1831.2 1585.3 1827.8 1585.6 1825 C1585.9 1822.2 1587.2 1818.3 1589.4 1815.6 C1591.6 1813 1595.9 1810.5 1598.8 1809.1 C1601.6 1807.7 1605 1807.5 1606.2 1807.2"/>
<path d="M1598.8 1837.2 C1598.4 1835.5 1595.9 1830.2 1596.5 1826.9 C1597.1 1823.6 1599.6 1819.8 1602.5 1817.5 C1605.4 1815.2 1611.9 1813.6 1613.8 1812.8"/>
<path d="M1609.6 1842.1 C1609.2 1840.3 1606.8 1835 1607.4 1831.8 C1608 1828.5 1610.5 1824.7 1613.4 1822.4 C1616.2 1820 1622.8 1818.5 1624.6 1817.7"/>
<path d="M1620.5 1846.9 C1620.1 1845.2 1617.6 1839.9 1618.2 1836.6 C1618.9 1833.3 1621.4 1829.6 1624.2 1827.2 C1627.1 1824.9 1633.6 1823.3 1635.5 1822.6"/>
<path d="M1631.4 1851.8 C1631 1850.1 1628.5 1844.8 1629.1 1841.5 C1629.8 1838.2 1632.2 1834.5 1635.1 1832.1 C1638 1829.8 1644.5 1828.2 1646.4 1827.4"/>
<path d="M1642.2 1856.7 C1641.9 1855 1639.4 1849.7 1640 1846.4 C1640.6 1843.1 1643.1 1839.3 1646 1837 C1648.9 1834.7 1655.4 1833.1 1657.2 1832.3"/>
<path d="M1653.1 1861.6 C1652.8 1859.8 1650.2 1854.5 1650.9 1851.2 C1651.5 1848 1654 1844.2 1656.9 1841.9 C1659.8 1839.5 1666.2 1838 1668.1 1837.2"/>
<path d="M1670 1838.1 C1670.9 1837.5 1673.1 1835.3 1675.6 1834.4 C1678.1 1833.4 1681.6 1831.9 1685 1832.5 C1688.4 1833.1 1691.9 1835.9 1696.2 1838.1 C1700.6 1840.3 1708 1842.8 1711.2 1845.6 C1714.5 1848.4 1715.6 1851.2 1715.9 1855 C1716.2 1858.8 1715.5 1863.8 1713.1 1868.1 C1710.8 1872.5 1706.6 1877.5 1701.9 1881.2 C1697.2 1885 1689.7 1889.5 1685 1890.6 C1680.3 1891.7 1678.4 1889.7 1673.8 1887.8 C1669.1 1885.9 1660.6 1882.3 1656.9 1879.4 C1653.1 1876.4 1652 1874.1 1651.2 1870 C1650.5 1865.9 1650.6 1859.4 1652.2 1855 C1653.8 1850.6 1657.7 1846.6 1660.6 1843.8 C1663.6 1840.9 1668.4 1839.1 1670 1838.1"/>
<path d="M1684.1 1850.3 C1684.7 1849.7 1685.2 1848 1687.8 1846.6 C1690.5 1845.2 1696.1 1842 1700 1841.9 C1703.9 1841.7 1709.4 1845 1711.2 1845.6"/>
<path d="M1672.8 1867.2 C1672.5 1869.2 1670.5 1875.8 1670.9 1879.4 C1671.4 1883 1674.8 1887.2 1675.6 1888.8"/>
<path d="M1653.1 1868.1 L1670 1871.9"/>
<path d="M1676 1900 L1676 1975"/>
<path d="M1675.6 1889.7 L1675.6 1954"/>
<!-- z_labels.py -->
<!-- z_leaders.py -->
<path d="M840 190 L840 277.5"/>
<path d="M1987.5 580 L1987.5 665"/>
<path d="M929.4 1868.8 L929.4 1954.4"/>
<path d="M1738.1 2742.1 L1738.1 2859.2"/>
<!-- z_title.py -->
</g>
<g fill="#300000" stroke="#333" stroke-width="0.8" font-family="Liberation Sans, sans-serif" font-weight="bold" text-anchor="middle">
<text transform="translate(841,186) scale(1.16,1)" font-size="49">7</text>
<text transform="translate(1204,213) scale(1.16,1)" font-size="49">5</text>
<text transform="translate(1426,176) scale(1.16,1)" font-size="49">4</text>
<text transform="translate(1507,728) scale(1.16,1)" font-size="49">6</text>
<text transform="translate(1989,576) scale(1.16,1)" font-size="49">2</text>
<text transform="translate(931.5,669) scale(1.16,1)" font-size="49">14</text>
<text transform="translate(1213,796) scale(1.16,1)" font-size="49">17</text>
<text transform="translate(798,1076) scale(1.16,1)" font-size="49">1</text>
<text transform="translate(1740.5,913) scale(1.16,1)" font-size="49">9</text>
<text transform="translate(1717.8,999) scale(1.16,1)" font-size="49">10</text>
<text transform="translate(1871.5,988) scale(1.16,1)" font-size="49">8</text>
<text transform="translate(1390,1228) scale(1.16,1)" font-size="49">3</text>
<text transform="translate(1239,1226) scale(1.16,1)" font-size="49">6</text>
<text transform="translate(578,1493) scale(1.16,1)" font-size="49">17</text>
<text transform="translate(323,1396) scale(1.16,1)" font-size="49">15</text>
<text transform="translate(89,1698) scale(1.16,1)" font-size="49">12</text>
<text transform="translate(60,1801) scale(1.16,1)" font-size="49">11</text>
<text transform="translate(229,1799) scale(1.16,1)" font-size="49">13</text>
<text transform="translate(811.5,1894) scale(1.16,1)" font-size="49">20</text>
<text transform="translate(494.6,1993) scale(1.16,1)" font-size="49">20</text>
<text transform="translate(759.6,2229) scale(1.16,1)" font-size="49">21</text>
<text transform="translate(1328,2583) scale(1.16,1)" font-size="49">24</text>
<text transform="translate(1424,2677) scale(1.16,1)" font-size="49">23</text>
<text transform="translate(2348,1237) scale(1.16,1)" font-size="49">20</text>
<text transform="translate(2144.4,1358) scale(1.16,1)" font-size="49">20</text>
<text transform="translate(2090,1402) scale(1.16,1)" font-size="49">21</text>
<text transform="translate(1978,1648) scale(1.16,1)" font-size="49">22</text>
<text transform="translate(1952,1883) scale(1.16,1)" font-size="49">24</text>
<text transform="translate(1878,1954) scale(1.16,1)" font-size="49">23</text>
<text transform="translate(1847,2233) scale(1.16,1)" font-size="49">18</text>
<text transform="translate(1066,2518) scale(1.16,1)" font-size="49">22</text>
<text transform="translate(1743,2904) scale(1.16,1)" font-size="49">19</text>
<text transform="translate(1534.5,1934) scale(1.16,1)" font-size="49">5</text>
<text transform="translate(1676,2019) scale(1.16,1)" font-size="49">7</text>
<text transform="translate(1583,1299) scale(1.16,1)" font-size="49">16</text>
<text transform="translate(933,1994) scale(1.16,1)" font-size="49">16</text>
<text transform="translate(-9.00,68.40) scale(1.2490,1)" font-size="91.5" text-anchor="start" stroke="#2b0000" stroke-width="2">F</text>
<text transform="translate(55.35,68.40) scale(1.6478,1)" font-size="91.5" text-anchor="start" stroke="#2b0000" stroke-width="2">I</text>
<text transform="translate(94.21,68.40) scale(1.1435,1)" font-size="91.5" text-anchor="start" stroke="#2b0000" stroke-width="2">G</text>
<text transform="translate(171.52,68.40) scale(1.8075,1)" font-size="91.5" text-anchor="start" stroke="#2b0000" stroke-width="2">.</text>
<text transform="translate(219.45,68.40) scale(0.9385,1)" font-size="91.5" text-anchor="start" stroke="#2b0000" stroke-width="2">1</text>
<text transform="translate(285.68,68.40) scale(1.3912,1)" font-size="91.5" text-anchor="start" stroke="#2b0000" stroke-width="2">2</text>
<text transform="translate(354.75,68.40) scale(1.3789,1)" font-size="91.5" text-anchor="start" stroke="#2b0000" stroke-width="2">6</text>
<text transform="translate(423.02,68.40) scale(1.2694,1)" font-size="91.5" text-anchor="start" stroke="#2b0000" stroke-width="2">A</text>
</g>
</svg>
</body></html>
